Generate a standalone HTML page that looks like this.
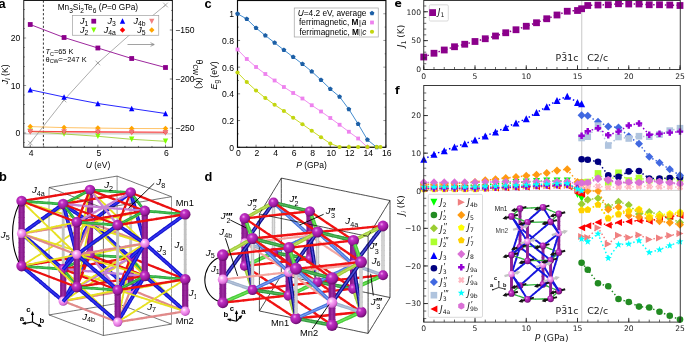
<!DOCTYPE html>
<html lang="en"><head><meta charset="utf-8"><title>Figure</title>
<style>
html,body{margin:0;padding:0;background:#fff;}
body{width:685px;height:344px;overflow:hidden;}
svg{display:block;}
text{white-space:pre;}
.ls{font-family:"Liberation Sans","DejaVu Sans",sans-serif;}
.dv{font-family:"DejaVu Sans","Liberation Sans",sans-serif;}
</style></head><body>
<svg width="685" height="344" viewBox="0 0 685 344">
<rect x="0" y="0" width="685" height="344" fill="#fff"/>
<g id="pa">
<line x1="23.75" y1="133.9" x2="172.4" y2="133.9" stroke="#b0b0b0" stroke-width="0.8"/>
<polyline points="30.25,143 64.06,100 97.88,63 131.69,33 165.5,5" fill="none" stroke="#8a8a8a" stroke-width="0.7"/>
<line x1="27.95" y1="140.7" x2="32.55" y2="145.3" stroke="#8a8a8a" stroke-width="0.7"/>
<line x1="27.95" y1="145.3" x2="32.55" y2="140.7" stroke="#8a8a8a" stroke-width="0.7"/>
<line x1="61.76" y1="97.7" x2="66.36" y2="102.3" stroke="#8a8a8a" stroke-width="0.7"/>
<line x1="61.76" y1="102.3" x2="66.36" y2="97.7" stroke="#8a8a8a" stroke-width="0.7"/>
<line x1="95.58" y1="60.7" x2="100.17" y2="65.3" stroke="#8a8a8a" stroke-width="0.7"/>
<line x1="95.58" y1="65.3" x2="100.17" y2="60.7" stroke="#8a8a8a" stroke-width="0.7"/>
<line x1="129.39" y1="30.7" x2="133.99" y2="35.3" stroke="#8a8a8a" stroke-width="0.7"/>
<line x1="129.39" y1="35.3" x2="133.99" y2="30.7" stroke="#8a8a8a" stroke-width="0.7"/>
<line x1="163.2" y1="2.7" x2="167.8" y2="7.3" stroke="#8a8a8a" stroke-width="0.7"/>
<line x1="163.2" y1="7.3" x2="167.8" y2="2.7" stroke="#8a8a8a" stroke-width="0.7"/>
<line x1="43.4" y1="0.5" x2="43.4" y2="147.25" stroke="#000" stroke-width="0.8" stroke-dasharray="2.2 2"/>
<line x1="127.5" y1="44.5" x2="154" y2="44.5" stroke="#8a8a8a" stroke-width="0.8"/>
<polyline points="150.5,42.7 154.3,44.5 150.5,46.3" fill="none" stroke="#8a8a8a" stroke-width="0.8"/>
<polyline points="30.25,131.3 64.06,134 97.88,136.3 131.69,139.3 165.5,141.3" fill="none" stroke="#9acd32" stroke-width="0.85"/>
<polyline points="30.25,126.6 64.06,127.6 97.88,128.1 131.69,128.5 165.5,128.6" fill="none" stroke="#ffb84d" stroke-width="0.85"/>
<polyline points="30.25,131.3 64.06,131.6 97.88,131.8 131.69,132 165.5,132.2" fill="none" stroke="#ff0000" stroke-width="0.85"/>
<polyline points="30.25,131.8 64.06,132.1 97.88,132.4 131.69,132.6 165.5,132.8" fill="none" stroke="#f26a6a" stroke-width="0.85"/>
<polyline points="30.25,89.75 64.06,97 97.88,103.5 131.69,108.5 165.5,113.5" fill="none" stroke="#0000ff" stroke-width="0.85"/>
<polyline points="30.25,24.5 64.06,37.5 97.88,48 131.69,58.5 165.5,67.5" fill="none" stroke="#8b008b" stroke-width="0.85"/>
<polygon points="30.25,134 32.95,128.6 27.55,128.6" fill="#7fff00"/>
<polygon points="64.06,136.7 66.76,131.3 61.36,131.3" fill="#7fff00"/>
<polygon points="97.88,139 100.58,133.6 95.17,133.6" fill="#7fff00"/>
<polygon points="131.69,142 134.39,136.6 128.99,136.6" fill="#7fff00"/>
<polygon points="165.5,144 168.2,138.6 162.8,138.6" fill="#7fff00"/>
<polygon points="30.25,123.87 32.98,126.6 30.25,129.33 27.52,126.6" fill="#ffa500"/>
<polygon points="64.06,124.87 66.79,127.6 64.06,130.33 61.33,127.6" fill="#ffa500"/>
<polygon points="97.88,125.37 100.61,128.1 97.88,130.83 95.14,128.1" fill="#ffa500"/>
<polygon points="131.69,125.77 134.42,128.5 131.69,131.23 128.96,128.5" fill="#ffa500"/>
<polygon points="165.5,125.87 168.23,128.6 165.5,131.33 162.77,128.6" fill="#ffa500"/>
<polygon points="30.25,128.96 32.59,131.3 30.25,133.64 27.91,131.3" fill="#ff0000"/>
<polygon points="64.06,129.26 66.4,131.6 64.06,133.94 61.72,131.6" fill="#ff0000"/>
<polygon points="97.88,129.46 100.22,131.8 97.88,134.14 95.53,131.8" fill="#ff0000"/>
<polygon points="131.69,129.66 134.03,132 131.69,134.34 129.35,132" fill="#ff0000"/>
<polygon points="165.5,129.86 167.84,132.2 165.5,134.54 163.16,132.2" fill="#ff0000"/>
<polygon points="30.25,134.7 33.15,128.9 27.35,128.9" fill="#f07878"/>
<polygon points="64.06,135 66.96,129.2 61.16,129.2" fill="#f07878"/>
<polygon points="97.88,135.3 100.78,129.5 94.97,129.5" fill="#f07878"/>
<polygon points="131.69,135.5 134.59,129.7 128.79,129.7" fill="#f07878"/>
<polygon points="165.5,135.7 168.4,129.9 162.6,129.9" fill="#f07878"/>
<polygon points="30.25,87.05 32.95,92.45 27.55,92.45" fill="#0000ff"/>
<polygon points="64.06,94.3 66.76,99.7 61.36,99.7" fill="#0000ff"/>
<polygon points="97.88,100.8 100.58,106.2 95.17,106.2" fill="#0000ff"/>
<polygon points="131.69,105.8 134.39,111.2 128.99,111.2" fill="#0000ff"/>
<polygon points="165.5,110.8 168.2,116.2 162.8,116.2" fill="#0000ff"/>
<rect x="27.85" y="22.1" width="4.8" height="4.8" fill="#8b008b"/>
<rect x="61.66" y="35.1" width="4.8" height="4.8" fill="#8b008b"/>
<rect x="95.47" y="45.6" width="4.8" height="4.8" fill="#8b008b"/>
<rect x="129.29" y="56.1" width="4.8" height="4.8" fill="#8b008b"/>
<rect x="163.1" y="65.1" width="4.8" height="4.8" fill="#8b008b"/>
<rect x="23.75" y="0.5" width="148.65" height="146.75" fill="none" stroke="#1c1c1c" stroke-width="1"/>
<line x1="23.75" y1="142.5" x2="24.95" y2="142.5" stroke="#000" stroke-width="0.4"/>
<line x1="23.75" y1="133" x2="26.15" y2="133" stroke="#000" stroke-width="0.4"/>
<line x1="23.75" y1="123.5" x2="24.95" y2="123.5" stroke="#000" stroke-width="0.4"/>
<line x1="23.75" y1="114" x2="24.95" y2="114" stroke="#000" stroke-width="0.4"/>
<line x1="23.75" y1="104.5" x2="24.95" y2="104.5" stroke="#000" stroke-width="0.4"/>
<line x1="23.75" y1="95" x2="24.95" y2="95" stroke="#000" stroke-width="0.4"/>
<line x1="23.75" y1="85.5" x2="26.15" y2="85.5" stroke="#000" stroke-width="0.4"/>
<line x1="23.75" y1="76" x2="24.95" y2="76" stroke="#000" stroke-width="0.4"/>
<line x1="23.75" y1="66.5" x2="24.95" y2="66.5" stroke="#000" stroke-width="0.4"/>
<line x1="23.75" y1="57" x2="24.95" y2="57" stroke="#000" stroke-width="0.4"/>
<line x1="23.75" y1="47.5" x2="24.95" y2="47.5" stroke="#000" stroke-width="0.4"/>
<line x1="23.75" y1="38" x2="26.15" y2="38" stroke="#000" stroke-width="0.4"/>
<line x1="23.75" y1="28.5" x2="24.95" y2="28.5" stroke="#000" stroke-width="0.4"/>
<line x1="23.75" y1="19" x2="24.95" y2="19" stroke="#000" stroke-width="0.4"/>
<line x1="23.75" y1="9.5" x2="24.95" y2="9.5" stroke="#000" stroke-width="0.4"/>
<line x1="30.25" y1="147.25" x2="30.25" y2="144.65" stroke="#000" stroke-width="0.5"/>
<line x1="43.78" y1="147.25" x2="43.78" y2="145.95" stroke="#000" stroke-width="0.5"/>
<line x1="57.3" y1="147.25" x2="57.3" y2="145.95" stroke="#000" stroke-width="0.5"/>
<line x1="70.82" y1="147.25" x2="70.82" y2="145.95" stroke="#000" stroke-width="0.5"/>
<line x1="84.35" y1="147.25" x2="84.35" y2="145.95" stroke="#000" stroke-width="0.5"/>
<line x1="97.88" y1="147.25" x2="97.88" y2="144.65" stroke="#000" stroke-width="0.5"/>
<line x1="111.4" y1="147.25" x2="111.4" y2="145.95" stroke="#000" stroke-width="0.5"/>
<line x1="124.93" y1="147.25" x2="124.93" y2="145.95" stroke="#000" stroke-width="0.5"/>
<line x1="138.45" y1="147.25" x2="138.45" y2="145.95" stroke="#000" stroke-width="0.5"/>
<line x1="151.97" y1="147.25" x2="151.97" y2="145.95" stroke="#000" stroke-width="0.5"/>
<line x1="165.5" y1="147.25" x2="165.5" y2="144.65" stroke="#000" stroke-width="0.5"/>
<line x1="172.4" y1="137.8" x2="171.1" y2="137.8" stroke="#000" stroke-width="0.5"/>
<line x1="172.4" y1="128" x2="169.8" y2="128" stroke="#000" stroke-width="0.5"/>
<line x1="172.4" y1="118.2" x2="171.1" y2="118.2" stroke="#000" stroke-width="0.5"/>
<line x1="172.4" y1="108.4" x2="171.1" y2="108.4" stroke="#000" stroke-width="0.5"/>
<line x1="172.4" y1="98.6" x2="171.1" y2="98.6" stroke="#000" stroke-width="0.5"/>
<line x1="172.4" y1="88.8" x2="171.1" y2="88.8" stroke="#000" stroke-width="0.5"/>
<line x1="172.4" y1="79" x2="169.8" y2="79" stroke="#000" stroke-width="0.5"/>
<line x1="172.4" y1="69.2" x2="171.1" y2="69.2" stroke="#000" stroke-width="0.5"/>
<line x1="172.4" y1="59.4" x2="171.1" y2="59.4" stroke="#000" stroke-width="0.5"/>
<line x1="172.4" y1="49.6" x2="171.1" y2="49.6" stroke="#000" stroke-width="0.5"/>
<line x1="172.4" y1="39.8" x2="171.1" y2="39.8" stroke="#000" stroke-width="0.5"/>
<line x1="172.4" y1="30" x2="169.8" y2="30" stroke="#000" stroke-width="0.5"/>
<line x1="172.4" y1="20.2" x2="171.1" y2="20.2" stroke="#000" stroke-width="0.5"/>
<line x1="172.4" y1="10.4" x2="171.1" y2="10.4" stroke="#000" stroke-width="0.5"/>
<line x1="172.4" y1="0.6" x2="171.1" y2="0.6" stroke="#000" stroke-width="0.5"/>
<text x="20.3" y="136.4" font-size="8.6" text-anchor="end" class="ls">0</text>
<text x="20.3" y="88.9" font-size="8.6" text-anchor="end" class="ls">10</text>
<text x="20.3" y="41.4" font-size="8.6" text-anchor="end" class="ls">20</text>
<text x="31.15" y="156.4" font-size="8.6" text-anchor="middle" class="ls">4</text>
<text x="98.78" y="156.4" font-size="8.6" text-anchor="middle" class="ls">5</text>
<text x="166.4" y="156.4" font-size="8.6" text-anchor="middle" class="ls">6</text>
<text x="175.2" y="33.4" font-size="8.6" class="ls">−150</text>
<text x="175.2" y="82.4" font-size="8.6" class="ls">−200</text>
<text x="175.2" y="131.4" font-size="8.6" class="ls">−250</text>
<text x="98" y="167.8" font-size="8.5" text-anchor="middle" class="ls"><tspan font-style="italic">U</tspan> (eV)</text>
<text x="8.3" y="74.3" font-size="8.7" text-anchor="middle" class="ls" transform="rotate(-90 8.3 74.3)"><tspan font-style="italic">J</tspan><tspan dy="1.8" font-size="6.3" font-style="italic">i</tspan><tspan dy="-1.8"> (K)</tspan></text>
<text x="195.6" y="74.3" font-size="8.7" text-anchor="middle" class="ls" transform="rotate(90 195.6 74.3)">θ<tspan dy="2.2" font-size="6.3">CW</tspan><tspan dy="-2.2"> (K)</tspan></text>
<text x="97.9" y="10.3" font-size="8.3" text-anchor="middle" class="ls">Mn<tspan dy="2.5" font-size="6.6">3</tspan><tspan dy="-2.5">Si</tspan><tspan dy="2.5" font-size="6.6">2</tspan><tspan dy="-2.5">Te</tspan><tspan dy="2.5" font-size="6.6">6</tspan><tspan dy="-2.5"> (</tspan><tspan font-style="italic">P</tspan>=0 GPa)</text>
<rect x="72.5" y="15.5" width="86.25" height="19.75" fill="#fff" stroke="#a0a0a0" stroke-width="0.7"/>
<text x="88.3" y="23.8" font-size="9" text-anchor="end" class="ls"><tspan font-style="italic">J</tspan><tspan dy="2.4" font-size="6.8">1</tspan></text>
<rect x="91.35" y="18.8" width="4.8" height="4.8" fill="#8b008b"/>
<text x="88.3" y="32.6" font-size="9" text-anchor="end" class="ls"><tspan font-style="italic">J</tspan><tspan dy="2.4" font-size="6.8">2</tspan></text>
<polygon points="93.75,32.8 96.35,27.6 91.15,27.6" fill="#7fff00"/>
<text x="115.8" y="23.8" font-size="9" text-anchor="end" class="ls"><tspan font-style="italic">J</tspan><tspan dy="2.4" font-size="6.8">3</tspan></text>
<polygon points="122.5,18.3 125.2,23.7 119.8,23.7" fill="#0000ff"/>
<text x="115.8" y="32.6" font-size="9" text-anchor="end" class="ls"><tspan font-style="italic">J</tspan><tspan dy="2.4" font-size="6.8">4a</tspan></text>
<polygon points="122.5,27.27 125.23,30 122.5,32.73 119.77,30" fill="#ff0000"/>
<text x="145.6" y="23.8" font-size="9" text-anchor="end" class="ls"><tspan font-style="italic">J</tspan><tspan dy="2.4" font-size="6.8">4b</tspan></text>
<polygon points="151.75,24 154.35,18.8 149.15,18.8" fill="#f08080"/>
<text x="145.6" y="32.6" font-size="9" text-anchor="end" class="ls"><tspan font-style="italic">J</tspan><tspan dy="2.4" font-size="6.8">5</tspan></text>
<polygon points="151.75,27.27 154.48,30 151.75,32.73 149.02,30" fill="#ffa500"/>
<text x="45.5" y="54.3" font-size="7.4" class="ls"><tspan font-style="italic">T</tspan><tspan dy="1.8" font-size="5.4">C</tspan><tspan dy="-1.8">=65 K</tspan></text>
<text x="45.5" y="61.5" font-size="7.4" class="ls">θ<tspan dy="1.8" font-size="5.4">CW</tspan><tspan dy="-1.8">=−247 K</tspan></text>
<text x="-1.5" y="7.7" font-size="12.8" class="ls" font-weight="bold">a</text>
</g>
<g id="pc">
<polyline points="237.5,13.75 246.78,19 256.06,28 265.34,35.5 274.62,42.75 283.9,50 293.18,57 302.46,64 311.74,71.5 321.02,80 330.3,89 339.58,96.75 348.86,109.25 358.14,124 367.42,139.75 376.7,147.25" fill="none" stroke="#2f7fc8" stroke-width="0.9"/>
<polyline points="237.5,49.5 246.78,59 256.06,67 265.34,74 274.62,80.5 283.9,87 293.18,93 302.46,98.5 311.74,105.25 321.02,111.5 330.3,118 339.58,124.75 348.86,131.75 358.14,138.5 367.42,147.25" fill="none" stroke="#ee82ee" stroke-width="0.9"/>
<polyline points="237.5,72.5 246.78,82 256.06,90.5 265.34,98 274.62,104.75 283.9,111 293.18,117.75 302.46,124.25 311.74,130.75 321.02,137.25 330.3,143.5 339.58,147 348.86,147 358.14,147 367.42,147 376.7,147 380.41,147" fill="none" stroke="#c3d60f" stroke-width="0.9"/>
<rect x="237.5" y="0.5" width="148.4" height="146.8" fill="none" stroke="#0a0a0a" stroke-width="1.15"/>
<line x1="237.5" y1="147.25" x2="240.1" y2="147.25" stroke="#000" stroke-width="0.5"/>
<line x1="237.5" y1="133.9" x2="238.8" y2="133.9" stroke="#000" stroke-width="0.5"/>
<line x1="237.5" y1="120.55" x2="240.1" y2="120.55" stroke="#000" stroke-width="0.5"/>
<line x1="237.5" y1="107.2" x2="238.8" y2="107.2" stroke="#000" stroke-width="0.5"/>
<line x1="237.5" y1="93.85" x2="240.1" y2="93.85" stroke="#000" stroke-width="0.5"/>
<line x1="237.5" y1="80.5" x2="238.8" y2="80.5" stroke="#000" stroke-width="0.5"/>
<line x1="237.5" y1="67.15" x2="240.1" y2="67.15" stroke="#000" stroke-width="0.5"/>
<line x1="237.5" y1="53.8" x2="238.8" y2="53.8" stroke="#000" stroke-width="0.5"/>
<line x1="237.5" y1="40.45" x2="240.1" y2="40.45" stroke="#000" stroke-width="0.5"/>
<line x1="237.5" y1="27.1" x2="238.8" y2="27.1" stroke="#000" stroke-width="0.5"/>
<line x1="237.5" y1="13.75" x2="240.1" y2="13.75" stroke="#000" stroke-width="0.5"/>
<line x1="237.5" y1="147.3" x2="237.5" y2="144.7" stroke="#000" stroke-width="0.5"/>
<line x1="246.78" y1="147.3" x2="246.78" y2="146" stroke="#000" stroke-width="0.5"/>
<line x1="256.06" y1="147.3" x2="256.06" y2="144.7" stroke="#000" stroke-width="0.5"/>
<line x1="265.34" y1="147.3" x2="265.34" y2="146" stroke="#000" stroke-width="0.5"/>
<line x1="274.62" y1="147.3" x2="274.62" y2="144.7" stroke="#000" stroke-width="0.5"/>
<line x1="283.9" y1="147.3" x2="283.9" y2="146" stroke="#000" stroke-width="0.5"/>
<line x1="293.18" y1="147.3" x2="293.18" y2="144.7" stroke="#000" stroke-width="0.5"/>
<line x1="302.46" y1="147.3" x2="302.46" y2="146" stroke="#000" stroke-width="0.5"/>
<line x1="311.74" y1="147.3" x2="311.74" y2="144.7" stroke="#000" stroke-width="0.5"/>
<line x1="321.02" y1="147.3" x2="321.02" y2="146" stroke="#000" stroke-width="0.5"/>
<line x1="330.3" y1="147.3" x2="330.3" y2="144.7" stroke="#000" stroke-width="0.5"/>
<line x1="339.58" y1="147.3" x2="339.58" y2="146" stroke="#000" stroke-width="0.5"/>
<line x1="348.86" y1="147.3" x2="348.86" y2="144.7" stroke="#000" stroke-width="0.5"/>
<line x1="358.14" y1="147.3" x2="358.14" y2="146" stroke="#000" stroke-width="0.5"/>
<line x1="367.42" y1="147.3" x2="367.42" y2="144.7" stroke="#000" stroke-width="0.5"/>
<line x1="376.7" y1="147.3" x2="376.7" y2="146" stroke="#000" stroke-width="0.5"/>
<line x1="385.98" y1="147.3" x2="385.98" y2="144.7" stroke="#000" stroke-width="0.5"/>
<line x1="385.9" y1="147.25" x2="383.3" y2="147.25" stroke="#000" stroke-width="0.4"/>
<line x1="385.9" y1="133.9" x2="384.6" y2="133.9" stroke="#000" stroke-width="0.4"/>
<line x1="385.9" y1="120.55" x2="383.3" y2="120.55" stroke="#000" stroke-width="0.4"/>
<line x1="385.9" y1="107.2" x2="384.6" y2="107.2" stroke="#000" stroke-width="0.4"/>
<line x1="385.9" y1="93.85" x2="383.3" y2="93.85" stroke="#000" stroke-width="0.4"/>
<line x1="385.9" y1="80.5" x2="384.6" y2="80.5" stroke="#000" stroke-width="0.4"/>
<line x1="385.9" y1="67.15" x2="383.3" y2="67.15" stroke="#000" stroke-width="0.4"/>
<line x1="385.9" y1="53.8" x2="384.6" y2="53.8" stroke="#000" stroke-width="0.4"/>
<line x1="385.9" y1="40.45" x2="383.3" y2="40.45" stroke="#000" stroke-width="0.4"/>
<line x1="385.9" y1="27.1" x2="384.6" y2="27.1" stroke="#000" stroke-width="0.4"/>
<line x1="385.9" y1="13.75" x2="383.3" y2="13.75" stroke="#000" stroke-width="0.4"/>
<polygon points="237.5,11.23 239.9,12.97 238.98,15.79 236.02,15.79 235.1,12.97" fill="#1c5fa6"/>
<polygon points="246.78,16.48 249.18,18.22 248.26,21.04 245.3,21.04 244.38,18.22" fill="#1c5fa6"/>
<polygon points="256.06,25.48 258.46,27.22 257.54,30.04 254.58,30.04 253.66,27.22" fill="#1c5fa6"/>
<polygon points="265.34,32.98 267.74,34.72 266.82,37.54 263.86,37.54 262.94,34.72" fill="#1c5fa6"/>
<polygon points="274.62,40.23 277.02,41.97 276.1,44.79 273.14,44.79 272.22,41.97" fill="#1c5fa6"/>
<polygon points="283.9,47.48 286.3,49.22 285.38,52.04 282.42,52.04 281.5,49.22" fill="#1c5fa6"/>
<polygon points="293.18,54.48 295.58,56.22 294.66,59.04 291.7,59.04 290.78,56.22" fill="#1c5fa6"/>
<polygon points="302.46,61.48 304.86,63.22 303.94,66.04 300.98,66.04 300.06,63.22" fill="#1c5fa6"/>
<polygon points="311.74,68.98 314.14,70.72 313.22,73.54 310.26,73.54 309.34,70.72" fill="#1c5fa6"/>
<polygon points="321.02,77.48 323.42,79.22 322.5,82.04 319.54,82.04 318.62,79.22" fill="#1c5fa6"/>
<polygon points="330.3,86.48 332.7,88.22 331.78,91.04 328.82,91.04 327.9,88.22" fill="#1c5fa6"/>
<polygon points="339.58,94.23 341.98,95.97 341.06,98.79 338.1,98.79 337.18,95.97" fill="#1c5fa6"/>
<polygon points="348.86,106.73 351.26,108.47 350.34,111.29 347.38,111.29 346.46,108.47" fill="#1c5fa6"/>
<polygon points="358.14,121.48 360.54,123.22 359.62,126.04 356.66,126.04 355.74,123.22" fill="#1c5fa6"/>
<polygon points="367.42,137.23 369.82,138.97 368.9,141.79 365.94,141.79 365.02,138.97" fill="#1c5fa6"/>
<polygon points="376.7,144.73 379.1,146.47 378.18,149.29 375.22,149.29 374.3,146.47" fill="#1c5fa6"/>
<rect x="235.6" y="47.6" width="3.8" height="3.8" fill="#ee82ee"/>
<rect x="244.88" y="57.1" width="3.8" height="3.8" fill="#ee82ee"/>
<rect x="254.16" y="65.1" width="3.8" height="3.8" fill="#ee82ee"/>
<rect x="263.44" y="72.1" width="3.8" height="3.8" fill="#ee82ee"/>
<rect x="272.72" y="78.6" width="3.8" height="3.8" fill="#ee82ee"/>
<rect x="282" y="85.1" width="3.8" height="3.8" fill="#ee82ee"/>
<rect x="291.28" y="91.1" width="3.8" height="3.8" fill="#ee82ee"/>
<rect x="300.56" y="96.6" width="3.8" height="3.8" fill="#ee82ee"/>
<rect x="309.84" y="103.35" width="3.8" height="3.8" fill="#ee82ee"/>
<rect x="319.12" y="109.6" width="3.8" height="3.8" fill="#ee82ee"/>
<rect x="328.4" y="116.1" width="3.8" height="3.8" fill="#ee82ee"/>
<rect x="337.68" y="122.85" width="3.8" height="3.8" fill="#ee82ee"/>
<rect x="346.96" y="129.85" width="3.8" height="3.8" fill="#ee82ee"/>
<rect x="356.24" y="136.6" width="3.8" height="3.8" fill="#ee82ee"/>
<rect x="365.52" y="145.35" width="3.8" height="3.8" fill="#ee82ee"/>
<circle cx="237.5" cy="72.5" r="2.1" fill="#c3d60f"/>
<circle cx="246.78" cy="82" r="2.1" fill="#c3d60f"/>
<circle cx="256.06" cy="90.5" r="2.1" fill="#c3d60f"/>
<circle cx="265.34" cy="98" r="2.1" fill="#c3d60f"/>
<circle cx="274.62" cy="104.75" r="2.1" fill="#c3d60f"/>
<circle cx="283.9" cy="111" r="2.1" fill="#c3d60f"/>
<circle cx="293.18" cy="117.75" r="2.1" fill="#c3d60f"/>
<circle cx="302.46" cy="124.25" r="2.1" fill="#c3d60f"/>
<circle cx="311.74" cy="130.75" r="2.1" fill="#c3d60f"/>
<circle cx="321.02" cy="137.25" r="2.1" fill="#c3d60f"/>
<circle cx="330.3" cy="143.5" r="2.1" fill="#c3d60f"/>
<circle cx="339.58" cy="147" r="2.1" fill="#c3d60f"/>
<circle cx="348.86" cy="147" r="2.1" fill="#c3d60f"/>
<circle cx="358.14" cy="147" r="2.1" fill="#c3d60f"/>
<circle cx="367.42" cy="147" r="2.1" fill="#c3d60f"/>
<circle cx="376.7" cy="147" r="2.1" fill="#c3d60f"/>
<circle cx="380.41" cy="147" r="2.1" fill="#c3d60f"/>
<text x="234" y="17.25" font-size="8.6" text-anchor="end" class="ls">1</text>
<text x="234" y="43.95" font-size="8.6" text-anchor="end" class="ls">0.8</text>
<text x="234" y="70.65" font-size="8.6" text-anchor="end" class="ls">0.6</text>
<text x="234" y="97.35" font-size="8.6" text-anchor="end" class="ls">0.4</text>
<text x="234" y="124.05" font-size="8.6" text-anchor="end" class="ls">0.2</text>
<text x="234" y="150.75" font-size="8.6" text-anchor="end" class="ls">0</text>
<text x="238.4" y="156.4" font-size="8.6" text-anchor="middle" class="ls">0</text>
<text x="256.96" y="156.4" font-size="8.6" text-anchor="middle" class="ls">2</text>
<text x="275.52" y="156.4" font-size="8.6" text-anchor="middle" class="ls">4</text>
<text x="294.08" y="156.4" font-size="8.6" text-anchor="middle" class="ls">6</text>
<text x="312.64" y="156.4" font-size="8.6" text-anchor="middle" class="ls">8</text>
<text x="331.2" y="156.4" font-size="8.6" text-anchor="middle" class="ls">10</text>
<text x="349.76" y="156.4" font-size="8.6" text-anchor="middle" class="ls">12</text>
<text x="368.32" y="156.4" font-size="8.6" text-anchor="middle" class="ls">14</text>
<text x="386.88" y="156.4" font-size="8.6" text-anchor="middle" class="ls">16</text>
<text x="311.5" y="167.8" font-size="8.5" text-anchor="middle" class="ls"><tspan font-style="italic">P</tspan> (GPa)</text>
<text x="217.5" y="75.3" font-size="8.7" text-anchor="middle" class="ls" transform="rotate(-90 217.5 75.3)"><tspan font-style="italic">E</tspan><tspan dy="1.8" font-size="6.3">g</tspan><tspan dy="-1.8"> (eV)</tspan></text>
<rect x="294.25" y="8" width="84" height="29" fill="#fff" stroke="#a0a0a0" stroke-width="0.7"/>
<text x="366.4" y="16.1" font-size="8.3" text-anchor="end" class="ls"><tspan font-style="italic">U</tspan>=4.2 eV, average</text>
<text x="366.4" y="25.4" font-size="8.3" text-anchor="end" class="ls">ferrimagnetic, <tspan font-weight="bold">M</tspan><tspan font-size="6.3" dy="-0.5" fill="#555">||</tspan><tspan font-style="italic" dy="0.5">a</tspan></text>
<text x="366.4" y="34.6" font-size="8.3" text-anchor="end" class="ls">ferrimagnetic, <tspan font-weight="bold">M</tspan><tspan font-size="6.3" dy="-0.5" fill="#555">||</tspan><tspan font-style="italic" dy="0.5">c</tspan></text>
<polygon points="372,10.73 374.4,12.47 373.48,15.29 370.52,15.29 369.6,12.47" fill="#1c5fa6"/>
<rect x="370.1" y="20.6" width="3.8" height="3.8" fill="#ee82ee"/>
<circle cx="372" cy="31.75" r="2.1" fill="#c3d60f"/>
<text x="204.4" y="7.7" font-size="12.8" class="ls" font-weight="bold">c</text>
</g>
<g id="pb">
<defs>
<radialGradient id="gm1" cx="0.38" cy="0.34" r="0.7"><stop offset="0" stop-color="#f0a0ee"/><stop offset="0.25" stop-color="#c030c4"/><stop offset="0.7" stop-color="#9a1a9e"/><stop offset="1" stop-color="#5e0a62"/></radialGradient>
<radialGradient id="gm2" cx="0.38" cy="0.34" r="0.7"><stop offset="0" stop-color="#ffffff"/><stop offset="0.3" stop-color="#f9a8f5"/><stop offset="0.75" stop-color="#e070dc"/><stop offset="1" stop-color="#a040a0"/></radialGradient>
</defs>
<style>
.bx{stroke:#1a1a1a;stroke-width:0.6;fill:none}
.bxv{stroke:#777;stroke-width:0.75;fill:none}
.bxd{stroke:#111;stroke-width:0.75;fill:none}
.j1{stroke:#871a8b;stroke-width:6.2;fill:none}
.j1h{stroke:#9a2a9e;stroke-width:2.2;fill:none}
.j3h{stroke:#3535ee;stroke-width:1.5;fill:none}
.j2h{stroke:#4cc45a;stroke-width:1;fill:none}
.d3ah{stroke:#5252dc;stroke-width:1.3;fill:none}
.d3bh{stroke:#7fa2f2;stroke-width:1.1;fill:none}
.d3ch{stroke:#b6c4da;stroke-width:1.1;fill:none}
.d2ah{stroke:#55b85e;stroke-width:1.2;fill:none}
.d2bh{stroke:#bfe060;stroke-width:1.2;fill:none}
.d2ch{stroke:#72e060;stroke-width:1.3;fill:none}
.d6h{stroke:#dedede;stroke-width:1.1;fill:none}
.j3{stroke:#1212d0;stroke-width:3.7;fill:none}
.j2{stroke:#27a83a;stroke-width:2.7;fill:none}
.j4a{stroke:#ea1010;stroke-width:2.3;fill:none}
.j4b{stroke:#e08a8a;stroke-width:2.2;fill:none}
.j6{stroke:#c2c2c2;stroke-width:2.8;fill:none}
.j7{stroke:#e6e022;stroke-width:1.8;fill:none}
.j8{stroke:#c583d6;stroke-width:2.3;fill:none}
.d1{stroke:#8a1a8e;stroke-width:6.8;fill:none}
.d6{stroke:#c4c4c4;stroke-width:3.4;fill:none}
.d2a{stroke:#2f9a3a;stroke-width:3.5;fill:none}
.d2b{stroke:#a0cc3a;stroke-width:3.5;fill:none}
.d2c{stroke:#45cc35;stroke-width:3.7;fill:none}
.d3a{stroke:#12128c;stroke-width:3.7;fill:none}
.d3b{stroke:#4573dc;stroke-width:3.4;fill:none}
.d3c{stroke:#a0b2cc;stroke-width:3.4;fill:none}
.d4a{stroke:#f01212;stroke-width:2.3;fill:none}
.d4b{stroke:#f2a6a0;stroke-width:2.1;fill:none}
.i1{stroke:#8f1f93;stroke-width:2.9;fill:none}
.i3{stroke:#1515dd;stroke-width:1.9;fill:none}
.i2{stroke:#2fb23a;stroke-width:1.3;fill:none}
.ar{stroke:#151515;stroke-width:2;fill:none}
.ag{stroke:#c4c4c4;stroke-width:2.3;fill:none}
</style>
<clipPath id="cpb"><rect x="0" y="172" width="195.9" height="172"/></clipPath><g clip-path="url(#cpb)">
<path class="bx" d="M112.3 304.3L117.1 303.5"/>
<path class="bxv" d="M117.1 298.4L117.1 303.5"/>
<path class="bx" d="M117.1 303.5L121.7 305.2"/>
<path class="bx" d="M102.6 305.9L112.3 304.3"/>
<path class="bxv" d="M117.1 293.3L117.1 298.4"/>
<path class="bx" d="M121.7 305.2L126.2 306.9"/>
<path class="bx" d="M97.7 306.8L102.6 305.9"/>
<path class="bxv" d="M117.1 288.2L117.1 293.3"/>
<path class="bx" d="M88 308.4L97.7 306.8"/>
<path class="bx" d="M126.2 306.9L130.8 308.6"/>
<path class="bxv" d="M117.1 283.1L117.1 288.2"/>
<path class="bx" d="M78.2 310L88 308.4"/>
<path class="bxv" d="M117.1 278L117.1 283.1"/>
<path class="bx" d="M130.8 308.6L135.3 310.4"/>
<path class="bx" d="M73.4 310.8L78.2 310"/>
<path class="bxv" d="M117.1 272.9L117.1 278"/>
<path class="bx" d="M68.5 311.6L73.4 310.8"/>
<path class="bx" d="M135.3 310.4L139.8 312.1"/>
<path class="bx" d="M63.6 312.5L68.5 311.6"/>
<path class="bxv" d="M117.1 267.8L117.1 272.9"/>
<path class="bx" d="M53.9 314.1L63.6 312.5"/>
<path class="bxv" d="M117.1 262.7L117.1 267.8"/>
<path class="bx" d="M139.8 312.1L144.3 313.8"/>
<path class="bx" d="M49 314.9L53.9 314.1"/>
<path class="bxv" d="M117.1 257.6L117.1 262.7"/>
<path class="bxv" d="M49 309.8L49 314.9"/>
<path class="bx" d="M144.3 313.8L148.9 315.5"/>
<path class="bx" d="M49 314.9L53.6 316.6"/>
<path class="bxv" d="M117.1 252.5L117.1 257.6"/>
<path class="bxv" d="M49 304.7L49 309.8"/>
<path class="bx" d="M148.9 315.5L153.4 317.2"/>
<path class="bx" d="M53.6 316.6L58.1 318.3"/>
<path class="bxv" d="M117.1 247.4L117.1 252.5"/>
<path class="bxv" d="M49 299.6L49 304.7"/>
<path class="bxv" d="M117.1 242.3L117.1 247.4"/>
<path class="bx" d="M153.4 317.2L157.9 319"/>
<path class="bx" d="M58.1 318.3L62.6 320"/>
<path class="bxv" d="M49 294.5L49 299.6"/>
<path class="bxv" d="M117.1 237.3L117.1 242.3"/>
<path class="bxv" d="M49 289.4L49 294.5"/>
<path class="bx" d="M157.9 319L162.5 320.7"/>
<path class="bx" d="M62.6 320L67.2 321.8"/>
<path class="bxv" d="M117.1 232.2L117.1 237.3"/>
<path class="bxv" d="M49 284.3L49 289.4"/>
<path class="bx" d="M162.5 320.7L167 322.4"/>
<path class="bxv" d="M117.1 227.1L117.1 232.2"/>
<path class="bx" d="M67.2 321.8L71.7 323.5"/>
<path class="bxv" d="M49 279.2L49 284.3"/>
<path class="bxv" d="M117.1 222L117.1 227.1"/>
<path class="bx" d="M167 322.4L171.5 324.1"/>
<path class="bxv" d="M49 274.1L49 279.2"/>
<path class="bx" d="M71.7 323.5L76.2 325.2"/>
<path class="bxv" d="M117.1 216.9L117.1 222"/>
<path class="bx" d="M166.7 324.9L171.5 324.1"/>
<path class="bxv" d="M49 269L49 274.1"/>
<path class="bxv" d="M171.5 319L171.5 324.1"/>
<path class="bx" d="M76.2 325.2L80.8 326.9"/>
<path class="bx" d="M161.8 325.7L166.7 324.9"/>
<path class="bxv" d="M117.1 211.8L117.1 216.9"/>
<path class="bxv" d="M49 263.9L49 269"/>
<path class="bx" d="M157 326.5L161.8 325.7"/>
<path class="bxv" d="M171.5 313.9L171.5 319"/>
<path class="bxv" d="M117.1 206.7L117.1 211.8"/>
<path class="bx" d="M152.1 327.4L157 326.5"/>
<path class="bx" d="M80.8 326.9L85.3 328.6"/>
<path class="bxv" d="M49 258.8L49 263.9"/>
<path class="bxv" d="M171.5 308.8L171.5 313.9"/>
<path class="bx" d="M147.2 328.2L152.1 327.4"/>
<path class="bxv" d="M117.1 201.6L117.1 206.7"/>
<path class="bx" d="M142.4 329L147.2 328.2"/>
<path class="bxv" d="M49 253.7L49 258.8"/>
<path class="j3" d="M131 289.8L126.7 286.2"/>
<path class="j3h" d="M131 289.8L126.7 286.2"/>
<path class="bxv" d="M171.5 303.7L171.5 308.8"/>
<path class="bx" d="M85.3 328.6L89.8 330.4"/>
<path class="j4b" d="M125.5 290.5L131 289.5"/>
<path class="j3" d="M127.3 286.7L123 283.1"/>
<path class="j3h" d="M127.3 286.7L123 283.1"/>
<path class="j7" d="M131 289.7L125.5 288"/>
<path class="j1" d="M130.7 283.9L130.7 290"/>
<path class="j1h" d="M130.7 283.9L130.7 290"/>
<path class="bx" d="M137.5 329.8L142.4 329"/>
<path class="j4b" d="M130.4 289.5L135.6 291.5"/>
<path class="bxv" d="M117.1 196.5L117.1 201.6"/>
<path class="j3" d="M123.6 283.5L119.3 279.9"/>
<path class="j3h" d="M123.6 283.5L119.3 279.9"/>
<path class="j4b" d="M120.7 291.3L126.2 290.4"/>
<path class="j7" d="M130.4 289.7L136 288.6"/>
<path class="bxv" d="M49 248.7L49 253.7"/>
<path class="j3" d="M119.9 280.4L115.6 276.8"/>
<path class="j3h" d="M119.9 280.4L115.6 276.8"/>
<path class="bx" d="M132.6 330.6L137.5 329.8"/>
<path class="bxv" d="M171.5 298.6L171.5 303.7"/>
<path class="j3" d="M116.2 277.2L111.9 273.6"/>
<path class="j3h" d="M116.2 277.2L111.9 273.6"/>
<path class="j4b" d="M115.9 292.1L121.4 291.2"/>
<path class="j7" d="M126.2 288.2L120.7 286.6"/>
<path class="j1" d="M130.7 278.6L130.7 284.6"/>
<path class="j1h" d="M130.7 278.6L130.7 284.6"/>
<path class="bx" d="M89.8 330.4L94.4 332.1"/>
<path class="j4b" d="M130.8 289.3L128.7 294.6"/>
<path class="j3" d="M112.5 274.1L108.2 270.5"/>
<path class="j3h" d="M112.5 274.1L108.2 270.5"/>
<path class="bxv" d="M117.1 191.4L117.1 196.5"/>
<path class="bx" d="M127.8 331.4L132.6 330.6"/>
<circle cx="130.7" cy="289.6" r="4.7" fill="url(#gm2)"/>
<path class="j4b" d="M134.9 291.3L140.1 293.3"/>
<path class="j4b" d="M111.1 292.9L116.6 292"/>
<path class="j3" d="M108.8 271L104.5 267.4"/>
<path class="j3h" d="M108.8 271L104.5 267.4"/>
<path class="bxv" d="M49 243.6L49 248.7"/>
<path class="bxv" d="M171.5 293.5L171.5 298.6"/>
<path class="bx" d="M122.9 332.2L127.8 331.4"/>
<path class="j3" d="M105.1 267.8L100.8 264.2"/>
<path class="j3h" d="M105.1 267.8L100.8 264.2"/>
<path class="j3" d="M130.4 289.8L134.5 285.9"/>
<path class="j3h" d="M130.4 289.8L134.5 285.9"/>
<path class="j7" d="M121.4 286.8L115.9 285.1"/>
<path class="j1" d="M130.7 273.2L130.7 279.3"/>
<path class="j1h" d="M130.7 273.2L130.7 279.3"/>
<path class="j4b" d="M106.2 293.8L111.8 292.8"/>
<path class="j3" d="M101.4 264.7L97.1 261.1"/>
<path class="j3h" d="M101.4 264.7L97.1 261.1"/>
<path class="bxv" d="M117.1 186.3L117.1 191.4"/>
<path class="bx" d="M118 333.1L122.9 332.2"/>
<path class="bx" d="M94.4 332.1L98.9 333.8"/>
<path class="j3" d="M97.7 261.5L93.4 257.9"/>
<path class="j3h" d="M97.7 261.5L93.4 257.9"/>
<path class="j7" d="M135.3 288.7L141 287.7"/>
<path class="bxv" d="M49 238.5L49 243.6"/>
<path class="bxv" d="M171.5 288.4L171.5 293.5"/>
<path class="j4b" d="M101.4 294.6L106.9 293.6"/>
<path class="j3" d="M94 258.4L89.7 254.8"/>
<path class="j3h" d="M94 258.4L89.7 254.8"/>
<path class="j4b" d="M139.5 293.1L144.7 295.2"/>
<path class="bx" d="M113.2 333.9L118 333.1"/>
<path class="j7" d="M116.6 285.3L111.1 283.6"/>
<path class="j1" d="M130.7 267.9L130.7 274"/>
<path class="j1h" d="M130.7 267.9L130.7 274"/>
<path class="j2" d="M89.7 255L95.4 255.3"/>
<path class="j2h" d="M89.7 255L95.4 255.3"/>
<path class="j3" d="M87.4 259.5L90.2 254.7"/>
<path class="j3h" d="M87.4 259.5L90.2 254.7"/>
<path class="bxv" d="M117.1 181.2L117.1 186.3"/>
<path class="j4a" d="M84.8 255.8L90.3 254.9"/>
<path class="j4b" d="M96.6 295.4L102.1 294.5"/>
<path class="j2" d="M94.7 255.3L100.5 255.7"/>
<path class="j2h" d="M94.7 255.3L100.5 255.7"/>
<path class="j7" d="M84.8 253.4L90.3 255.1"/>
<path class="j1" d="M90 249.2L90 255.3"/>
<path class="j1h" d="M90 249.2L90 255.3"/>
<path class="bxv" d="M49 233.4L49 238.5"/>
<path class="bx" d="M108.3 334.7L113.2 333.9"/>
<path class="j3" d="M85 263.7L87.7 258.9"/>
<path class="j3h" d="M85 263.7L87.7 258.9"/>
<path class="j4a" d="M89.7 254.9L94.9 256.9"/>
<path class="bxv" d="M171.5 283.3L171.5 288.4"/>
<path class="bx" d="M98.9 333.8L103.4 335.5"/>
<path class="j2" d="M99.8 255.6L105.6 256"/>
<path class="j2h" d="M99.8 255.6L105.6 256"/>
<path class="j4a" d="M79.9 256.6L85.5 255.7"/>
<path class="j4b" d="M91.8 296.2L97.3 295.3"/>
<path class="j2" d="M90.3 254.8L85.2 257.5"/>
<path class="j2h" d="M90.3 254.8L85.2 257.5"/>
<path class="j7" d="M95.3 253.9L89.7 255.1"/>
<path class="j3" d="M82.5 267.9L85.3 263.1"/>
<path class="j3h" d="M82.5 267.9L85.3 263.1"/>
<path class="j7" d="M111.7 283.8L106.3 282.2"/>
<path class="j1" d="M130.7 262.6L130.7 268.6"/>
<path class="j1h" d="M130.7 262.6L130.7 268.6"/>
<path class="j2" d="M104.9 256L110.7 256.3"/>
<path class="j2h" d="M104.9 256L110.7 256.3"/>
<path class="bx" d="M103.4 335.5L108.3 334.7"/>
<path class="bxv" d="M117.1 176.1L117.1 181.2"/>
<path class="j4b" d="M144 294.9L149.2 297"/>
<path class="j4a" d="M75 257.4L80.6 256.5"/>
<path class="j4b" d="M87 297.1L92.5 296.1"/>
<path class="j3" d="M80.1 272.1L82.9 267.3"/>
<path class="j3h" d="M80.1 272.1L82.9 267.3"/>
<path class="j2" d="M110 256.3L115.8 256.6"/>
<path class="j2h" d="M110 256.3L115.8 256.6"/>
<path class="j8" d="M89.8 254.7L93.3 259.2"/>
<path class="bxv" d="M49 228.3L49 233.4"/>
<path class="j7" d="M79.9 251.8L85.4 253.6"/>
<path class="j1" d="M90 243.8L90 249.9"/>
<path class="j1h" d="M90 243.8L90 249.9"/>
<path class="j7" d="M140.3 287.8L145.9 286.7"/>
<path class="j7" d="M131 289.6L126 289.8"/>
<path class="bxv" d="M171.5 278.2L171.5 283.3"/>
<path class="j4b" d="M129 293.9L126.9 299.2"/>
<path class="j4a" d="M90.1 254.7L88 259.9"/>
<path class="j2" d="M115.1 256.6L120.9 257"/>
<path class="j2h" d="M115.1 256.6L120.9 257"/>
<circle cx="90" cy="255" r="5.3" fill="url(#gm1)"/>
<path class="j3" d="M77.6 276.3L80.4 271.5"/>
<path class="j3h" d="M77.6 276.3L80.4 271.5"/>
<path class="bx" d="M103.4 330.4L103.4 335.5"/>
<path class="bx" d="M112.3 176.9L117.1 176.1"/>
<path class="j4a" d="M94.2 256.6L99.5 258.6"/>
<path class="j4a" d="M70.1 258.2L75.7 257.3"/>
<path class="j4b" d="M82.1 297.9L87.7 296.9"/>
<path class="j7" d="M106.9 282.4L101.4 280.7"/>
<path class="j1" d="M130.7 257.2L130.7 263.3"/>
<path class="j1h" d="M130.7 257.2L130.7 263.3"/>
<path class="j2" d="M120.2 256.9L126 257.3"/>
<path class="j2h" d="M120.2 256.9L126 257.3"/>
<path class="j3" d="M75.2 280.4L78 275.7"/>
<path class="j3h" d="M75.2 280.4L78 275.7"/>
<path class="bx" d="M117.1 176.1L121.7 177.8"/>
<path class="j2" d="M125.3 257.3L131 257.6"/>
<path class="j2h" d="M125.3 257.3L131 257.6"/>
<path class="bxv" d="M49 223.2L49 228.3"/>
<path class="j4b" d="M148.5 296.7L153.7 298.8"/>
<path class="bx" d="M107.4 177.7L112.3 176.9"/>
<path class="j7" d="M75 250.3L80.6 252"/>
<path class="j1" d="M90 238.4L90 244.5"/>
<path class="j1h" d="M90 238.4L90 244.5"/>
<path class="j4a" d="M65.2 259L70.8 258.1"/>
<path class="j4b" d="M77.3 298.7L82.8 297.8"/>
<path class="bxv" d="M171.5 273.1L171.5 278.2"/>
<path class="j2" d="M85.8 257.2L80.8 259.9"/>
<path class="j2h" d="M85.8 257.2L80.8 259.9"/>
<path class="j7" d="M126.2 260.5L131 257.4"/>
<path class="j3" d="M72.8 284.6L75.6 279.8"/>
<path class="j3h" d="M72.8 284.6L75.6 279.8"/>
<path class="j3" d="M126.7 254.2L131 257.8"/>
<path class="j3h" d="M126.7 254.2L131 257.8"/>
<path class="j7" d="M122 263.2L126.8 260.1"/>
<path class="j4a" d="M125.5 258.5L131 257.5"/>
<path class="bx" d="M103.4 325.3L103.4 330.4"/>
<path class="j7" d="M117.7 265.9L122.6 262.8"/>
<path class="j7" d="M134.6 261.4L130.5 257.4"/>
<path class="j7" d="M100.3 252.8L94.6 254"/>
<path class="j7" d="M113.5 268.7L118.3 265.6"/>
<path class="j6" d="M130.7 252.3L130.7 258"/>
<path class="j3" d="M123 251L127.3 254.6"/>
<path class="j3h" d="M123 251L127.3 254.6"/>
<path class="j7" d="M102.1 280.9L96.6 279.2"/>
<path class="bx" d="M102.6 178.5L107.4 177.7"/>
<path class="j3" d="M70.3 288.8L73.1 284"/>
<path class="j3h" d="M70.3 288.8L73.1 284"/>
<path class="j4a" d="M60.3 259.8L65.9 258.9"/>
<path class="j4b" d="M72.5 299.5L78 298.6"/>
<path class="j7" d="M109.3 271.4L114.1 268.3"/>
<path class="j4a" d="M130.4 257.5L135.6 259.5"/>
<path class="j7" d="M105.1 274.1L109.9 271"/>
<path class="j7" d="M129.6 262.9L130.8 257.3"/>
<path class="j4a" d="M98.8 258.4L104 260.3"/>
<path class="j3" d="M119.3 247.8L123.6 251.4"/>
<path class="j3h" d="M119.3 247.8L123.6 251.4"/>
<path class="j7" d="M100.9 276.8L105.7 273.7"/>
<path class="bxv" d="M49 218.1L49 223.2"/>
<path class="j4a" d="M120.7 259.3L126.2 258.4"/>
<path class="j8" d="M125.9 260.2L131 257.4"/>
<path class="j7" d="M145.2 286.9L150.9 285.8"/>
<path class="j7" d="M96.7 279.5L101.5 276.4"/>
<path class="j7" d="M70.1 248.8L75.7 250.5"/>
<path class="j3" d="M67.9 293L70.7 288.2"/>
<path class="j3h" d="M67.9 293L70.7 288.2"/>
<path class="bxv" d="M171.5 268L171.5 273.1"/>
<path class="j1" d="M90 233L90 239.1"/>
<path class="j1h" d="M90 233L90 239.1"/>
<path class="j7" d="M138.2 265L134.1 260.9"/>
<path class="bx" d="M121.7 177.8L126.2 179.5"/>
<path class="j7" d="M92.4 282.3L97.2 279.2"/>
<path class="bx" d="M97.7 179.4L102.6 178.5"/>
<path class="j4a" d="M55.5 260.6L61 259.7"/>
<path class="j4b" d="M67.7 300.3L73.2 299.4"/>
<path class="j3" d="M115.6 244.6L119.9 248.3"/>
<path class="j3h" d="M115.6 244.6L119.9 248.3"/>
<path class="j7" d="M88.2 285L93 281.9"/>
<path class="j3" d="M134 286.4L138 282.5"/>
<path class="j3h" d="M134 286.4L138 282.5"/>
<path class="j4b" d="M153.1 298.5L158.3 300.6"/>
<path class="bx" d="M103.4 320.2L103.4 325.3"/>
<path class="j7" d="M84 287.7L88.8 284.6"/>
<path class="j2" d="M133.7 261.5L130.5 257.3"/>
<path class="j2h" d="M133.7 261.5L130.5 257.3"/>
<path class="j3" d="M65.5 297.2L68.2 292.4"/>
<path class="j3h" d="M65.5 297.2L68.2 292.4"/>
<path class="j6" d="M130.7 247.3L130.7 253"/>
<path class="j7" d="M79.8 290.4L84.6 287.3"/>
<path class="j4a" d="M115.9 260.1L121.4 259.2"/>
<path class="j3" d="M111.9 241.4L116.2 245.1"/>
<path class="j3h" d="M111.9 241.4L116.2 245.1"/>
<path class="j7" d="M97.3 279.5L91.8 277.8"/>
<path class="j7" d="M75.6 293.1L80.4 290"/>
<path class="j7" d="M141.8 268.6L137.7 264.5"/>
<path class="bx" d="M92.8 180.2L97.7 179.4"/>
<path class="j7" d="M71.3 295.9L76.2 292.8"/>
<path class="j4a" d="M50.6 261.4L56.1 260.5"/>
<path class="j4b" d="M62.9 301.2L68.4 300.2"/>
<path class="j4a" d="M130.8 257.3L128.7 262.6"/>
<path class="j3" d="M108.2 238.2L112.5 241.9"/>
<path class="j3h" d="M108.2 238.2L112.5 241.9"/>
<path class="j3" d="M63 301.4L65.8 296.6"/>
<path class="j3h" d="M63 301.4L65.8 296.6"/>
<path class="bxv" d="M49 213L49 218.1"/>
<path class="j7" d="M67.1 298.6L71.9 295.5"/>
<path class="j8" d="M92.9 258.6L96.4 263.1"/>
<path class="j2" d="M81.4 259.5L76.3 262.2"/>
<path class="j2h" d="M81.4 259.5L76.3 262.2"/>
<circle cx="130.7" cy="257.6" r="5.3" fill="url(#gm1)"/>
<path class="bxv" d="M171.5 262.9L171.5 268"/>
<path class="j7" d="M62.9 301.3L67.7 298.2"/>
<path class="j7" d="M65.2 247.3L70.8 249"/>
<path class="j4a" d="M134.9 259.3L140.1 261.3"/>
<path class="j1" d="M90 227.6L90 233.7"/>
<path class="j1h" d="M90 227.6L90 233.7"/>
<path class="j4a" d="M111.1 260.9L116.6 260"/>
<path class="j4a" d="M103.4 260.1L108.6 262.1"/>
<path class="j7" d="M128.6 267.9L129.8 262.2"/>
<path class="j3" d="M104.5 235L108.8 238.7"/>
<path class="j3h" d="M104.5 235L108.8 238.7"/>
<path class="j3" d="M63.5 301.3L59.2 297.7"/>
<path class="j3h" d="M63.5 301.3L59.2 297.7"/>
<path class="bx" d="M88 181L92.8 180.2"/>
<path class="bx" d="M103.4 315.1L103.4 320.2"/>
<path class="j4a" d="M45.7 262.2L51.3 261.3"/>
<path class="j7" d="M145.5 272.2L141.4 268.1"/>
<path class="bx" d="M126.2 179.5L130.8 181.2"/>
<path class="j6" d="M130.7 242.3L130.7 248"/>
<path class="j7" d="M105.3 251.8L99.6 253"/>
<path class="j7" d="M85.3 254.9L90.3 255"/>
<path class="j3" d="M100.8 231.8L105.1 235.5"/>
<path class="j3h" d="M100.8 231.8L105.1 235.5"/>
<path class="j3" d="M134.5 253.8L130.5 257.8"/>
<path class="j3h" d="M134.5 253.8L130.5 257.8"/>
<path class="j3" d="M59.7 298.1L55.4 294.5"/>
<path class="j3h" d="M59.7 298.1L55.4 294.5"/>
<path class="j1" d="M63.2 295.4L63.2 301.5"/>
<path class="j1h" d="M63.2 295.4L63.2 301.5"/>
<path class="j4b" d="M127.1 298.6L125 303.9"/>
<path class="j7" d="M92.5 278L87 276.3"/>
<path class="j4a" d="M88.2 259.3L86.1 264.5"/>
<path class="j4b" d="M157.6 300.3L162.8 302.4"/>
<path class="j4a" d="M106.2 261.8L111.8 260.8"/>
<path class="j4b" d="M62.9 301L68.1 303"/>
<path class="j8" d="M121.4 262.7L126.5 259.9"/>
<path class="j3" d="M97.1 228.7L101.4 232.3"/>
<path class="j3h" d="M97.1 228.7L101.4 232.3"/>
<path class="bxv" d="M49 207.9L49 213"/>
<path class="j3" d="M55.9 295L51.6 291.3"/>
<path class="j3h" d="M55.9 295L51.6 291.3"/>
<path class="bx" d="M83.1 181.8L88 181"/>
<path class="j4a" d="M40.8 263L46.4 262.1"/>
<path class="bxv" d="M171.5 257.9L171.5 262.9"/>
<path class="j7" d="M150.2 285.9L155.8 284.9"/>
<path class="j7" d="M149.1 275.7L145 271.7"/>
<path class="j7" d="M60.4 245.7L65.9 247.5"/>
<path class="j7" d="M62.9 301.2L68.5 300"/>
<path class="j1" d="M90 222.2L90 228.3"/>
<path class="j1h" d="M90 222.2L90 228.3"/>
<path class="j3" d="M93.4 225.5L97.7 229.1"/>
<path class="j3h" d="M93.4 225.5L97.7 229.1"/>
<path class="j3" d="M52.1 291.8L47.8 288.1"/>
<path class="j3h" d="M52.1 291.8L47.8 288.1"/>
<path class="j4a" d="M101.4 262.6L106.9 261.6"/>
<path class="bx" d="M103.4 310L103.4 315.1"/>
<path class="j4a" d="M139.5 261.1L144.7 263.2"/>
<path class="j6" d="M130.7 237.3L130.7 243"/>
<path class="j4a" d="M107.9 261.8L113.2 263.8"/>
<path class="bx" d="M78.2 182.6L83.1 181.8"/>
<path class="j3" d="M89.7 222.3L94 225.9"/>
<path class="j3h" d="M89.7 222.3L94 225.9"/>
<path class="j3" d="M48.3 288.6L44 285"/>
<path class="j3h" d="M48.3 288.6L44 285"/>
<path class="j4a" d="M35.9 263.8L41.5 262.9"/>
<path class="j7" d="M127.6 272.8L128.8 267.2"/>
<path class="j1" d="M63.2 290.1L63.2 296.1"/>
<path class="j1h" d="M63.2 290.1L63.2 296.1"/>
<path class="j7" d="M87.6 276.5L82.2 274.9"/>
<path class="j2" d="M76.9 261.9L71.8 264.6"/>
<path class="j2h" d="M76.9 261.9L71.8 264.6"/>
<path class="j7" d="M152.7 279.3L148.6 275.3"/>
<path class="j7" d="M90.3 222.3L85.4 225.4"/>
<path class="bx" d="M130.8 181.2L135.3 183"/>
<path class="j3" d="M44.6 285.4L40.2 281.8"/>
<path class="j3h" d="M44.6 285.4L40.2 281.8"/>
<path class="bxv" d="M49 202.8L49 207.9"/>
<path class="j7" d="M86 225L81.2 228.1"/>
<path class="j4a" d="M96.6 263.4L102.1 262.5"/>
<path class="j3" d="M90.2 222.2L87.4 227"/>
<path class="j3h" d="M90.2 222.2L87.4 227"/>
<path class="j4b" d="M84.8 223.3L90.3 222.4"/>
<path class="j7" d="M81.7 227.8L76.9 230.9"/>
<path class="bxv" d="M171.5 252.8L171.5 257.9"/>
<circle cx="63.2" cy="301.1" r="4.7" fill="url(#gm2)"/>
<path class="j7" d="M89.7 222.3L93.9 226.3"/>
<path class="j4b" d="M162.2 302.1L167.4 304.2"/>
<path class="bx" d="M73.4 183.4L78.2 182.6"/>
<path class="j7" d="M77.5 230.5L72.6 233.6"/>
<path class="j4b" d="M67.4 302.7L72.6 304.7"/>
<path class="j7" d="M55.5 244.2L61 245.9"/>
<path class="j2" d="M136.6 265.2L133.3 261"/>
<path class="j2h" d="M136.6 265.2L133.3 261"/>
<path class="j3" d="M89.7 222.7L94.4 219.3"/>
<path class="j3h" d="M89.7 222.7L94.4 219.3"/>
<path class="j4a" d="M31 264.6L36.6 263.7"/>
<path class="j3" d="M40.8 282.2L36.5 278.6"/>
<path class="j3h" d="M40.8 282.2L36.5 278.6"/>
<path class="j7" d="M90.3 222.6L84.8 220.9"/>
<path class="j1" d="M90 216.7L90 222.8"/>
<path class="j1h" d="M90 216.7L90 222.8"/>
<path class="j7" d="M73.2 233.2L68.3 236.3"/>
<path class="j3" d="M87.7 226.4L85 231.3"/>
<path class="j3h" d="M87.7 226.4L85 231.3"/>
<path class="bx" d="M103.4 304.9L103.4 310"/>
<path class="j7" d="M68.9 235.9L64.1 239"/>
<path class="j4b" d="M89.7 222.4L94.9 224.4"/>
<path class="j7" d="M90.1 222.2L88.9 227.8"/>
<path class="j7" d="M156.4 282.9L152.3 278.8"/>
<path class="j6" d="M130.7 232.3L130.7 238"/>
<path class="j4a" d="M91.8 264.2L97.3 263.3"/>
<path class="j7" d="M64.6 238.7L59.8 241.8"/>
<path class="j3" d="M37 279.1L32.7 275.4"/>
<path class="j3h" d="M37 279.1L32.7 275.4"/>
<path class="j7" d="M110.3 250.7L104.6 251.9"/>
<path class="j3" d="M63 301.4L66.8 297.3"/>
<path class="j3h" d="M63 301.4L66.8 297.3"/>
<path class="j4b" d="M79.9 224.1L85.5 223.2"/>
<path class="j7" d="M60.4 241.4L55.5 244.5"/>
<path class="j8" d="M116.9 265.1L122 262.3"/>
<path class="j1" d="M63.2 284.8L63.2 290.8"/>
<path class="j1h" d="M63.2 284.8L63.2 290.8"/>
<path class="bx" d="M68.5 184.2L73.4 183.4"/>
<path class="j7" d="M82.8 275.1L77.3 273.4"/>
<path class="j7" d="M93.4 225.8L97.6 229.9"/>
<path class="j7" d="M56.1 244.1L51.2 247.2"/>
<path class="j7" d="M89.7 222.6L95.3 221.4"/>
<path class="j4a" d="M26.1 265.4L31.7 264.5"/>
<path class="j3" d="M85.3 230.7L82.5 235.5"/>
<path class="j3h" d="M85.3 230.7L82.5 235.5"/>
<path class="j4a" d="M144 262.9L149.2 265"/>
<path class="j3" d="M33.2 275.9L28.9 272.2"/>
<path class="j3h" d="M33.2 275.9L28.9 272.2"/>
<path class="j7" d="M51.8 246.8L47 249.9"/>
<path class="j4a" d="M112.5 263.6L117.7 265.6"/>
<path class="bxv" d="M49 197.7L49 202.8"/>
<path class="j3" d="M90.3 222.7L85.9 219.7"/>
<path class="j3h" d="M90.3 222.7L85.9 219.7"/>
<path class="j8" d="M95.9 262.5L99.5 267"/>
<path class="j7" d="M47.5 249.6L42.7 252.7"/>
<path class="bxv" d="M171.5 247.7L171.5 252.8"/>
<path class="j7" d="M126.6 277.8L127.8 272.1"/>
<path class="j3" d="M93.8 219.7L98.4 216.3"/>
<path class="j3h" d="M93.8 219.7L98.4 216.3"/>
<path class="j4a" d="M87 265.1L92.5 264.1"/>
<path class="j7" d="M43.3 252.3L38.4 255.4"/>
<path class="j7" d="M155.1 285L160.8 283.9"/>
<path class="j7" d="M160 286.5L155.9 282.4"/>
<path class="j3" d="M29.4 272.7L25.1 269.1"/>
<path class="j3h" d="M29.4 272.7L25.1 269.1"/>
<path class="j3" d="M82.9 234.9L80.1 239.7"/>
<path class="j3h" d="M82.9 234.9L80.1 239.7"/>
<path class="j7" d="M67.8 300.2L73.5 299"/>
<path class="j4b" d="M75 224.9L80.6 224"/>
<path class="j7" d="M50.6 242.7L56.1 244.4"/>
<path class="bx" d="M135.3 183L139.8 184.7"/>
<path class="j7" d="M39 255L34.1 258.1"/>
<path class="j7" d="M85.4 221.1L79.9 219.3"/>
<path class="bx" d="M63.6 185.1L68.5 184.2"/>
<path class="j1" d="M90 211.3L90 217.4"/>
<path class="j1h" d="M90 211.3L90 217.4"/>
<path class="j4a" d="M129 261.9L126.9 267.2"/>
<path class="bx" d="M103.4 299.8L103.4 304.9"/>
<path class="j7" d="M34.7 257.7L29.9 260.8"/>
<path class="j4a" d="M21.3 266.2L26.8 265.3"/>
<path class="j7" d="M97.1 229.4L101.2 233.4"/>
<path class="j4b" d="M166.7 303.9L171.9 306"/>
<path class="j6" d="M130.7 227.3L130.7 233"/>
<path class="j7" d="M30.4 260.5L25.6 263.6"/>
<path class="j4b" d="M90.1 222.2L88 227.4"/>
<path class="j3" d="M25.6 269.5L21.3 265.9"/>
<path class="j3h" d="M25.6 269.5L21.3 265.9"/>
<path class="j4b" d="M72 304.5L77.2 306.5"/>
<path class="j7" d="M26.2 263.2L21.3 266.3"/>
<path class="j2" d="M72.4 264.2L67.4 266.9"/>
<path class="j2h" d="M72.4 264.2L67.4 266.9"/>
<path class="j3" d="M80.4 239.1L77.6 244"/>
<path class="j3h" d="M80.4 239.1L77.6 244"/>
<circle cx="90" cy="222.5" r="4.7" fill="url(#gm2)"/>
<path class="j4a" d="M82.1 265.9L87.7 264.9"/>
<path class="j1" d="M63.2 279.4L63.2 285.5"/>
<path class="j1h" d="M63.2 279.4L63.2 285.5"/>
<path class="j7" d="M78 273.6L72.5 271.9"/>
<path class="j4b" d="M94.2 224.1L99.5 226.1"/>
<path class="j4b" d="M70.1 225.7L75.7 224.8"/>
<path class="j7" d="M163.6 290.1L159.5 286"/>
<path class="j2" d="M21.3 266.1L27.1 266.5"/>
<path class="j2h" d="M21.3 266.1L27.1 266.5"/>
<path class="j7" d="M89.1 227.1L87.9 232.8"/>
<path class="bxv" d="M49 192.6L49 197.7"/>
<path class="bx" d="M58.8 185.9L63.6 185.1"/>
<path class="j3" d="M97.9 216.7L102.5 213.3"/>
<path class="j3h" d="M97.9 216.7L102.5 213.3"/>
<path class="bxv" d="M171.5 242.6L171.5 247.7"/>
<path class="j3" d="M78 243.4L75.2 248.2"/>
<path class="j3h" d="M78 243.4L75.2 248.2"/>
<path class="j7" d="M100.7 232.9L104.9 237"/>
<path class="j1" d="M21.6 261.1L21.6 266.5"/>
<path class="j1h" d="M21.6 261.1L21.6 266.5"/>
<path class="j4b" d="M125.3 303.2L123.1 308.5"/>
<path class="j2" d="M26.5 266.4L32.3 266.9"/>
<path class="j2h" d="M26.5 266.4L32.3 266.9"/>
<path class="j4a" d="M86.4 263.8L84.2 269.1"/>
<path class="j4a" d="M148.5 264.7L153.7 266.8"/>
<path class="j4a" d="M117.1 265.3L122.3 267.3"/>
<path class="j7" d="M45.7 241.1L51.2 242.9"/>
<path class="j3" d="M137.5 283L141.5 279.1"/>
<path class="j3h" d="M137.5 283L141.5 279.1"/>
<path class="j4a" d="M77.3 266.7L82.8 265.8"/>
<path class="j7" d="M80.6 219.5L75 217.8"/>
<path class="j4a" d="M21.3 266L26.5 268"/>
<path class="bx" d="M103.4 294.7L103.4 299.8"/>
<path class="j1" d="M90 205.9L90 212"/>
<path class="j1h" d="M90 205.9L90 212"/>
<path class="j4b" d="M65.2 226.5L70.8 225.6"/>
<path class="j6" d="M130.7 222.3L130.7 228"/>
<path class="j7" d="M125.6 282.8L126.8 277.1"/>
<path class="j3" d="M75.6 247.6L72.8 252.5"/>
<path class="j3h" d="M75.6 247.6L72.8 252.5"/>
<path class="j8" d="M112.4 267.6L117.5 264.8"/>
<path class="j7" d="M167.3 293.6L163.2 289.6"/>
<path class="bx" d="M53.9 186.7L58.8 185.9"/>
<path class="j2" d="M31.7 266.8L37.5 267.3"/>
<path class="j2h" d="M31.7 266.8L37.5 267.3"/>
<path class="bx" d="M139.8 184.7L144.3 186.4"/>
<path class="j7" d="M115.3 249.7L109.6 250.9"/>
<path class="j7" d="M27 265L21.3 266.2"/>
<path class="j7" d="M104.4 236.5L108.5 240.5"/>
<path class="j4b" d="M171.2 305.7L176.4 307.8"/>
<path class="j1" d="M63.2 274.1L63.2 280.1"/>
<path class="j1h" d="M63.2 274.1L63.2 280.1"/>
<path class="j7" d="M73.2 272.1L67.7 270.5"/>
<path class="j7" d="M94.6 221.5L100.3 220.3"/>
<path class="j2" d="M36.9 267.2L42.7 267.6"/>
<path class="j2h" d="M36.9 267.2L42.7 267.6"/>
<path class="j4a" d="M72.5 267.5L78 266.6"/>
<path class="j3" d="M73.1 251.9L70.3 256.7"/>
<path class="j3h" d="M73.1 251.9L70.3 256.7"/>
<path class="bxv" d="M49 187.5L49 192.6"/>
<path class="j3" d="M101.9 213.7L106.6 210.3"/>
<path class="j3h" d="M101.9 213.7L106.6 210.3"/>
<path class="j4b" d="M76.5 306.2L81.7 308.2"/>
<path class="j2" d="M139.4 268.9L136.1 264.6"/>
<path class="j2h" d="M139.4 268.9L136.1 264.6"/>
<path class="j4b" d="M60.3 227.3L65.9 226.4"/>
<path class="bxv" d="M171.5 237.5L171.5 242.6"/>
<path class="j1" d="M21.6 256.5L21.6 261.8"/>
<path class="j1h" d="M21.6 256.5L21.6 261.8"/>
<path class="bx" d="M49 187.5L53.9 186.7"/>
<path class="j4b" d="M98.8 225.9L104 227.8"/>
<path class="j7" d="M170.9 297.2L166.8 293.2"/>
<path class="j2" d="M42.1 267.6L47.9 268"/>
<path class="j2h" d="M42.1 267.6L47.9 268"/>
<path class="j7" d="M160.1 284L165.7 283"/>
<path class="j7" d="M88 232.1L86.9 237.8"/>
<path class="j7" d="M72.8 299.2L78.4 298"/>
<path class="j3" d="M70.7 256.1L67.9 260.9"/>
<path class="j3h" d="M70.7 256.1L67.9 260.9"/>
<path class="j7" d="M40.8 239.6L46.4 241.3"/>
<path class="bx" d="M103.4 289.6L103.4 294.7"/>
<path class="j7" d="M75.7 218L70.1 216.3"/>
<path class="j6" d="M130.7 217.2L130.7 223"/>
<path class="j7" d="M108 240.1L112.2 244.1"/>
<path class="j1" d="M90 200.5L90 206.6"/>
<path class="j1h" d="M90 200.5L90 206.6"/>
<path class="j3" d="M86.5 220.1L82.1 217"/>
<path class="j3h" d="M86.5 220.1L82.1 217"/>
<path class="j2" d="M68 266.6L62.9 269.3"/>
<path class="j2h" d="M68 266.6L62.9 269.3"/>
<path class="j4a" d="M67.7 268.3L73.2 267.4"/>
<path class="j2" d="M47.3 267.9L53.1 268.4"/>
<path class="j2h" d="M47.3 267.9L53.1 268.4"/>
<path class="j4a" d="M153.1 266.5L158.3 268.6"/>
<path class="j4b" d="M55.5 228.1L61 227.2"/>
<path class="j3" d="M138 250.3L134 254.3"/>
<path class="j3h" d="M138 250.3L134 254.3"/>
<circle cx="21.6" cy="266.1" r="5.3" fill="url(#gm1)"/>
<path class="j4a" d="M121.6 267.1L126.9 269.1"/>
<path class="j4a" d="M25.9 267.7L31.1 269.7"/>
<path class="j3" d="M68.2 260.3L65.5 265.2"/>
<path class="j3h" d="M68.2 260.3L65.5 265.2"/>
<path class="j3" d="M106 210.7L110.6 207.3"/>
<path class="j3h" d="M106 210.7L110.6 207.3"/>
<path class="j1" d="M63.2 268.8L63.2 274.8"/>
<path class="j1h" d="M63.2 268.8L63.2 274.8"/>
<path class="j7" d="M68.4 270.7L62.9 269"/>
<path class="j7" d="M174.5 300.8L170.4 296.7"/>
<path class="j2" d="M52.5 268.3L58.3 268.8"/>
<path class="j2h" d="M52.5 268.3L58.3 268.8"/>
<path class="j7" d="M124.6 287.7L125.8 282.1"/>
<path class="j1" d="M21.6 251.8L21.6 257.2"/>
<path class="j1h" d="M21.6 251.8L21.6 257.2"/>
<path class="bx" d="M144.3 186.4L148.9 188.1"/>
<path class="bxv" d="M171.5 232.4L171.5 237.5"/>
<path class="j8" d="M99 266.4L102.5 270.9"/>
<path class="j4a" d="M62.9 269.2L68.4 268.2"/>
<path class="bx" d="M49 187.5L53.6 189.2"/>
<path class="j7" d="M111.7 243.6L115.8 247.7"/>
<path class="j3" d="M65.8 264.6L63 269.4"/>
<path class="j3h" d="M65.8 264.6L63 269.4"/>
<path class="j4b" d="M175.8 307.6L181 309.6"/>
<path class="j4b" d="M50.6 228.9L56.1 228"/>
<path class="j2" d="M57.7 268.7L63.5 269.1"/>
<path class="j2h" d="M57.7 268.7L63.5 269.1"/>
<path class="j4b" d="M81 308L86.2 310"/>
<path class="j8" d="M107.9 270.1L113 267.3"/>
<path class="bx" d="M103.4 284.5L103.4 289.6"/>
<path class="j7" d="M35.9 238.1L41.5 239.8"/>
<path class="j6" d="M130.7 212.2L130.7 217.9"/>
<path class="j7" d="M70.8 216.5L65.2 214.8"/>
<path class="j1" d="M90 195.1L90 201.2"/>
<path class="j1h" d="M90 195.1L90 201.2"/>
<path class="j4b" d="M103.4 227.6L108.6 229.6"/>
<path class="j7" d="M178.2 304.4L174.1 300.3"/>
<path class="j3" d="M59.2 265.6L63.5 269.3"/>
<path class="j3h" d="M59.2 265.6L63.5 269.3"/>
<path class="j8" d="M68.6 269.6L62.9 269.1"/>
<path class="j7" d="M87 237.1L85.9 242.7"/>
<path class="j7" d="M67.1 272.9L62.9 268.9"/>
<path class="j3" d="M110.1 207.8L114.7 204.4"/>
<path class="j3h" d="M110.1 207.8L114.7 204.4"/>
<path class="j7" d="M120.2 248.6L114.6 249.8"/>
<path class="j7" d="M115.3 247.2L119.5 251.2"/>
<path class="j4b" d="M45.7 229.7L51.3 228.8"/>
<path class="j7" d="M32 263.9L26.3 265.1"/>
<path class="j1" d="M21.6 247.2L21.6 252.5"/>
<path class="j1h" d="M21.6 247.2L21.6 252.5"/>
<path class="j6" d="M63.2 263.8L63.2 269.5"/>
<path class="j3" d="M55.4 262.4L59.7 266.1"/>
<path class="j3h" d="M55.4 262.4L59.7 266.1"/>
<path class="j8" d="M73.7 270L68 269.5"/>
<path class="j4a" d="M127.1 266.6L125 271.9"/>
<path class="j7" d="M99.6 220.5L105.3 219.3"/>
<path class="j7" d="M90.3 222.5L85.3 222.4"/>
<path class="j4a" d="M157.6 268.3L162.8 270.4"/>
<path class="j4a" d="M126.2 268.8L131.4 270.8"/>
<path class="bxv" d="M171.5 227.3L171.5 232.4"/>
<path class="j4b" d="M88.2 226.8L86.1 232"/>
<path class="j4a" d="M62.9 269L68.1 271"/>
<path class="j4a" d="M30.5 269.5L35.7 271.5"/>
<path class="j3" d="M51.6 259.2L55.9 262.9"/>
<path class="j3h" d="M51.6 259.2L55.9 262.9"/>
<path class="j7" d="M181.8 308L177.7 303.9"/>
<path class="j8" d="M78.8 270.4L73.1 269.9"/>
<path class="j7" d="M165 283.1L170.7 282"/>
<path class="j7" d="M123.6 292.7L124.8 287"/>
<path class="j7" d="M126.7 289.8L121.7 289.9"/>
<path class="j7" d="M77.7 298.2L83.4 297"/>
<path class="bx" d="M148.9 188.1L153.4 189.8"/>
<path class="bx" d="M103.4 279.4L103.4 284.5"/>
<path class="j4b" d="M40.8 230.5L46.4 229.6"/>
<path class="j6" d="M130.7 207.2L130.7 212.9"/>
<path class="j7" d="M70.7 276.4L66.6 272.4"/>
<path class="j7" d="M31 236.6L36.6 238.3"/>
<path class="j7" d="M119 250.7L123.1 254.8"/>
<path class="bx" d="M53.6 189.2L58.1 190.9"/>
<path class="j7" d="M65.9 215L60.4 213.2"/>
<path class="j3" d="M47.8 256L52.1 259.6"/>
<path class="j3h" d="M47.8 256L52.1 259.6"/>
<path class="j4b" d="M180.3 309.4L185.5 311.4"/>
<path class="j8" d="M83.9 270.8L78.2 270.3"/>
<path class="j1" d="M90 189.7L90 195.8"/>
<path class="j1h" d="M90 189.7L90 195.8"/>
<path class="j3" d="M66.4 297.9L70.2 293.8"/>
<path class="j3h" d="M66.4 297.9L70.2 293.8"/>
<path class="j3" d="M114.1 204.8L118.8 201.4"/>
<path class="j3h" d="M114.1 204.8L118.8 201.4"/>
<path class="j4b" d="M85.6 309.7L90.8 311.7"/>
<path class="j2" d="M142.2 272.5L138.9 268.3"/>
<path class="j2h" d="M142.2 272.5L138.9 268.3"/>
<path class="j4b" d="M123.4 307.8L121.3 313.1"/>
<path class="j4a" d="M84.5 268.4L82.3 273.7"/>
<path class="j2" d="M66.1 273L63 268.8"/>
<path class="j2h" d="M66.1 273L63 268.8"/>
<path class="j1" d="M21.6 242.5L21.6 247.9"/>
<path class="j1h" d="M21.6 242.5L21.6 247.9"/>
<path class="j6" d="M63.2 258.8L63.2 264.5"/>
<path class="j3" d="M44 252.7L48.3 256.4"/>
<path class="j3h" d="M44 252.7L48.3 256.4"/>
<path class="j4b" d="M107.9 229.3L113.2 231.3"/>
<path class="j7" d="M185.4 311.5L181.3 307.5"/>
<path class="j8" d="M89 271.3L83.3 270.8"/>
<path class="j3" d="M82.6 217.4L78.2 214.4"/>
<path class="j3h" d="M82.6 217.4L78.2 214.4"/>
<path class="j4b" d="M35.9 231.3L41.5 230.4"/>
<path class="bxv" d="M171.5 222.2L171.5 227.3"/>
<path class="j7" d="M74.4 279.9L70.2 275.9"/>
<path class="j7" d="M86 242L84.9 247.7"/>
<path class="j7" d="M122.6 254.3L126.8 258.3"/>
<path class="j8" d="M103.4 272.5L108.5 269.7"/>
<path class="j7" d="M85.4 192.9L90.3 189.8"/>
<path class="j3" d="M40.2 249.5L44.6 253.2"/>
<path class="j3h" d="M40.2 249.5L44.6 253.2"/>
<path class="j8" d="M94.1 271.7L88.4 271.2"/>
<path class="j2" d="M89.7 190L95.4 190.3"/>
<path class="j2h" d="M89.7 190L95.4 190.3"/>
<path class="j7" d="M81.2 195.6L86 192.5"/>
<circle cx="63.2" cy="269.1" r="5.3" fill="url(#gm1)"/>
<path class="j4a" d="M162.2 270.1L167.4 272.2"/>
<path class="j6" d="M130.7 202.2L130.7 207.9"/>
<path class="bx" d="M103.4 274.3L103.4 279.4"/>
<path class="j4a" d="M130.8 270.6L136 272.5"/>
<path class="j3" d="M185.5 311.5L181.3 307.9"/>
<path class="j3h" d="M185.5 311.5L181.3 307.9"/>
<path class="j4a" d="M84.8 190.8L90.3 189.9"/>
<path class="j7" d="M76.9 198.4L81.7 195.3"/>
<path class="j4a" d="M67.4 270.7L72.6 272.7"/>
<path class="j7" d="M93.9 193.8L89.7 189.8"/>
<path class="j4a" d="M35.1 271.2L40.3 273.2"/>
<path class="j7" d="M26.2 235L31.7 236.8"/>
<path class="j7" d="M72.6 201.1L77.5 198"/>
<path class="j4b" d="M180 312.1L185.5 311.2"/>
<path class="j3" d="M118.2 201.8L122.8 198.4"/>
<path class="j3h" d="M118.2 201.8L122.8 198.4"/>
<path class="j3" d="M36.5 246.3L40.8 250"/>
<path class="j3h" d="M36.5 246.3L40.8 250"/>
<path class="j7" d="M61 213.4L55.5 211.7"/>
<path class="j4b" d="M31 232.1L36.6 231.2"/>
<path class="j8" d="M99.2 272.1L93.5 271.6"/>
<path class="j2" d="M94.7 190.3L100.5 190.7"/>
<path class="j2h" d="M94.7 190.3L100.5 190.7"/>
<path class="j7" d="M68.3 203.8L73.2 200.7"/>
<path class="j1" d="M21.6 237.9L21.6 243.2"/>
<path class="j1h" d="M21.6 237.9L21.6 243.2"/>
<path class="j3" d="M181.8 308.3L177.6 304.6"/>
<path class="j3h" d="M181.8 308.3L177.6 304.6"/>
<path class="bx" d="M153.4 189.8L157.9 191.5"/>
<path class="j7" d="M122.6 297.6L123.8 292"/>
<path class="j7" d="M78 283.5L73.8 279.5"/>
<path class="j7" d="M185.5 311.4L180 309.7"/>
<path class="j1" d="M185.2 305.6L185.2 311.7"/>
<path class="j1h" d="M185.2 305.6L185.2 311.7"/>
<path class="j7" d="M126.3 257.9L130.4 261.9"/>
<path class="j7" d="M64.1 206.5L68.9 203.4"/>
<path class="j4a" d="M89.7 189.9L94.9 191.9"/>
<path class="j7" d="M88.9 195.3L90.1 189.7"/>
<path class="bx" d="M58.1 190.9L62.6 192.7"/>
<path class="j6" d="M63.2 253.8L63.2 259.5"/>
<path class="j7" d="M125.2 247.5L119.5 248.7"/>
<path class="j7" d="M37 262.9L31.3 264.1"/>
<path class="j3" d="M32.7 243.1L37 246.7"/>
<path class="j3h" d="M32.7 243.1L37 246.7"/>
<path class="j3" d="M66.8 265.2L63 269.4"/>
<path class="j3h" d="M66.8 265.2L63 269.4"/>
<path class="j7" d="M59.8 209.3L64.6 206.2"/>
<path class="j8" d="M104.3 272.5L98.6 272"/>
<path class="j2" d="M99.8 190.6L105.6 191"/>
<path class="j2h" d="M99.8 190.6L105.6 191"/>
<path class="j7" d="M104.6 219.4L110.3 218.2"/>
<path class="j4a" d="M79.9 191.6L85.5 190.7"/>
<path class="j7" d="M55.5 212L60.4 208.9"/>
<path class="j4b" d="M90.1 311.5L95.3 313.5"/>
<path class="j2" d="M90.3 189.8L85.2 192.5"/>
<path class="j2h" d="M90.3 189.8L85.2 192.5"/>
<path class="bxv" d="M171.5 217.1L171.5 222.2"/>
<path class="j3" d="M178.1 305.1L173.9 301.4"/>
<path class="j3h" d="M178.1 305.1L173.9 301.4"/>
<path class="j8" d="M102.1 270.3L105.6 274.8"/>
<path class="j7" d="M97.6 197.4L93.4 193.3"/>
<path class="j4b" d="M175.2 312.9L180.7 312"/>
<path class="j7" d="M51.2 214.7L56.1 211.6"/>
<path class="j4b" d="M26.1 232.9L31.7 232"/>
<path class="j3" d="M28.9 239.8L33.2 243.5"/>
<path class="j3h" d="M28.9 239.8L33.2 243.5"/>
<path class="j8" d="M109.4 273L103.7 272.5"/>
<path class="j7" d="M47 217.4L51.8 214.3"/>
<path class="j4b" d="M112.5 231.1L117.7 233.1"/>
<path class="j2" d="M104.9 191L110.7 191.3"/>
<path class="j2h" d="M104.9 191L110.7 191.3"/>
<path class="j3" d="M141 279.6L145.1 275.7"/>
<path class="j3h" d="M141 279.6L145.1 275.7"/>
<path class="j7" d="M170 282.2L175.6 281.1"/>
<path class="j6" d="M130.7 197.2L130.7 202.9"/>
<path class="bx" d="M103.4 269.3L103.4 274.3"/>
<path class="j3" d="M174.4 301.9L170.2 298.2"/>
<path class="j3h" d="M174.4 301.9L170.2 298.2"/>
<path class="j7" d="M42.7 220.2L47.5 217.1"/>
<path class="j7" d="M82.7 297.2L88.3 296"/>
<path class="j7" d="M81.6 287L77.5 283"/>
<path class="j7" d="M129.9 261.4L134.1 265.5"/>
<path class="j3" d="M122.3 198.8L126.9 195.4"/>
<path class="j3h" d="M122.3 198.8L126.9 195.4"/>
<path class="j7" d="M38.4 222.9L43.3 219.8"/>
<path class="j7" d="M85 247L83.8 252.7"/>
<path class="j7" d="M21.3 233.5L26.8 235.2"/>
<path class="j3" d="M25.1 236.6L29.4 240.3"/>
<path class="j3h" d="M25.1 236.6L29.4 240.3"/>
<path class="j8" d="M114.5 273.4L108.8 272.9"/>
<path class="j4a" d="M75 192.4L80.6 191.5"/>
<path class="j1" d="M21.6 233.2L21.6 238.6"/>
<path class="j1h" d="M21.6 233.2L21.6 238.6"/>
<path class="j7" d="M56.1 211.9L50.6 210.2"/>
<path class="j7" d="M34.1 225.6L39 222.5"/>
<path class="j2" d="M110 191.3L115.8 191.6"/>
<path class="j2h" d="M110 191.3L115.8 191.6"/>
<path class="j8" d="M89.8 189.7L93.3 194.2"/>
<path class="j3" d="M170.8 298.7L166.6 295"/>
<path class="j3h" d="M170.8 298.7L166.6 295"/>
<path class="j4a" d="M166.7 271.9L171.9 274"/>
<path class="j4b" d="M170.4 313.7L175.9 312.8"/>
<path class="j4a" d="M135.3 272.3L140.6 274.3"/>
<path class="j7" d="M29.9 228.3L34.7 225.2"/>
<path class="j4b" d="M21.3 233.7L26.8 232.8"/>
<path class="j7" d="M101.2 200.9L97.1 196.9"/>
<path class="j7" d="M180.7 309.9L175.2 308.2"/>
<path class="j1" d="M185.2 300.3L185.2 306.3"/>
<path class="j1h" d="M185.2 300.3L185.2 306.3"/>
<path class="j4a" d="M72 272.5L77.2 274.5"/>
<path class="j6" d="M63.2 248.8L63.2 254.5"/>
<path class="j4a" d="M39.7 273L44.9 275"/>
<path class="j7" d="M25.6 231.1L30.4 228"/>
<path class="j4a" d="M90.1 189.7L88 194.9"/>
<path class="j3" d="M21.3 233.4L25.6 237.1"/>
<path class="j3h" d="M21.3 233.4L25.6 237.1"/>
<path class="j8" d="M119.6 273.8L113.9 273.3"/>
<path class="j2" d="M115.1 191.6L120.9 192"/>
<path class="j2h" d="M115.1 191.6L120.9 192"/>
<path class="j7" d="M21.3 233.8L26.2 230.7"/>
<path class="j8" d="M99 275L104.1 272.2"/>
<path class="j3" d="M167.1 295.4L162.9 291.8"/>
<path class="j3h" d="M167.1 295.4L162.9 291.8"/>
<path class="bxv" d="M171.5 212L171.5 217.1"/>
<circle cx="90" cy="190" r="5.3" fill="url(#gm1)"/>
<path class="bx" d="M157.9 191.5L162.5 193.3"/>
<path class="j7" d="M85.3 290.5L81.1 286.5"/>
<path class="j7" d="M133.6 265L137.7 269"/>
<path class="j7" d="M121.6 302.6L122.8 296.9"/>
<path class="j4a" d="M94.2 191.6L99.5 193.6"/>
<circle cx="185.2" cy="311.3" r="4.7" fill="url(#gm2)"/>
<path class="j4a" d="M70.1 193.2L75.7 192.3"/>
<path class="bx" d="M62.6 192.7L67.2 194.4"/>
<path class="j7" d="M87.9 200.3L89.1 194.6"/>
<path class="j8" d="M124.7 274.2L119 273.7"/>
<path class="j2" d="M120.2 191.9L126 192.3"/>
<path class="j2h" d="M120.2 191.9L126 192.3"/>
<path class="j4b" d="M165.6 314.4L171.1 313.6"/>
<path class="j6" d="M130.7 192.2L130.7 197.9"/>
<path class="j3" d="M163.4 292.2L159.2 288.5"/>
<path class="j3h" d="M163.4 292.2L159.2 288.5"/>
<path class="bx" d="M103.4 264.2L103.4 269.3"/>
<path class="j3" d="M126.3 195.8L131 192.4"/>
<path class="j3h" d="M126.3 195.8L131 192.4"/>
<path class="j7" d="M21.3 233.4L25.5 237.4"/>
<path class="j4b" d="M94.7 313.2L99.9 315.2"/>
<path class="j2" d="M145 276.2L141.8 272"/>
<path class="j2h" d="M145 276.2L141.8 272"/>
<path class="j3" d="M78.8 214.8L74.4 211.8"/>
<path class="j3h" d="M78.8 214.8L74.4 211.8"/>
<path class="j4a" d="M125.3 271.2L123.1 276.5"/>
<path class="j7" d="M104.9 204.5L100.7 200.4"/>
<path class="j2" d="M68.9 276.6L65.7 272.4"/>
<path class="j2h" d="M68.9 276.6L65.7 272.4"/>
<path class="j3" d="M21.3 233.8L26 230.4"/>
<path class="j3h" d="M21.3 233.8L26 230.4"/>
<path class="j4b" d="M86.4 231.3L84.2 236.6"/>
<path class="j1" d="M21.6 227.8L21.6 233.9"/>
<path class="j1h" d="M21.6 227.8L21.6 233.9"/>
<path class="j8" d="M129.8 274.7L124.1 274.2"/>
<path class="j3" d="M141.5 246.7L137.5 250.7"/>
<path class="j3h" d="M141.5 246.7L137.5 250.7"/>
<path class="j4b" d="M117.1 232.8L122.3 234.8"/>
<path class="j2" d="M125.3 192.3L131 192.6"/>
<path class="j2h" d="M125.3 192.3L131 192.6"/>
<path class="j7" d="M51.2 210.4L45.7 208.6"/>
<path class="j3" d="M159.8 289L155.6 285.3"/>
<path class="j3h" d="M159.8 289L155.6 285.3"/>
<path class="j4b" d="M21.3 233.5L26.5 235.5"/>
<path class="j4a" d="M65.2 194L70.8 193.1"/>
<path class="j7" d="M137.2 268.5L141.4 272.6"/>
<path class="j7" d="M88.9 294.1L84.7 290.1"/>
<path class="j6" d="M63.2 243.8L63.2 249.5"/>
<path class="j7" d="M175.9 308.4L170.4 306.7"/>
<path class="j1" d="M185.2 294.9L185.2 301"/>
<path class="j1h" d="M185.2 294.9L185.2 301"/>
<path class="j2" d="M85.8 192.2L80.8 194.9"/>
<path class="j2h" d="M85.8 192.2L80.8 194.9"/>
<path class="j7" d="M130.2 246.5L124.5 247.7"/>
<path class="j4b" d="M160.7 315.2L166.3 314.3"/>
<path class="j7" d="M80.9 254.7L85.9 254.9"/>
<path class="j7" d="M84 252L82.8 257.6"/>
<path class="j7" d="M42 261.8L36.3 263"/>
<path class="j8" d="M134.9 275.1L129.2 274.6"/>
<path class="j3" d="M156.1 285.8L151.9 282.1"/>
<path class="j3h" d="M156.1 285.8L151.9 282.1"/>
<path class="bxv" d="M171.5 206.9L171.5 212"/>
<path class="j7" d="M25 236.9L29.2 241"/>
<path class="j7" d="M109.6 218.4L115.3 217.2"/>
<path class="j4a" d="M171.2 273.7L176.4 275.8"/>
<path class="j7" d="M21.3 233.7L27 232.5"/>
<path class="j4a" d="M139.9 274L145.1 276"/>
<path class="j4a" d="M125.5 193.5L131 192.5"/>
<path class="j7" d="M108.5 208L104.4 204"/>
<path class="j3" d="M132.1 197.6L130.6 192.3"/>
<path class="j3h" d="M132.1 197.6L130.6 192.3"/>
<path class="j4a" d="M76.5 274.2L81.7 276.2"/>
<path class="j4a" d="M44.3 274.7L49.5 276.7"/>
<path class="j4b" d="M121.5 312.5L119.4 317.8"/>
<path class="j4a" d="M82.6 273L80.4 278.3"/>
<path class="j8" d="M140 275.5L134.3 275"/>
<path class="j3" d="M152.4 282.6L148.2 278.9"/>
<path class="j3h" d="M152.4 282.6L148.2 278.9"/>
<path class="bx" d="M103.4 259.1L103.4 264.2"/>
<path class="j4a" d="M60.3 194.8L65.9 193.9"/>
<path class="j7" d="M174.9 281.2L180.6 280.2"/>
<path class="j3" d="M25.5 230.9L30.2 227.5"/>
<path class="j3h" d="M25.5 230.9L30.2 227.5"/>
<path class="j7" d="M140.9 272.1L145.1 276.1"/>
<path class="bx" d="M162.5 193.3L167 195"/>
<path class="j7" d="M92.5 297.6L88.4 293.6"/>
<path class="j7" d="M87.6 296.2L93.3 295"/>
<path class="j4a" d="M130.4 192.5L135.6 194.5"/>
<path class="j4b" d="M155.9 316L161.4 315.1"/>
<path class="j4a" d="M98.8 193.4L104 195.3"/>
<path class="bx" d="M67.2 194.4L71.7 196.1"/>
<path class="j7" d="M120.6 307.6L121.8 301.9"/>
<path class="j8" d="M145.1 275.9L139.4 275.4"/>
<path class="j3" d="M148.7 279.3L144.5 275.7"/>
<path class="j3h" d="M148.7 279.3L144.5 275.7"/>
<path class="j7" d="M86.9 205.3L88 199.6"/>
<path class="j1" d="M21.6 222.4L21.6 228.5"/>
<path class="j1h" d="M21.6 222.4L21.6 228.5"/>
<path class="j7" d="M46.4 208.8L40.8 207.1"/>
<path class="j4a" d="M120.7 194.3L126.2 193.4"/>
<path class="j7" d="M28.7 240.5L32.9 244.5"/>
<path class="j8" d="M125.9 195.2L131 192.4"/>
<path class="j4b" d="M99.2 315L104.4 317"/>
<path class="j6" d="M63.2 238.8L63.2 244.5"/>
<path class="j7" d="M112.2 211.6L108 207.6"/>
<path class="j3" d="M133.4 202.2L131.9 196.9"/>
<path class="j3h" d="M133.4 202.2L131.9 196.9"/>
<path class="j8" d="M94.5 277.4L99.6 274.6"/>
<path class="j7" d="M171.1 306.9L165.6 305.1"/>
<path class="j1" d="M185.2 289.6L185.2 295.7"/>
<path class="j1h" d="M185.2 289.6L185.2 295.7"/>
<path class="j2" d="M144.5 275.9L150.2 276.4"/>
<path class="j2h" d="M144.5 275.9L150.2 276.4"/>
<path class="j4a" d="M55.5 195.6L61 194.7"/>
<circle cx="21.6" cy="233.6" r="4.7" fill="url(#gm2)"/>
<path class="j4b" d="M121.6 234.6L126.9 236.6"/>
<path class="j3" d="M142.2 280.4L145 275.6"/>
<path class="j3h" d="M142.2 280.4L145 275.6"/>
<path class="bxv" d="M171.5 201.8L171.5 206.9"/>
<path class="j4a" d="M139.6 276.8L145.1 275.8"/>
<path class="j4b" d="M151.1 316.8L156.6 315.9"/>
<path class="j4b" d="M25.9 235.2L31.1 237.2"/>
<path class="j8" d="M105.2 274.2L108.7 278.7"/>
<path class="j7" d="M96.2 301.1L92 297.1"/>
<path class="j2" d="M133.7 196.5L130.5 192.3"/>
<path class="j2h" d="M133.7 196.5L130.5 192.3"/>
<path class="j1" d="M144.8 270.9L144.8 276.3"/>
<path class="j1h" d="M144.8 270.9L144.8 276.3"/>
<path class="j4a" d="M115.9 195.1L121.4 194.2"/>
<path class="j2" d="M149.5 276.3L155.2 276.8"/>
<path class="j2h" d="M149.5 276.3L155.2 276.8"/>
<path class="j7" d="M139.6 274.3L145.1 276"/>
<path class="j3" d="M29.6 227.9L34.4 224.5"/>
<path class="j3h" d="M29.6 227.9L34.4 224.5"/>
<path class="j7" d="M83 256.9L81.8 262.6"/>
<path class="bx" d="M103.4 254L103.4 259.1"/>
<path class="j7" d="M32.4 244.1L36.6 248.1"/>
<path class="j3" d="M139.7 284.6L142.5 279.8"/>
<path class="j3h" d="M139.7 284.6L142.5 279.8"/>
<path class="j4a" d="M175.8 275.6L181 277.6"/>
<path class="j7" d="M115.8 215.2L111.7 211.1"/>
<path class="j3" d="M134.6 206.8L133.2 201.5"/>
<path class="j3h" d="M134.6 206.8L133.2 201.5"/>
<path class="j4a" d="M81 276L86.2 278"/>
<path class="j4a" d="M50.6 196.4L56.1 195.5"/>
<path class="j4a" d="M48.9 276.5L54.1 278.5"/>
<path class="j4a" d="M130.8 192.3L128.7 197.6"/>
<path class="j3" d="M69.8 294.4L73.6 290.3"/>
<path class="j3h" d="M69.8 294.4L73.6 290.3"/>
<path class="j2" d="M154.6 276.7L160.3 277.2"/>
<path class="j2h" d="M154.6 276.7L160.3 277.2"/>
<path class="j4a" d="M134.7 277.6L140.3 276.6"/>
<path class="j8" d="M92.9 193.6L96.4 198.1"/>
<path class="j4b" d="M146.3 317.5L151.8 316.6"/>
<path class="j2" d="M81.4 194.5L76.3 197.2"/>
<path class="j2h" d="M81.4 194.5L76.3 197.2"/>
<path class="j1" d="M21.6 217L21.6 223.1"/>
<path class="j1h" d="M21.6 217L21.6 223.1"/>
<path class="j2" d="M145.1 275.7L140 278.4"/>
<path class="j2h" d="M145.1 275.7L140 278.4"/>
<path class="j7" d="M41.5 207.3L35.9 205.6"/>
<path class="j6" d="M63.2 233.8L63.2 239.5"/>
<circle cx="130.7" cy="192.6" r="5.3" fill="url(#gm1)"/>
<path class="j7" d="M99.8 304.7L95.6 300.7"/>
<path class="bx" d="M167 195L171.5 196.7"/>
<path class="j4a" d="M134.9 194.3L140.1 196.3"/>
<path class="j3" d="M137.2 288.8L140 284"/>
<path class="j3h" d="M137.2 288.8L140 284"/>
<path class="j4a" d="M111.1 195.9L116.6 195"/>
<path class="j4a" d="M103.4 195.1L108.6 197.1"/>
<path class="j3" d="M75 212.2L70.6 209.2"/>
<path class="j3h" d="M75 212.2L70.6 209.2"/>
<path class="j7" d="M166.2 305.3L160.8 303.6"/>
<path class="j1" d="M185.2 284.3L185.2 290.3"/>
<path class="j1h" d="M185.2 284.3L185.2 290.3"/>
<path class="bx" d="M71.7 196.1L76.2 197.8"/>
<path class="j2" d="M159.6 277.1L165.3 277.6"/>
<path class="j2h" d="M159.6 277.1L165.3 277.6"/>
<path class="j7" d="M135.2 245.4L129.5 246.6"/>
<path class="j7" d="M119.6 312.5L120.8 306.9"/>
<path class="j7" d="M47 260.8L41.3 262"/>
<path class="bxv" d="M171.5 196.7L171.5 201.8"/>
<path class="j7" d="M85.9 210.2L87 204.6"/>
<path class="j7" d="M36.1 247.6L40.3 251.7"/>
<path class="j4b" d="M103.7 316.7L108.9 318.7"/>
<path class="j7" d="M119.5 218.7L115.3 214.7"/>
<path class="j7" d="M114.6 217.3L120.2 216.1"/>
<path class="j3" d="M135.9 211.4L134.5 206.1"/>
<path class="j3h" d="M135.9 211.4L134.5 206.1"/>
<path class="j1" d="M144.8 266.3L144.8 271.6"/>
<path class="j1h" d="M144.8 266.3L144.8 271.6"/>
<path class="j4a" d="M45.7 197.2L51.3 196.3"/>
<path class="j7" d="M26.3 232.6L32 231.4"/>
<path class="j3" d="M33.8 225L38.5 221.6"/>
<path class="j3h" d="M33.8 225L38.5 221.6"/>
<path class="j2" d="M71.6 280.2L68.4 276"/>
<path class="j2h" d="M71.6 280.2L68.4 276"/>
<path class="j4a" d="M129.9 278.4L135.4 277.4"/>
<path class="j4b" d="M141.5 318.3L147 317.4"/>
<path class="j3" d="M134.8 293L137.6 288.2"/>
<path class="j3h" d="M134.8 293L137.6 288.2"/>
<path class="j2" d="M164.7 277.6L170.4 278.1"/>
<path class="j2h" d="M164.7 277.6L170.4 278.1"/>
<path class="bx" d="M103.4 248.9L103.4 254"/>
<path class="j7" d="M134.8 272.8L140.3 274.5"/>
<path class="j4b" d="M126.2 236.3L131.4 238.3"/>
<path class="j4a" d="M88.2 194.3L86.1 199.5"/>
<path class="j7" d="M179.9 280.3L185.5 279.2"/>
<path class="j4b" d="M30.5 237L35.7 239"/>
<path class="j4a" d="M106.2 196.8L111.8 195.8"/>
<path class="j7" d="M103.4 308.2L99.3 304.2"/>
<path class="j7" d="M92.6 295.2L98.2 294"/>
<path class="j8" d="M121.4 197.7L126.5 194.9"/>
<path class="j2" d="M169.7 278L175.4 278.5"/>
<path class="j2h" d="M169.7 278L175.4 278.5"/>
<path class="j8" d="M90 279.9L95.1 277.1"/>
<circle cx="144.8" cy="275.9" r="5.3" fill="url(#gm1)"/>
<path class="j6" d="M63.2 228.8L63.2 234.5"/>
<path class="j7" d="M39.7 251.2L43.9 255.2"/>
<path class="j3" d="M132.3 297.2L135.1 292.4"/>
<path class="j3h" d="M132.3 297.2L135.1 292.4"/>
<path class="j7" d="M81.9 261.9L80.8 267.6"/>
<path class="j4a" d="M40.8 198L46.4 197.1"/>
<path class="j1" d="M21.6 211.6L21.6 217.7"/>
<path class="j1h" d="M21.6 211.6L21.6 217.7"/>
<path class="j7" d="M36.6 205.8L31 204.1"/>
<path class="j7" d="M123.1 222.3L119 218.2"/>
<path class="j4a" d="M180.3 277.4L185.5 279.4"/>
<path class="bx" d="M166.7 197.5L171.5 196.7"/>
<path class="j3" d="M137.2 216L135.7 210.7"/>
<path class="j3h" d="M137.2 216L135.7 210.7"/>
<path class="j4a" d="M125 279.2L130.6 278.2"/>
<path class="j4b" d="M136.6 319.1L142.2 318.2"/>
<path class="j4a" d="M85.6 277.7L90.8 279.7"/>
<path class="j3" d="M70.2 261.6L66.4 265.7"/>
<path class="j3h" d="M70.2 261.6L66.4 265.7"/>
<path class="j4a" d="M53.5 278.2L58.7 280.2"/>
<path class="j7" d="M161.4 303.8L155.9 302.1"/>
<path class="j4a" d="M123.4 275.8L121.3 281.1"/>
<path class="j1" d="M185.2 278.9L185.2 285"/>
<path class="j1h" d="M185.2 278.9L185.2 285"/>
<path class="j2" d="M174.8 278.4L180.5 278.9"/>
<path class="j2h" d="M174.8 278.4L180.5 278.9"/>
<path class="j1" d="M144.8 261.6L144.8 267"/>
<path class="j1h" d="M144.8 261.6L144.8 267"/>
<path class="j4a" d="M101.4 197.6L106.9 196.6"/>
<path class="j4b" d="M84.5 235.9L82.3 241.2"/>
<path class="j3" d="M38 222L42.7 218.6"/>
<path class="j3h" d="M38 222L42.7 218.6"/>
<path class="j3" d="M129.8 301.4L132.7 296.6"/>
<path class="j3h" d="M129.8 301.4L132.7 296.6"/>
<path class="j7" d="M107.1 311.7L102.9 307.7"/>
<path class="j4a" d="M139.5 196.1L144.7 198.2"/>
<path class="j4a" d="M107.9 196.8L113.2 198.8"/>
<path class="bx" d="M76.2 197.8L80.8 199.5"/>
<path class="j2" d="M179.8 278.8L185.5 279.3"/>
<path class="j2h" d="M179.8 278.8L185.5 279.3"/>
<path class="j4a" d="M35.9 198.8L41.5 197.9"/>
<path class="bx" d="M103.4 243.8L103.4 248.9"/>
<path class="j7" d="M43.4 254.8L47.6 258.8"/>
<path class="bx" d="M161.8 198.3L166.7 197.5"/>
<path class="j7" d="M129.9 271.2L135.4 273"/>
<path class="j7" d="M118.6 317.5L119.8 311.8"/>
<path class="j4a" d="M120.2 280L125.7 279"/>
<path class="j7" d="M84.9 215.2L86 209.5"/>
<path class="j4b" d="M131.8 319.8L137.3 319"/>
<path class="j7" d="M126.8 225.8L122.6 221.8"/>
<path class="j3" d="M138.5 220.6L137 215.4"/>
<path class="j3h" d="M138.5 220.6L137 215.4"/>
<path class="j4b" d="M108.3 318.5L113.5 320.5"/>
<path class="j2" d="M76.9 196.9L71.8 199.6"/>
<path class="j2h" d="M76.9 196.9L71.8 199.6"/>
<path class="j2" d="M140.6 278.1L135.5 280.8"/>
<path class="j2h" d="M140.6 278.1L135.5 280.8"/>
<path class="j7" d="M180.7 282.2L185.5 279.1"/>
<path class="j3" d="M127.4 305.6L130.2 300.8"/>
<path class="j3h" d="M127.4 305.6L130.2 300.8"/>
<path class="j3" d="M181.3 275.8L185.5 279.5"/>
<path class="j3h" d="M181.3 275.8L185.5 279.5"/>
<path class="j4a" d="M96.6 198.4L102.1 197.5"/>
<path class="j7" d="M176.5 284.8L181.3 281.8"/>
<path class="j6" d="M63.2 223.8L63.2 229.4"/>
<path class="j4b" d="M130.8 238.1L136 240"/>
<path class="j4b" d="M119.7 317.1L117.6 322.4"/>
<path class="j4a" d="M180 280.1L185.5 279.2"/>
<path class="j4a" d="M80.7 277.6L78.6 282.8"/>
<path class="j7" d="M172.2 287.5L177.1 284.5"/>
<path class="j1" d="M21.6 206.2L21.6 212.3"/>
<path class="j1h" d="M21.6 206.2L21.6 212.3"/>
<path class="j4b" d="M35.1 238.7L40.3 240.7"/>
<path class="j7" d="M31.7 204.3L26.2 202.5"/>
<path class="j7" d="M110.7 315.3L106.5 311.3"/>
<path class="j2" d="M136.6 200.2L133.3 196"/>
<path class="j2h" d="M136.6 200.2L133.3 196"/>
<path class="j4a" d="M31 199.6L36.6 198.7"/>
<path class="j7" d="M168 290.2L172.8 287.1"/>
<path class="j1" d="M144.8 257L144.8 262.3"/>
<path class="j1h" d="M144.8 257L144.8 262.3"/>
<path class="j6" d="M185.2 273.9L185.2 279.7"/>
<path class="j3" d="M177.6 272.5L181.8 276.3"/>
<path class="j3h" d="M177.6 272.5L181.8 276.3"/>
<path class="j7" d="M156.6 302.3L151.1 300.6"/>
<path class="bx" d="M157 199.1L161.8 198.3"/>
<path class="j3" d="M124.9 309.8L127.7 305"/>
<path class="j3h" d="M124.9 309.8L127.7 305"/>
<path class="j3" d="M42.1 219.1L46.8 215.7"/>
<path class="j3h" d="M42.1 219.1L46.8 215.7"/>
<path class="j7" d="M140.2 244.4L134.5 245.6"/>
<path class="j4a" d="M115.3 280.8L120.9 279.8"/>
<path class="j4b" d="M127 320.6L132.5 319.7"/>
<path class="j7" d="M163.8 292.9L168.6 289.8"/>
<path class="j7" d="M47.1 258.3L51.3 262.4"/>
<path class="j7" d="M52.1 259.8L46.3 260.9"/>
<path class="j7" d="M130.4 229.4L126.3 225.4"/>
<path class="j3" d="M139.8 225.3L138.3 220"/>
<path class="j3h" d="M139.8 225.3L138.3 220"/>
<path class="j7" d="M80.9 266.9L79.8 272.5"/>
<path class="j8" d="M108.2 278.1L111.8 282.6"/>
<path class="j7" d="M159.6 295.5L164.4 292.5"/>
<path class="j7" d="M119.5 216.2L125.2 215"/>
<path class="j7" d="M31.3 231.6L37 230.4"/>
<path class="j4a" d="M91.8 199.2L97.3 198.3"/>
<path class="j4a" d="M90.1 279.5L95.3 281.5"/>
<path class="j4a" d="M58.1 280L63.3 282"/>
<path class="j3" d="M173.9 269.3L178.1 273"/>
<path class="j3h" d="M173.9 269.3L178.1 273"/>
<path class="j7" d="M155.4 298.2L160.2 295.2"/>
<path class="bx" d="M103.4 238.7L103.4 243.8"/>
<path class="j4a" d="M175.2 280.9L180.7 280"/>
<path class="j3" d="M71.1 209.6L66.7 206.5"/>
<path class="j3h" d="M71.1 209.6L66.7 206.5"/>
<path class="j8" d="M116.9 200.1L122 197.3"/>
<path class="j7" d="M151.2 300.9L156 297.8"/>
<path class="j7" d="M125 269.7L130.6 271.4"/>
<path class="j3" d="M122.5 314L125.3 309.2"/>
<path class="j3h" d="M122.5 314L125.3 309.2"/>
<path class="j8" d="M85.5 282.4L90.6 279.6"/>
<path class="j4a" d="M26.1 200.4L31.7 199.5"/>
<path class="j7" d="M114.3 318.8L110.2 314.8"/>
<path class="j7" d="M146.9 303.6L151.7 300.5"/>
<path class="j7" d="M97.5 294.2L103.2 293"/>
<path class="bx" d="M152.1 200L157 199.1"/>
<path class="j4a" d="M144 197.9L149.2 200"/>
<path class="j4a" d="M112.5 198.6L117.7 200.6"/>
<path class="j4a" d="M110.5 281.6L116 280.6"/>
<path class="j3" d="M145 243.2L141 247.2"/>
<path class="j3h" d="M145 243.2L141 247.2"/>
<path class="j4b" d="M122.2 321.4L127.7 320.5"/>
<path class="j3" d="M170.2 266L174.4 269.7"/>
<path class="j3h" d="M170.2 266L174.4 269.7"/>
<path class="bx" d="M80.8 199.5L85.3 201.2"/>
<path class="j6" d="M63.2 218.8L63.2 224.4"/>
<path class="j7" d="M142.7 306.2L147.5 303.2"/>
<path class="j8" d="M95.9 197.5L99.5 202"/>
<path class="j7" d="M50.8 261.9L55 265.9"/>
<path class="j7" d="M134.1 233L129.9 228.9"/>
<path class="j3" d="M141 229.9L139.6 224.6"/>
<path class="j3h" d="M141 229.9L139.6 224.6"/>
<path class="j7" d="M117.6 322.4L118.8 316.8"/>
<path class="j7" d="M138.5 308.9L143.3 305.9"/>
<path class="j4a" d="M87 200.1L92.5 199.1"/>
<path class="j4b" d="M112.8 320.2L118 322.2"/>
<path class="j7" d="M83.8 220.2L85 214.5"/>
<path class="j1" d="M144.8 252.3L144.8 257.7"/>
<path class="j1h" d="M144.8 252.3L144.8 257.7"/>
<path class="j1" d="M21.6 200.8L21.6 206.9"/>
<path class="j1h" d="M21.6 200.8L21.6 206.9"/>
<path class="j7" d="M26.8 202.7L21.3 201"/>
<path class="j3" d="M120 318.2L122.8 313.4"/>
<path class="j3h" d="M120 318.2L122.8 313.4"/>
<path class="j3" d="M46.3 216.1L51 212.7"/>
<path class="j3h" d="M46.3 216.1L51 212.7"/>
<path class="j6" d="M185.2 268.9L185.2 274.7"/>
<path class="j7" d="M134.3 311.6L139.1 308.5"/>
<path class="j4a" d="M170.4 281.7L175.9 280.8"/>
<path class="j2" d="M74.3 283.8L71.1 279.6"/>
<path class="j2h" d="M74.3 283.8L71.1 279.6"/>
<path class="j3" d="M166.6 262.7L170.8 266.5"/>
<path class="j3h" d="M166.6 262.7L170.8 266.5"/>
<path class="j7" d="M151.8 300.8L146.3 299.1"/>
<path class="j7" d="M130.1 314.3L134.9 311.2"/>
<path class="j4b" d="M135.3 239.8L140.6 241.8"/>
<path class="j4a" d="M129 196.9L126.9 202.2"/>
<path class="j4a" d="M21.3 201.2L26.8 200.3"/>
<path class="bx" d="M147.2 200.8L152.1 200"/>
<path class="j4b" d="M39.7 240.5L44.9 242.5"/>
<path class="j7" d="M118 322.3L113.8 318.3"/>
<path class="j7" d="M125.8 316.9L130.7 313.9"/>
<path class="j4a" d="M105.6 282.4L111.1 281.4"/>
<path class="j4b" d="M117.4 322.2L122.9 321.3"/>
<path class="j3" d="M162.9 259.5L167.1 263.2"/>
<path class="j3h" d="M162.9 259.5L167.1 263.2"/>
<path class="j3" d="M117.5 322.4L120.3 317.6"/>
<path class="j3h" d="M117.5 322.4L120.3 317.6"/>
<path class="bx" d="M103.4 233.6L103.4 238.7"/>
<path class="j7" d="M121.6 319.6L126.4 316.6"/>
<path class="j2" d="M72.4 199.2L67.4 201.9"/>
<path class="j2h" d="M72.4 199.2L67.4 201.9"/>
<path class="j2" d="M136.1 280.5L130.9 283.2"/>
<path class="j2h" d="M136.1 280.5L130.9 283.2"/>
<path class="j7" d="M54.5 265.5L58.7 269.5"/>
<circle cx="185.2" cy="279.3" r="5.3" fill="url(#gm1)"/>
<path class="j4a" d="M82.1 200.9L87.7 199.9"/>
<path class="j7" d="M117.4 322.3L122.2 319.2"/>
<path class="j7" d="M137.7 236.5L133.6 232.5"/>
<path class="j3" d="M142.3 234.5L140.9 229.2"/>
<path class="j3h" d="M142.3 234.5L140.9 229.2"/>
<path class="j7" d="M120.2 268.2L125.7 269.9"/>
<path class="j4a" d="M165.6 282.4L171.1 281.6"/>
<path class="j7" d="M79.9 271.8L78.8 277.5"/>
<path class="j2" d="M21.3 201.1L27.1 201.5"/>
<path class="j2h" d="M21.3 201.1L27.1 201.5"/>
<path class="j4a" d="M94.7 281.2L99.9 283.2"/>
<path class="j3" d="M159.2 256.2L163.4 260"/>
<path class="j3h" d="M159.2 256.2L163.4 260"/>
<path class="j6" d="M63.2 213.8L63.2 219.4"/>
<path class="j4a" d="M62.7 281.7L67.9 283.7"/>
<path class="j3" d="M118 322.3L113.7 318.7"/>
<path class="j3h" d="M118 322.3L113.7 318.7"/>
<path class="j7" d="M25.5 204.9L21.3 200.9"/>
<path class="bx" d="M142.4 201.6L147.2 200.8"/>
<path class="j1" d="M144.8 247.7L144.8 253"/>
<path class="j1h" d="M144.8 247.7L144.8 253"/>
<path class="j4a" d="M100.7 283.2L106.3 282.2"/>
<path class="j3" d="M50.4 213.2L55.2 209.8"/>
<path class="j3h" d="M50.4 213.2L55.2 209.8"/>
<path class="j2" d="M26.5 201.4L32.3 201.9"/>
<path class="j2h" d="M26.5 201.4L32.3 201.9"/>
<path class="j6" d="M185.2 263.9L185.2 269.7"/>
<path class="j4a" d="M86.4 198.8L84.2 204.1"/>
<path class="j4a" d="M148.5 199.7L153.7 201.8"/>
<path class="j3" d="M155.6 253L159.8 256.7"/>
<path class="j3h" d="M155.6 253L159.8 256.7"/>
<path class="j4a" d="M117.1 200.3L122.3 202.3"/>
<path class="j3" d="M114.2 319.1L110 315.5"/>
<path class="j3h" d="M114.2 319.1L110 315.5"/>
<path class="bx" d="M85.3 201.2L89.8 202.9"/>
<path class="j4a" d="M77.3 201.7L82.8 200.8"/>
<path class="j1" d="M117.7 316.4L117.7 322.5"/>
<path class="j1h" d="M117.7 316.4L117.7 322.5"/>
<path class="j7" d="M147 299.3L141.5 297.6"/>
<path class="j7" d="M58.1 269L62.3 273.1"/>
<path class="j4a" d="M21.3 201L26.5 203"/>
<path class="j7" d="M145.1 243.3L139.5 244.5"/>
<path class="j7" d="M57.1 258.7L51.4 259.9"/>
<path class="j7" d="M141.4 240.1L137.2 236"/>
<path class="j3" d="M143.6 239.1L142.1 233.8"/>
<path class="j3h" d="M143.6 239.1L142.1 233.8"/>
<path class="j4a" d="M160.7 283.2L166.3 282.3"/>
<path class="j8" d="M112.4 202.6L117.5 199.8"/>
<path class="j2" d="M31.7 201.8L37.5 202.3"/>
<path class="j2h" d="M31.7 201.8L37.5 202.3"/>
<path class="j7" d="M124.5 215.2L130.2 214"/>
<path class="j7" d="M85.9 222.4L80.9 222.2"/>
<path class="j7" d="M82.8 225.1L84 219.5"/>
<path class="j7" d="M36.3 230.5L42 229.3"/>
<path class="j3" d="M151.9 249.7L156.1 253.4"/>
<path class="j3h" d="M151.9 249.7L156.1 253.4"/>
<path class="bx" d="M103.4 228.5L103.4 233.6"/>
<path class="j8" d="M81 284.8L86.1 282"/>
<path class="j3" d="M110.5 316L106.3 312.3"/>
<path class="j3h" d="M110.5 316L106.3 312.3"/>
<path class="bx" d="M137.5 202.4L142.4 201.6"/>
<path class="j7" d="M29.2 208.5L25 204.4"/>
<path class="j4a" d="M95.9 284L101.4 283"/>
<path class="j4b" d="M139.9 241.5L145.1 243.5"/>
<path class="j4a" d="M121.5 280.5L119.4 285.8"/>
<path class="j7" d="M115.3 266.7L120.8 268.4"/>
<path class="j4b" d="M44.3 242.2L49.5 244.2"/>
<path class="j2" d="M36.9 202.2L42.7 202.6"/>
<path class="j2h" d="M36.9 202.2L42.7 202.6"/>
<path class="j3" d="M73.2 290.9L77 286.8"/>
<path class="j3h" d="M73.2 290.9L77 286.8"/>
<path class="j4b" d="M82.6 240.5L80.4 245.8"/>
<path class="j4a" d="M72.5 202.5L78 201.6"/>
<path class="j7" d="M122.4 289.9L117.4 290.1"/>
<path class="j7" d="M102.5 293.2L108.1 292"/>
<path class="j6" d="M63.2 208.8L63.2 214.4"/>
<path class="j3" d="M148.2 246.4L152.4 250.2"/>
<path class="j3h" d="M148.2 246.4L152.4 250.2"/>
<path class="j2" d="M139.4 203.9L136.1 199.6"/>
<path class="j2h" d="M139.4 203.9L136.1 199.6"/>
<path class="j3" d="M106.8 312.8L102.6 309.1"/>
<path class="j3h" d="M106.8 312.8L102.6 309.1"/>
<path class="j1" d="M144.8 243.1L144.8 248.4"/>
<path class="j1h" d="M144.8 243.1L144.8 248.4"/>
<path class="j7" d="M61.8 272.6L66 276.6"/>
<path class="j4a" d="M155.9 284L161.4 283.1"/>
<path class="j3" d="M54.6 210.2L59.3 206.8"/>
<path class="j3h" d="M54.6 210.2L59.3 206.8"/>
<path class="j7" d="M145.1 243.6L140.9 239.6"/>
<path class="j3" d="M144.9 243.7L143.4 238.4"/>
<path class="j3h" d="M144.9 243.7L143.4 238.4"/>
<path class="j3" d="M67.3 206.9L62.9 203.9"/>
<path class="j3h" d="M67.3 206.9L62.9 203.9"/>
<path class="j6" d="M185.2 258.9L185.2 264.7"/>
<path class="j2" d="M42.1 202.6L47.9 203"/>
<path class="j2h" d="M42.1 202.6L47.9 203"/>
<path class="bx" d="M132.6 203.2L137.5 202.4"/>
<path class="j7" d="M78.9 276.8L77.7 282.5"/>
<path class="j3" d="M144.5 243.2L148.7 246.9"/>
<path class="j3h" d="M144.5 243.2L148.7 246.9"/>
<path class="j3" d="M103.1 309.6L98.8 306"/>
<path class="j3h" d="M103.1 309.6L98.8 306"/>
<path class="j4a" d="M99.2 283L104.4 285"/>
<path class="j4a" d="M91 284.8L96.6 283.8"/>
<path class="j4a" d="M67.3 283.5L72.5 285.5"/>
<path class="j7" d="M32.9 212L28.7 208"/>
<path class="j1" d="M117.7 311.1L117.7 317.1"/>
<path class="j1h" d="M117.7 311.1L117.7 317.1"/>
<path class="j7" d="M142.1 297.8L136.7 296.1"/>
<path class="j2" d="M68 201.6L62.9 204.3"/>
<path class="j2h" d="M68 201.6L62.9 204.3"/>
<path class="j2" d="M131.6 282.8L126.4 285.5"/>
<path class="j2h" d="M131.6 282.8L126.4 285.5"/>
<path class="j7" d="M145.1 243.2L140.3 246.3"/>
<path class="j8" d="M111.3 282L114.8 286.5"/>
<path class="j4a" d="M67.7 203.3L73.2 202.4"/>
<path class="j2" d="M47.3 202.9L53.1 203.4"/>
<path class="j2h" d="M47.3 202.9L53.1 203.4"/>
<path class="j3" d="M99.4 306.4L95.1 302.8"/>
<path class="j3h" d="M99.4 306.4L95.1 302.8"/>
<path class="j4a" d="M78.8 282.2L76.7 287.4"/>
<path class="bx" d="M103.4 223.4L103.4 228.5"/>
<path class="j4a" d="M153.1 201.5L158.3 203.6"/>
<path class="j7" d="M140.8 245.9L136 249.1"/>
<path class="j4a" d="M151.1 284.8L156.6 283.9"/>
<circle cx="21.6" cy="201.1" r="5.3" fill="url(#gm1)"/>
<path class="j3" d="M145 243.1L142.2 247.9"/>
<path class="j3h" d="M145 243.1L142.2 247.9"/>
<path class="j4a" d="M121.6 202.1L126.9 204.1"/>
<path class="bx" d="M89.8 202.9L94.4 204.7"/>
<path class="j7" d="M65.5 276.2L69.7 280.2"/>
<path class="j4b" d="M139.6 244.3L145.1 243.3"/>
<path class="j7" d="M136.6 248.7L131.8 251.8"/>
<path class="j4a" d="M25.9 202.7L31.1 204.7"/>
<circle cx="117.7" cy="322.1" r="4.7" fill="url(#gm2)"/>
<path class="bx" d="M127.8 204L132.6 203.2"/>
<path class="j7" d="M132.3 251.4L127.5 254.5"/>
<path class="j7" d="M110.5 265.1L116 266.9"/>
<path class="j3" d="M144.5 243.6L149.1 240.3"/>
<path class="j3h" d="M144.5 243.6L149.1 240.3"/>
<path class="j2" d="M52.5 203.3L58.3 203.8"/>
<path class="j2h" d="M52.5 203.3L58.3 203.8"/>
<path class="j4a" d="M86.2 285.6L91.7 284.6"/>
<path class="j6" d="M63.2 203.8L63.2 209.4"/>
<path class="j3" d="M95.7 303.2L91.4 299.6"/>
<path class="j3h" d="M95.7 303.2L91.4 299.6"/>
<path class="j3" d="M58.8 207.3L63.5 203.9"/>
<path class="j3h" d="M58.8 207.3L63.5 203.9"/>
<path class="j7" d="M145.1 243.5L139.6 241.8"/>
<path class="j1" d="M144.8 237.6L144.8 243.8"/>
<path class="j1h" d="M144.8 237.6L144.8 243.8"/>
<path class="j7" d="M81.8 230.1L83 224.4"/>
<path class="j7" d="M128.1 254.1L123.3 257.2"/>
<path class="j2" d="M77 287.4L73.9 283.2"/>
<path class="j2h" d="M77 287.4L73.9 283.2"/>
<path class="j7" d="M36.6 215.6L32.4 211.6"/>
<path class="j8" d="M99 201.4L102.5 205.9"/>
<path class="j3" d="M142.5 247.3L139.7 252.2"/>
<path class="j3h" d="M142.5 247.3L139.7 252.2"/>
<path class="j4a" d="M62.9 204.2L68.4 203.2"/>
<path class="j7" d="M123.8 256.9L119 260"/>
<path class="j6" d="M185.2 254L185.2 259.7"/>
<path class="j3" d="M73.6 258L69.8 262.1"/>
<path class="j3h" d="M73.6 258L69.8 262.1"/>
<path class="j4a" d="M146.3 285.5L151.8 284.6"/>
<path class="j4b" d="M48.9 244L54.1 246"/>
<path class="j7" d="M119.6 259.6L114.8 262.7"/>
<path class="j2" d="M57.7 203.7L63.5 204.1"/>
<path class="j2h" d="M57.7 203.7L63.5 204.1"/>
<path class="j3" d="M91.9 300.1L87.7 296.4"/>
<path class="j3h" d="M91.9 300.1L87.7 296.4"/>
<path class="j4b" d="M134.7 245.1L140.3 244.1"/>
<path class="j7" d="M115.3 262.3L110.5 265.4"/>
<path class="j8" d="M107.9 205.1L113 202.3"/>
<path class="j7" d="M69.2 279.7L73.4 283.8"/>
<path class="j1" d="M117.7 305.8L117.7 311.8"/>
<path class="j1h" d="M117.7 305.8L117.7 311.8"/>
<path class="bx" d="M122.9 204.8L127.8 204"/>
<path class="j7" d="M137.3 296.3L131.8 294.5"/>
<path class="j8" d="M76.5 287.3L81.6 284.5"/>
<path class="j7" d="M111.1 265.1L106.3 268.2"/>
<path class="j4a" d="M81.3 286.4L86.9 285.4"/>
<path class="j3" d="M140 251.6L137.2 256.4"/>
<path class="j3h" d="M140 251.6L137.2 256.4"/>
<path class="j7" d="M62.1 257.7L56.4 258.9"/>
<path class="j8" d="M68.6 204.6L62.9 204.1"/>
<path class="j3" d="M88.2 296.9L84 293.2"/>
<path class="j3h" d="M88.2 296.9L84 293.2"/>
<path class="j7" d="M106.8 267.8L102 270.9"/>
<path class="bx" d="M103.4 218.3L103.4 223.4"/>
<path class="j7" d="M129.5 214.1L135.2 212.9"/>
<path class="j7" d="M41.3 229.5L47 228.3"/>
<path class="j4a" d="M103.7 284.7L108.9 286.7"/>
<path class="j7" d="M77.9 281.8L76.7 287.4"/>
<path class="j3" d="M145.1 243.6L140.6 240.6"/>
<path class="j3h" d="M145.1 243.6L140.6 240.6"/>
<path class="j4a" d="M71.9 285.2L77.1 287.2"/>
<path class="j7" d="M102.6 270.5L97.8 273.6"/>
<path class="j7" d="M40.3 219.2L36.1 215.1"/>
<path class="j3" d="M64.7 209.5L63.1 203.8"/>
<path class="j3h" d="M64.7 209.5L63.1 203.8"/>
<path class="j3" d="M148.6 240.7L153.2 237.4"/>
<path class="j3h" d="M148.6 240.7L153.2 237.4"/>
<path class="j4a" d="M141.5 286.3L147 285.4"/>
<path class="j7" d="M98.3 273.3L93.5 276.4"/>
<path class="j3" d="M84.5 293.7L80.3 290.1"/>
<path class="j3h" d="M84.5 293.7L80.3 290.1"/>
<path class="j8" d="M73.7 205L68 204.5"/>
<path class="j3" d="M137.6 255.8L134.8 260.7"/>
<path class="j3h" d="M137.6 255.8L134.8 260.7"/>
<path class="j4b" d="M129.9 245.9L135.4 244.9"/>
<path class="j4a" d="M127.1 201.6L125 206.9"/>
<path class="j7" d="M105.6 263.6L111.1 265.4"/>
<path class="j7" d="M94.1 276L89.3 279.1"/>
<path class="j4a" d="M157.6 203.3L162.8 205.4"/>
<path class="j7" d="M107.4 292.2L113.1 291"/>
<path class="j7" d="M140.3 242L134.8 240.3"/>
<path class="j4a" d="M126.2 203.8L131.4 205.8"/>
<path class="bx" d="M118 205.7L122.9 204.8"/>
<path class="j1" d="M144.8 232.2L144.8 238.3"/>
<path class="j1h" d="M144.8 232.2L144.8 238.3"/>
<path class="j7" d="M72.9 283.3L77.1 287.3"/>
<path class="bx" d="M94.4 204.7L98.9 206.4"/>
<path class="j7" d="M89.8 278.7L85 281.8"/>
<path class="j4a" d="M76.5 287.2L82 286.2"/>
<path class="j4a" d="M62.9 204L68.1 206"/>
<path class="j4a" d="M30.5 204.5L35.7 206.5"/>
<path class="j6" d="M185.2 249L185.2 254.7"/>
<path class="j7" d="M85.6 281.4L80.8 284.6"/>
<path class="j3" d="M80.8 290.5L76.5 286.9"/>
<path class="j3h" d="M80.8 290.5L76.5 286.9"/>
<path class="j8" d="M78.8 205.4L73.1 204.9"/>
<path class="j7" d="M81.3 284.2L76.5 287.3"/>
<path class="j2" d="M127 285.2L121.9 287.9"/>
<path class="j2h" d="M127 285.2L121.9 287.9"/>
<path class="j3" d="M135.1 260.1L132.3 264.9"/>
<path class="j3h" d="M135.1 260.1L132.3 264.9"/>
<circle cx="144.8" cy="243.4" r="4.7" fill="url(#gm2)"/>
<path class="j7" d="M43.9 222.7L39.7 218.7"/>
<path class="j7" d="M80.8 235.1L81.9 229.4"/>
<path class="j4a" d="M136.6 287.1L142.2 286.2"/>
<path class="j1" d="M117.7 300.4L117.7 306.5"/>
<path class="j1h" d="M117.7 300.4L117.7 306.5"/>
<path class="j7" d="M132.5 294.7L127 293"/>
<path class="j3" d="M66 214.5L64.5 208.8"/>
<path class="j3h" d="M66 214.5L64.5 208.8"/>
<path class="j4b" d="M125 246.7L130.6 245.7"/>
<path class="j2" d="M76.5 287.1L82.3 287.5"/>
<path class="j2h" d="M76.5 287.1L82.3 287.5"/>
<path class="j8" d="M83.9 205.8L78.2 205.3"/>
<path class="j4b" d="M53.5 245.7L58.7 247.7"/>
<path class="bx" d="M103.4 213.2L103.4 218.3"/>
<path class="bx" d="M113.2 206.5L118 205.7"/>
<path class="j2" d="M142.2 207.5L138.9 203.3"/>
<path class="j2h" d="M142.2 207.5L138.9 203.3"/>
<path class="j3" d="M152.6 237.8L157.2 234.5"/>
<path class="j3h" d="M152.6 237.8L157.2 234.5"/>
<path class="j4a" d="M84.5 203.4L82.3 208.7"/>
<path class="j3" d="M132.7 264.3L129.8 269.2"/>
<path class="j3h" d="M132.7 264.3L129.8 269.2"/>
<path class="j2" d="M66.1 208L63 203.8"/>
<path class="j2h" d="M66.1 208L63 203.8"/>
<path class="j1" d="M76.8 282.1L76.8 287.5"/>
<path class="j1h" d="M76.8 282.1L76.8 287.5"/>
<path class="j2" d="M81.6 287.4L87.4 287.9"/>
<path class="j2h" d="M81.6 287.4L87.4 287.9"/>
<path class="j8" d="M89 206.3L83.3 205.8"/>
<path class="j7" d="M100.8 262.1L106.3 263.8"/>
<path class="j4a" d="M131.8 287.8L137.3 287"/>
<path class="j4a" d="M108.3 286.5L113.5 288.5"/>
<path class="j7" d="M47.6 226.3L43.4 222.3"/>
<path class="j7" d="M135.4 240.5L129.9 238.7"/>
<path class="j1" d="M144.8 226.8L144.8 232.9"/>
<path class="j1h" d="M144.8 226.8L144.8 232.9"/>
<path class="j4b" d="M120.2 247.5L125.7 246.5"/>
<path class="j6" d="M185.2 244L185.2 249.7"/>
<path class="j3" d="M130.2 268.6L127.4 273.4"/>
<path class="j3h" d="M130.2 268.6L127.4 273.4"/>
<path class="j8" d="M103.4 207.5L108.5 204.7"/>
<path class="bx" d="M108.3 207.3L113.2 206.5"/>
<path class="j2" d="M86.7 287.8L92.5 288.3"/>
<path class="j2h" d="M86.7 287.8L92.5 288.3"/>
<path class="j3" d="M67.4 219.6L65.8 213.9"/>
<path class="j3h" d="M67.4 219.6L65.8 213.9"/>
<path class="j8" d="M94.1 206.7L88.4 206.2"/>
<path class="j4a" d="M119.7 285.1L117.6 290.4"/>
<circle cx="63.2" cy="204.1" r="5.3" fill="url(#gm1)"/>
<path class="j4a" d="M162.2 205.1L167.4 207.2"/>
<path class="j4a" d="M130.8 205.6L136 207.5"/>
<path class="bx" d="M98.9 206.4L103.4 208.1"/>
<path class="j4b" d="M80.7 245.1L78.6 250.3"/>
<path class="j4a" d="M67.4 205.7L72.6 207.7"/>
<path class="j4a" d="M35.1 206.2L40.3 208.2"/>
<path class="j1" d="M117.7 295.1L117.7 301.1"/>
<path class="j1h" d="M117.7 295.1L117.7 301.1"/>
<path class="j7" d="M127.7 293.2L122.2 291.5"/>
<path class="j8" d="M114.4 285.9L117.9 290.4"/>
<path class="j2" d="M91.8 288.2L97.6 288.6"/>
<path class="j2h" d="M91.8 288.2L97.6 288.6"/>
<path class="j7" d="M76.5 254.6L81.5 254.7"/>
<path class="j7" d="M67.1 256.6L61.4 257.8"/>
<path class="j4a" d="M127 288.6L132.5 287.7"/>
<path class="j8" d="M99.2 207.1L93.5 206.6"/>
<path class="j3" d="M127.7 272.8L124.9 277.7"/>
<path class="j3h" d="M127.7 272.8L124.9 277.7"/>
<path class="bx" d="M103.4 208.1L103.4 213.2"/>
<path class="j3" d="M156.6 234.9L161.2 231.6"/>
<path class="j3h" d="M156.6 234.9L161.2 231.6"/>
<path class="j7" d="M134.5 213.1L140.2 211.9"/>
<path class="j4b" d="M115.3 248.3L120.9 247.3"/>
<path class="j7" d="M46.3 228.4L52.1 227.3"/>
<path class="j7" d="M51.3 229.9L47.1 225.8"/>
<path class="j1" d="M76.8 277.5L76.8 282.8"/>
<path class="j1h" d="M76.8 277.5L76.8 282.8"/>
<path class="j7" d="M79.8 240L80.9 234.4"/>
<path class="bx" d="M103.4 208.1L108.3 207.3"/>
<path class="j2" d="M96.9 288.6L102.7 289"/>
<path class="j2h" d="M96.9 288.6L102.7 289"/>
<path class="j8" d="M104.3 207.5L98.6 207"/>
<path class="j4b" d="M58.1 247.5L63.3 249.5"/>
<path class="j3" d="M68.7 224.6L67.2 218.9"/>
<path class="j3h" d="M68.7 224.6L67.2 218.9"/>
<path class="j3" d="M125.3 277.1L122.5 281.9"/>
<path class="j3h" d="M125.3 277.1L122.5 281.9"/>
<path class="j7" d="M95.9 260.6L101.4 262.3"/>
<path class="j7" d="M112.4 291.2L118 290"/>
<path class="j8" d="M102.1 205.3L105.6 209.8"/>
<path class="j7" d="M130.6 238.9L125 237.2"/>
<path class="j6" d="M185.2 238.9L185.2 244.7"/>
<path class="j1" d="M144.8 221.4L144.8 227.5"/>
<path class="j1h" d="M144.8 221.4L144.8 227.5"/>
<path class="j3" d="M141.2 241L136.8 238"/>
<path class="j3h" d="M141.2 241L136.8 238"/>
<path class="j2" d="M122.5 287.6L117.4 290.3"/>
<path class="j2h" d="M122.5 287.6L117.4 290.3"/>
<path class="j4a" d="M122.2 289.4L127.7 288.5"/>
<path class="j2" d="M102 288.9L107.8 289.4"/>
<path class="j2h" d="M102 288.9L107.8 289.4"/>
<path class="j8" d="M109.4 208L103.7 207.5"/>
<path class="j4b" d="M110.5 249.1L116 248.1"/>
<circle cx="76.8" cy="287.1" r="5.3" fill="url(#gm1)"/>
<path class="j7" d="M55 233.4L50.8 229.4"/>
<path class="j4a" d="M112.8 288.2L118 290.2"/>
<path class="j3" d="M122.8 281.3L120 286.2"/>
<path class="j3h" d="M122.8 281.3L120 286.2"/>
<path class="j3" d="M160.7 232L165.3 228.6"/>
<path class="j3h" d="M160.7 232L165.3 228.6"/>
<path class="j1" d="M117.7 289.8L117.7 295.8"/>
<path class="j1h" d="M117.7 289.8L117.7 295.8"/>
<path class="j7" d="M122.9 291.7L117.4 290"/>
<path class="j2" d="M107.1 289.3L112.9 289.8"/>
<path class="j2h" d="M107.1 289.3L112.9 289.8"/>
<path class="j8" d="M114.5 208.4L108.8 207.9"/>
<path class="j1" d="M76.8 272.8L76.8 278.2"/>
<path class="j1h" d="M76.8 272.8L76.8 278.2"/>
<path class="j3" d="M70.1 229.7L68.5 224"/>
<path class="j3h" d="M70.1 229.7L68.5 224"/>
<path class="j4a" d="M166.7 206.9L171.9 209"/>
<path class="j4a" d="M135.3 207.3L140.6 209.3"/>
<path class="j4a" d="M117.4 290.2L122.9 289.3"/>
<path class="j4a" d="M72 207.5L77.2 209.5"/>
<path class="j4a" d="M39.7 208L44.9 210"/>
<path class="j3" d="M120.3 285.6L117.5 290.4"/>
<path class="j3h" d="M120.3 285.6L117.5 290.4"/>
<path class="j4b" d="M105.6 249.9L111.1 248.9"/>
<path class="j2" d="M112.2 289.7L118 290.1"/>
<path class="j2h" d="M112.2 289.7L118 290.1"/>
<path class="j8" d="M119.6 208.8L113.9 208.3"/>
<path class="j8" d="M99 210L104.1 207.2"/>
<path class="j7" d="M58.7 237L54.5 233"/>
<path class="j7" d="M91 259.1L96.6 260.8"/>
<path class="j6" d="M185.2 233.9L185.2 239.6"/>
<path class="j7" d="M125.7 237.4L120.2 235.7"/>
<path class="j1" d="M144.8 216L144.8 222.1"/>
<path class="j1h" d="M144.8 216L144.8 222.1"/>
<path class="j7" d="M78.8 245L79.9 239.3"/>
<path class="j3" d="M113.7 286.6L118 290.3"/>
<path class="j3h" d="M113.7 286.6L118 290.3"/>
<path class="j8" d="M124.7 209.2L119 208.7"/>
<path class="j4b" d="M62.7 249.2L67.9 251.2"/>
<path class="j3" d="M164.7 229.1L169.3 225.7"/>
<path class="j3h" d="M164.7 229.1L169.3 225.7"/>
<path class="j2" d="M145 211.2L141.8 207"/>
<path class="j2h" d="M145 211.2L141.8 207"/>
<path class="j3" d="M71.5 234.7L69.9 229"/>
<path class="j3h" d="M71.5 234.7L69.9 229"/>
<path class="j4a" d="M125.3 206.2L123.1 211.5"/>
<path class="j4b" d="M100.7 250.7L106.3 249.7"/>
<path class="j2" d="M68.9 211.6L65.7 207.4"/>
<path class="j2h" d="M68.9 211.6L65.7 207.4"/>
<path class="j1" d="M76.8 268.2L76.8 273.5"/>
<path class="j1h" d="M76.8 268.2L76.8 273.5"/>
<path class="j6" d="M117.7 284.8L117.7 290.5"/>
<path class="j3" d="M110 283.4L114.2 287.1"/>
<path class="j3h" d="M110 283.4L114.2 287.1"/>
<path class="j8" d="M129.8 209.7L124.1 209.2"/>
<path class="j7" d="M72.1 255.6L66.4 256.8"/>
<path class="j7" d="M62.3 240.6L58.1 236.5"/>
<path class="j7" d="M139.5 212L145.1 210.8"/>
<path class="j7" d="M51.4 227.4L57.1 226.2"/>
<path class="j3" d="M106.3 280.2L110.5 283.9"/>
<path class="j3h" d="M106.3 280.2L110.5 283.9"/>
<path class="j8" d="M134.9 210.1L129.2 209.6"/>
<path class="j4b" d="M95.9 251.5L101.4 250.5"/>
<path class="j6" d="M185.2 228.9L185.2 234.6"/>
<path class="j4a" d="M171.2 208.7L176.4 210.8"/>
<path class="j4a" d="M139.9 209L145.1 211"/>
<path class="j7" d="M86.2 257.5L91.7 259.3"/>
<path class="j3" d="M72.8 239.8L71.3 234.1"/>
<path class="j3h" d="M72.8 239.8L71.3 234.1"/>
<path class="j4a" d="M76.5 209.2L81.7 211.2"/>
<path class="j7" d="M120.8 235.9L115.3 234.2"/>
<path class="j4a" d="M44.3 209.7L49.5 211.7"/>
<path class="j3" d="M77 254.3L73.2 258.5"/>
<path class="j3h" d="M77 254.3L73.2 258.5"/>
<path class="j3" d="M102.6 277L106.8 280.6"/>
<path class="j3h" d="M102.6 277L106.8 280.6"/>
<path class="j1" d="M144.8 210.6L144.8 216.7"/>
<path class="j1h" d="M144.8 210.6L144.8 216.7"/>
<path class="j4a" d="M82.6 208L80.4 213.3"/>
<path class="j8" d="M140 210.5L134.3 210"/>
<path class="j3" d="M168.8 226.1L173.4 222.8"/>
<path class="j3h" d="M168.8 226.1L173.4 222.8"/>
<path class="j7" d="M66 244.1L61.8 240.1"/>
<path class="j1" d="M76.8 263.5L76.8 268.9"/>
<path class="j1h" d="M76.8 263.5L76.8 268.9"/>
<path class="j6" d="M117.7 279.8L117.7 285.5"/>
<path class="j3" d="M98.8 273.7L103.1 277.4"/>
<path class="j3h" d="M98.8 273.7L103.1 277.4"/>
<path class="j7" d="M77.7 250L78.9 244.3"/>
<path class="j8" d="M145.1 210.9L139.4 210.4"/>
<path class="j3" d="M137.3 238.4L132.9 235.4"/>
<path class="j3h" d="M137.3 238.4L132.9 235.4"/>
<path class="j4b" d="M91 252.3L96.6 251.3"/>
<path class="j4b" d="M67.3 251L72.5 253"/>
<path class="j8" d="M94.5 212.4L99.6 209.6"/>
<path class="j7" d="M140.3 213.8L145.1 210.7"/>
<path class="j3" d="M74.2 244.8L72.6 239.1"/>
<path class="j3h" d="M74.2 244.8L72.6 239.1"/>
<path class="j3" d="M95.1 270.5L99.4 274.2"/>
<path class="j3h" d="M95.1 270.5L99.4 274.2"/>
<path class="j2" d="M144.5 210.9L150.2 211.4"/>
<path class="j2h" d="M144.5 210.9L150.2 211.4"/>
<path class="j4b" d="M78.8 249.7L76.7 254.9"/>
<path class="j7" d="M136 216.6L140.8 213.4"/>
<circle cx="117.7" cy="290.1" r="5.3" fill="url(#gm1)"/>
<path class="j6" d="M185.2 223.9L185.2 229.6"/>
<path class="j7" d="M69.7 247.7L65.5 243.7"/>
<path class="j4a" d="M139.6 211.8L145.1 210.8"/>
<path class="j7" d="M131.8 219.3L136.6 216.2"/>
<path class="j8" d="M105.2 209.2L108.7 213.7"/>
<path class="j7" d="M81.3 256L86.8 257.7"/>
<path class="j7" d="M127.5 222L132.3 218.9"/>
<path class="j3" d="M172.8 223.2L177.4 219.9"/>
<path class="j3h" d="M172.8 223.2L177.4 219.9"/>
<path class="j3" d="M91.4 267.3L95.7 271"/>
<path class="j3h" d="M91.4 267.3L95.7 271"/>
<path class="j7" d="M116 234.4L110.5 232.6"/>
<path class="j4b" d="M86.2 253.1L91.7 252.1"/>
<path class="j2" d="M149.5 211.3L155.2 211.8"/>
<path class="j2h" d="M149.5 211.3L155.2 211.8"/>
<path class="j7" d="M123.3 224.7L128.1 221.6"/>
<path class="j1" d="M76.8 258.9L76.8 264.2"/>
<path class="j1h" d="M76.8 258.9L76.8 264.2"/>
<path class="j4a" d="M175.8 210.6L181 212.6"/>
<path class="j7" d="M119 227.5L123.8 224.4"/>
<path class="j6" d="M117.7 274.8L117.7 280.5"/>
<path class="j4a" d="M81 211L86.2 213"/>
<path class="j3" d="M87.7 264.1L91.9 267.7"/>
<path class="j3h" d="M87.7 264.1L91.9 267.7"/>
<path class="j4a" d="M48.9 211.5L54.1 213.5"/>
<path class="j7" d="M114.8 230.2L119.6 227.1"/>
<path class="j3" d="M75.5 249.9L74 244.2"/>
<path class="j3h" d="M75.5 249.9L74 244.2"/>
<path class="j2" d="M154.6 211.7L160.3 212.2"/>
<path class="j2h" d="M154.6 211.7L160.3 212.2"/>
<path class="j4a" d="M134.7 212.6L140.3 211.6"/>
<path class="j7" d="M77.1 254.5L71.4 255.7"/>
<path class="j7" d="M110.5 232.9L115.3 229.8"/>
<path class="j2" d="M145.1 210.7L140 213.4"/>
<path class="j2h" d="M145.1 210.7L140 213.4"/>
<path class="j7" d="M73.4 251.3L69.2 247.2"/>
<path class="j7" d="M106.3 235.7L111.1 232.6"/>
<path class="j4b" d="M81.3 253.9L86.9 252.9"/>
<path class="j7" d="M56.4 226.4L62.1 225.2"/>
<path class="j3" d="M84 260.8L88.2 264.5"/>
<path class="j3h" d="M84 260.8L88.2 264.5"/>
<path class="j7" d="M102 238.4L106.8 235.3"/>
<path class="j2" d="M159.6 212.1L165.3 212.6"/>
<path class="j2h" d="M159.6 212.1L165.3 212.6"/>
<path class="j6" d="M185.2 218.9L185.2 224.6"/>
<path class="j7" d="M76.7 254.9L77.9 249.3"/>
<path class="j4b" d="M71.9 252.7L77.1 254.7"/>
<path class="j7" d="M97.8 241.1L102.6 238"/>
<path class="j3" d="M176.8 220.3L181.4 217"/>
<path class="j3h" d="M176.8 220.3L181.4 217"/>
<path class="j7" d="M93.5 243.9L98.3 240.8"/>
<path class="j7" d="M76.5 254.5L82 256.2"/>
<path class="j3" d="M80.3 257.6L84.5 261.3"/>
<path class="j3h" d="M80.3 257.6L84.5 261.3"/>
<path class="j2" d="M71.6 215.2L68.4 211"/>
<path class="j2h" d="M71.6 215.2L68.4 211"/>
<path class="j4a" d="M129.9 213.4L135.4 212.4"/>
<path class="j1" d="M76.8 254.2L76.8 259.6"/>
<path class="j1h" d="M76.8 254.2L76.8 259.6"/>
<path class="j7" d="M111.1 232.9L105.6 231.1"/>
<path class="j7" d="M89.3 246.6L94.1 243.5"/>
<path class="j2" d="M164.7 212.6L170.4 213.1"/>
<path class="j2h" d="M164.7 212.6L170.4 213.1"/>
<path class="j3" d="M76.9 254.9L75.3 249.2"/>
<path class="j3h" d="M76.9 254.9L75.3 249.2"/>
<path class="j7" d="M77.1 254.8L72.9 250.8"/>
<path class="j7" d="M85 249.3L89.8 246.2"/>
<path class="j4b" d="M76.5 254.7L82 253.7"/>
<path class="j6" d="M117.7 269.8L117.7 275.5"/>
<path class="j7" d="M80.8 252.1L85.6 248.9"/>
<path class="j3" d="M76.5 254.4L80.8 258.1"/>
<path class="j3h" d="M76.5 254.4L80.8 258.1"/>
<path class="j2" d="M169.7 213L175.4 213.5"/>
<path class="j2h" d="M169.7 213L175.4 213.5"/>
<path class="j7" d="M76.5 254.8L81.3 251.7"/>
<path class="j8" d="M90 214.9L95.1 212.1"/>
<circle cx="144.8" cy="210.9" r="5.3" fill="url(#gm1)"/>
<path class="j4a" d="M180.3 212.4L185.5 214.4"/>
<path class="j4a" d="M125 214.2L130.6 213.2"/>
<path class="j4a" d="M85.6 212.7L90.8 214.7"/>
<path class="j4a" d="M53.5 213.2L58.7 215.2"/>
<path class="j4a" d="M123.4 210.8L121.3 216.1"/>
<path class="j2" d="M174.8 213.4L180.5 213.9"/>
<path class="j2h" d="M174.8 213.4L180.5 213.9"/>
<path class="j6" d="M185.2 213.9L185.2 219.6"/>
<path class="j3" d="M180.9 217.4L185.5 214.1"/>
<path class="j3h" d="M180.9 217.4L185.5 214.1"/>
<path class="j3" d="M133.5 235.8L129 232.7"/>
<path class="j3h" d="M133.5 235.8L129 232.7"/>
<path class="j3" d="M76.5 254.8L81.2 251.4"/>
<path class="j3h" d="M76.5 254.8L81.2 251.4"/>
<path class="j1" d="M76.8 248.8L76.8 254.9"/>
<path class="j1h" d="M76.8 248.8L76.8 254.9"/>
<path class="j2" d="M179.8 213.8L185.5 214.3"/>
<path class="j2h" d="M179.8 213.8L185.5 214.3"/>
<path class="j7" d="M106.3 231.3L100.8 229.6"/>
<path class="j4a" d="M120.2 215L125.7 214"/>
<path class="j6" d="M117.7 264.8L117.7 270.5"/>
<path class="j2" d="M140.6 213.1L135.5 215.8"/>
<path class="j2h" d="M140.6 213.1L135.5 215.8"/>
<path class="j4a" d="M180 215.1L185.5 214.2"/>
<path class="j4a" d="M80.7 212.6L78.6 217.8"/>
<path class="j7" d="M81.5 222.2L76.5 222.1"/>
<path class="j7" d="M61.4 225.3L67.1 224.1"/>
<path class="j4a" d="M115.3 215.8L120.9 214.8"/>
<path class="j3" d="M80.6 251.9L85.3 248.5"/>
<path class="j3h" d="M80.6 251.9L85.3 248.5"/>
<path class="j8" d="M108.2 213.1L111.8 217.6"/>
<path class="j4a" d="M90.1 214.5L95.3 216.5"/>
<path class="j4a" d="M58.1 215L63.3 217"/>
<path class="j1" d="M76.8 243.4L76.8 249.5"/>
<path class="j1h" d="M76.8 243.4L76.8 249.5"/>
<path class="j7" d="M101.4 229.8L95.9 228.1"/>
<path class="j4a" d="M175.2 215.9L180.7 215"/>
<path class="j6" d="M117.7 259.8L117.7 265.5"/>
<path class="j8" d="M85.5 217.4L90.6 214.6"/>
<path class="j4a" d="M110.5 216.6L116 215.6"/>
<circle cx="76.8" cy="254.6" r="4.7" fill="url(#gm2)"/>
<path class="j4a" d="M170.4 216.7L175.9 215.8"/>
<path class="j2" d="M74.3 218.8L71.1 214.6"/>
<path class="j2h" d="M74.3 218.8L71.1 214.6"/>
<path class="j3" d="M84.7 248.9L89.4 245.5"/>
<path class="j3h" d="M84.7 248.9L89.4 245.5"/>
<path class="j4a" d="M105.6 217.4L111.1 216.4"/>
<path class="j2" d="M136.1 215.5L130.9 218.2"/>
<path class="j2h" d="M136.1 215.5L130.9 218.2"/>
<path class="j1" d="M76.8 238L76.8 244.1"/>
<path class="j1h" d="M76.8 238L76.8 244.1"/>
<path class="j7" d="M96.6 228.3L91 226.6"/>
<path class="j6" d="M117.7 254.8L117.7 260.5"/>
<circle cx="185.2" cy="214.3" r="5.3" fill="url(#gm1)"/>
<path class="j4a" d="M165.6 217.4L171.1 216.6"/>
<path class="j3" d="M129.6 233.1L125.2 230.1"/>
<path class="j3h" d="M129.6 233.1L125.2 230.1"/>
<path class="j4a" d="M94.7 216.2L99.9 218.2"/>
<path class="j4a" d="M62.7 216.7L67.9 218.7"/>
<path class="j4a" d="M100.7 218.2L106.3 217.2"/>
<path class="j3" d="M88.8 246L93.4 242.6"/>
<path class="j3h" d="M88.8 246L93.4 242.6"/>
<path class="j7" d="M66.4 224.3L72.1 223.1"/>
<path class="j4a" d="M160.7 218.2L166.3 217.3"/>
<path class="j8" d="M81 219.8L86.1 217"/>
<path class="j6" d="M117.7 249.8L117.7 255.5"/>
<path class="j4a" d="M95.9 219L101.4 218"/>
<path class="j1" d="M76.8 232.6L76.8 238.7"/>
<path class="j1h" d="M76.8 232.6L76.8 238.7"/>
<path class="j7" d="M91.7 226.8L86.2 225"/>
<path class="j4a" d="M121.5 215.5L119.4 220.8"/>
<path class="j4a" d="M155.9 219L161.4 218.1"/>
<path class="j3" d="M92.9 243L97.5 239.6"/>
<path class="j3h" d="M92.9 243L97.5 239.6"/>
<path class="j4a" d="M99.2 218L104.4 220"/>
<path class="j4a" d="M91 219.8L96.6 218.8"/>
<path class="j4a" d="M67.3 218.5L72.5 220.5"/>
<path class="j2" d="M131.6 217.8L126.4 220.5"/>
<path class="j2h" d="M131.6 217.8L126.4 220.5"/>
<path class="j8" d="M111.3 217L114.8 221.5"/>
<path class="j4a" d="M78.8 217.2L76.7 222.4"/>
<path class="j4a" d="M151.1 219.8L156.6 218.9"/>
<path class="j6" d="M117.7 244.8L117.7 250.4"/>
<path class="j1" d="M76.8 227.2L76.8 233.3"/>
<path class="j1h" d="M76.8 227.2L76.8 233.3"/>
<path class="j7" d="M86.8 225.2L81.3 223.5"/>
<path class="j4a" d="M86.2 220.6L91.7 219.6"/>
<path class="j3" d="M97 240.1L101.6 236.7"/>
<path class="j3h" d="M97 240.1L101.6 236.7"/>
<path class="j2" d="M77 222.4L73.9 218.2"/>
<path class="j2h" d="M77 222.4L73.9 218.2"/>
<path class="j4a" d="M146.3 220.5L151.8 219.6"/>
<path class="j7" d="M71.4 223.2L77.1 222"/>
<path class="j3" d="M125.7 230.5L121.3 227.5"/>
<path class="j3h" d="M125.7 230.5L121.3 227.5"/>
<path class="j8" d="M76.5 222.3L81.6 219.5"/>
<path class="j4a" d="M81.3 221.4L86.9 220.4"/>
<path class="j6" d="M117.7 239.8L117.7 245.4"/>
<path class="j4a" d="M103.7 219.7L108.9 221.7"/>
<path class="j4a" d="M71.9 220.2L77.1 222.2"/>
<path class="j4a" d="M141.5 221.3L147 220.4"/>
<path class="j1" d="M76.8 221.8L76.8 227.9"/>
<path class="j1h" d="M76.8 221.8L76.8 227.9"/>
<path class="j7" d="M82 223.7L76.5 222"/>
<path class="j3" d="M101.1 237.1L105.7 233.7"/>
<path class="j3h" d="M101.1 237.1L105.7 233.7"/>
<path class="j4a" d="M76.5 222.2L82 221.2"/>
<path class="j2" d="M127 220.2L121.9 222.9"/>
<path class="j2h" d="M127 220.2L121.9 222.9"/>
<path class="j4a" d="M136.6 222.1L142.2 221.2"/>
<path class="j2" d="M76.5 222.1L82.3 222.5"/>
<path class="j2h" d="M76.5 222.1L82.3 222.5"/>
<path class="j6" d="M117.7 234.8L117.7 240.4"/>
<path class="j3" d="M105.1 234.2L109.8 230.8"/>
<path class="j3h" d="M105.1 234.2L109.8 230.8"/>
<path class="j2" d="M81.6 222.4L87.4 222.9"/>
<path class="j2h" d="M81.6 222.4L87.4 222.9"/>
<path class="j4a" d="M131.8 222.8L137.3 222"/>
<path class="j4a" d="M108.3 221.5L113.5 223.5"/>
<path class="j2" d="M86.7 222.8L92.5 223.3"/>
<path class="j2h" d="M86.7 222.8L92.5 223.3"/>
<path class="j4a" d="M119.7 220.1L117.6 225.4"/>
<path class="j8" d="M114.4 220.9L117.9 225.4"/>
<path class="j2" d="M91.8 223.2L97.6 223.6"/>
<path class="j2h" d="M91.8 223.2L97.6 223.6"/>
<path class="j4a" d="M127 223.6L132.5 222.7"/>
<path class="j6" d="M117.7 229.8L117.7 235.4"/>
<path class="j3" d="M109.2 231.2L113.9 227.8"/>
<path class="j3h" d="M109.2 231.2L113.9 227.8"/>
<path class="j3" d="M121.9 227.9L117.4 224.9"/>
<path class="j3h" d="M121.9 227.9L117.4 224.9"/>
<path class="j2" d="M96.9 223.6L102.7 224"/>
<path class="j2h" d="M96.9 223.6L102.7 224"/>
<path class="j2" d="M122.5 222.6L117.4 225.3"/>
<path class="j2h" d="M122.5 222.6L117.4 225.3"/>
<path class="j4a" d="M122.2 224.4L127.7 223.5"/>
<path class="j2" d="M102 223.9L107.8 224.4"/>
<path class="j2h" d="M102 223.9L107.8 224.4"/>
<circle cx="76.8" cy="222.1" r="5.3" fill="url(#gm1)"/>
<path class="j4a" d="M112.8 223.2L118 225.2"/>
<path class="j2" d="M107.1 224.3L112.9 224.8"/>
<path class="j2h" d="M107.1 224.3L112.9 224.8"/>
<path class="j6" d="M117.7 224.8L117.7 230.4"/>
<path class="j3" d="M113.3 228.3L118 224.9"/>
<path class="j3h" d="M113.3 228.3L118 224.9"/>
<path class="j4a" d="M117.4 225.2L122.9 224.3"/>
<path class="j2" d="M112.2 224.7L118 225.1"/>
<path class="j2h" d="M112.2 224.7L118 225.1"/>
<circle cx="117.7" cy="225.1" r="5.3" fill="url(#gm1)"/>
<path d="M18.7 205C10.5 222 10.5 245 18.7 262" fill="none" stroke="#000" stroke-width="1.1"/>
<line x1="154.2" y1="183.3" x2="128.5" y2="208.3" stroke="#000" stroke-width="0.9"/>
<text x="31.9" y="193.3" font-size="9.7" class="ls"><tspan font-style="italic">J</tspan><tspan dy="2.6" font-size="7.18">4a</tspan></text>
<text x="104.2" y="188.2" font-size="9.7" class="ls"><tspan font-style="italic">J</tspan><tspan dy="2.6" font-size="7.18">2</tspan></text>
<text x="156.3" y="185" font-size="9.7" class="ls"><tspan font-style="italic">J</tspan><tspan dy="2.6" font-size="7.18">8</tspan></text>
<text x="0.8" y="237.6" font-size="9.7" class="ls"><tspan font-style="italic">J</tspan><tspan dy="2.6" font-size="7.18">5</tspan></text>
<text x="157.3" y="252.3" font-size="9.7" class="ls"><tspan font-style="italic">J</tspan><tspan dy="2.6" font-size="7.18">3</tspan></text>
<text x="174.6" y="248.2" font-size="9.7" class="ls"><tspan font-style="italic">J</tspan><tspan dy="2.6" font-size="7.18">6</tspan></text>
<text x="188.8" y="296" font-size="9.7" class="ls"><tspan font-style="italic">J</tspan><tspan dy="2.6" font-size="7.18">1</tspan></text>
<text x="147.2" y="309.7" font-size="9.7" class="ls"><tspan font-style="italic">J</tspan><tspan dy="2.6" font-size="7.18">7</tspan></text>
<text x="82.2" y="319.8" font-size="9.7" class="ls"><tspan font-style="italic">J</tspan><tspan dy="2.6" font-size="7.18">4b</tspan></text>
<text x="175.8" y="205.7" font-size="9.3" class="ls">Mn1</text>
<text x="175.7" y="324" font-size="9.3" class="ls">Mn2</text>
</g>
<line x1="32.5" y1="322" x2="23.2" y2="323.6" stroke="#000" stroke-width="1.15"/>
<polygon points="21.82,323.84 25.53,321.56 26.08,324.75" fill="#000"/>
<line x1="32.5" y1="322" x2="40.8" y2="326.2" stroke="#000" stroke-width="1.15"/>
<polygon points="42.05,326.83 37.71,326.45 39.17,323.56" fill="#000"/>
<line x1="32.5" y1="322" x2="32.5" y2="312.4" stroke="#000" stroke-width="1.15"/>
<polygon points="32.5,311 34.12,315.04 30.88,315.04" fill="#000"/>
<text x="22" y="320.6" font-size="7.8" text-anchor="middle" class="ls" font-weight="bold">a</text>
<text x="42" y="323.2" font-size="7.8" text-anchor="middle" class="ls" font-weight="bold">b</text>
<text x="28.3" y="312.2" font-size="7.8" text-anchor="middle" class="ls" font-weight="bold">c</text>
<text x="-0.9" y="181.3" font-size="12.8" class="ls" font-weight="bold">b</text>
</g>
<g id="pd">
<clipPath id="cpd"><rect x="198" y="172" width="193.5" height="172"/></clipPath><g clip-path="url(#cpd)">
<path class="bxd" d="M281.3 275.1L286.2 276.1"/>
<path class="bxd" d="M281.3 270L281.3 275.1"/>
<path class="bxd" d="M286.2 276.1L291.2 277.1"/>
<path class="bxd" d="M281.3 275.1L278.6 279.6"/>
<path class="bxd" d="M291.2 277.1L301.1 279.2"/>
<path class="bxd" d="M281.3 264.9L281.3 270"/>
<path class="bxd" d="M301.1 279.2L310.9 281.2"/>
<path class="bxd" d="M281.3 259.8L281.3 264.9"/>
<path class="bxd" d="M310.9 281.2L315.9 282.2"/>
<path class="bxd" d="M278.6 279.6L275.8 284.1"/>
<path class="bxd" d="M315.9 282.2L325.8 284.3"/>
<path class="bxd" d="M281.3 254.7L281.3 259.8"/>
<path class="bxd" d="M325.8 284.3L335.6 286.3"/>
<path class="bxd" d="M281.3 249.6L281.3 254.7"/>
<path class="bxd" d="M335.6 286.3L340.6 287.3"/>
<path class="bxd" d="M275.8 284.1L273.1 288.6"/>
<path class="bxd" d="M340.6 287.3L350.5 289.4"/>
<path class="bxd" d="M281.3 244.5L281.3 249.6"/>
<path class="bxd" d="M350.5 289.4L360.4 291.4"/>
<path class="bxd" d="M281.3 239.4L281.3 244.5"/>
<path class="bxd" d="M360.4 291.4L365.3 292.4"/>
<path class="bxd" d="M273.1 288.6L270.4 293.1"/>
<path class="bxd" d="M365.3 292.4L375.2 294.4"/>
<path class="bxd" d="M281.3 234.3L281.3 239.4"/>
<path class="bxd" d="M375.2 294.4L385.1 296.5"/>
<path class="bxd" d="M281.3 229.2L281.3 234.3"/>
<path class="bxd" d="M270.4 293.1L267.6 297.5"/>
<path class="bxd" d="M385.1 296.5L390 297.5"/>
<path class="bxd" d="M390 292.4L390 297.5"/>
<path class="bxd" d="M281.3 224L281.3 229.2"/>
<path class="bxd" d="M390 297.5L387.3 302"/>
<path class="bxd" d="M390 287.3L390 292.4"/>
<path class="bxd" d="M267.6 297.5L264.9 302"/>
<path class="bxd" d="M281.3 218.9L281.3 224"/>
<path class="bxd" d="M390 282.2L390 287.3"/>
<path class="bxd" d="M281.3 213.8L281.3 218.9"/>
<path class="bxd" d="M387.3 302L384.5 306.5"/>
<path class="bxd" d="M390 277.1L390 282.2"/>
<path class="bxd" d="M264.9 302L262.1 306.5"/>
<path class="bxd" d="M281.3 208.7L281.3 213.8"/>
<path class="bxd" d="M390 272L390 277.1"/>
<path class="bxd" d="M384.5 306.5L381.8 311"/>
<path class="bxd" d="M281.3 203.6L281.3 208.7"/>
<path class="bxd" d="M262.1 306.5L259.4 311"/>
<path class="bxd" d="M390 266.9L390 272"/>
<path class="bxd" d="M281.3 198.5L281.3 203.6"/>
<path class="bxd" d="M390 261.8L390 266.9"/>
<path class="bxd" d="M259.4 311L264.3 312"/>
<path class="bxd" d="M381.8 311L379.1 315.4"/>
<path class="bxd" d="M281.3 193.4L281.3 198.5"/>
<path class="bxd" d="M259.4 305.9L259.4 311"/>
<path class="bxd" d="M264.3 312L274.2 314.1"/>
<path class="bxd" d="M390 256.7L390 261.8"/>
<path class="bxd" d="M281.3 188.3L281.3 193.4"/>
<path class="bxd" d="M274.2 314.1L279.2 315.1"/>
<path class="bxd" d="M259.4 300.8L259.4 305.9"/>
<path class="bxd" d="M279.2 315.1L284.1 316.1"/>
<path class="bxd" d="M390 251.6L390 256.7"/>
<path class="bxd" d="M379.1 315.4L376.3 319.9"/>
<path class="bxd" d="M284.1 316.1L289 317.1"/>
<path class="bxd" d="M281.3 183.2L281.3 188.3"/>
<path class="bxd" d="M259.4 295.7L259.4 300.8"/>
<path class="bxd" d="M289 317.1L298.9 319.1"/>
<path class="bxd" d="M390 246.4L390 251.6"/>
<path class="bxd" d="M281.3 178.1L281.3 183.2"/>
<path class="bxd" d="M298.9 319.1L303.9 320.2"/>
<path class="bxd" d="M259.4 290.6L259.4 295.7"/>
<path class="bxd" d="M303.9 320.2L308.8 321.2"/>
<path class="bxd" d="M376.3 319.9L373.6 324.4"/>
<path class="bxd" d="M281.3 178.1L286.2 179.1"/>
<path class="bxd" d="M390 241.3L390 246.4"/>
<path class="bxd" d="M308.8 321.2L313.8 322.2"/>
<path class="bxd" d="M286.2 179.1L291.2 180.1"/>
<path class="bxd" d="M259.4 285.5L259.4 290.6"/>
<path class="bxd" d="M313.8 322.2L318.7 323.2"/>
<path class="bxd" d="M281.3 178.1L278.6 182.6"/>
<path class="bxd" d="M291.2 180.1L296.1 181.2"/>
<path class="bxd" d="M318.7 323.2L323.6 324.2"/>
<path class="d2a" d="M279 253.6L273.2 252.6"/>
<path class="d2ah" d="M279 253.6L273.2 252.6"/>
<path class="bxd" d="M390 236.2L390 241.3"/>
<path class="bxd" d="M296.1 181.2L301.1 182.2"/>
<path class="d6" d="M273.5 247.3L273.5 253"/>
<path class="d6h" d="M273.5 247.3L273.5 253"/>
<path class="d3b" d="M278.4 250.4L273.2 252.8"/>
<path class="d3bh" d="M278.4 250.4L273.2 252.8"/>
<path class="d4a" d="M273.2 252.5L277.8 255.6"/>
<path class="d2c" d="M268.4 255.1L273.8 252.6"/>
<path class="d2ch" d="M268.4 255.1L273.8 252.6"/>
<path class="bxd" d="M323.6 324.2L328.6 325.3"/>
<path class="bxd" d="M259.4 280.4L259.4 285.5"/>
<path class="d2a" d="M284.2 254.5L278.3 253.5"/>
<path class="d2ah" d="M284.2 254.5L278.3 253.5"/>
<path class="bxd" d="M301.1 182.2L306 183.2"/>
<path class="d3c" d="M268.4 250.9L273.8 252.8"/>
<path class="d3ch" d="M268.4 250.9L273.8 252.8"/>
<path class="bxd" d="M328.6 325.3L333.5 326.3"/>
<path class="bxd" d="M373.6 324.4L370.8 328.9"/>
<path class="d2a" d="M289.4 255.4L283.5 254.4"/>
<path class="d2ah" d="M289.4 255.4L283.5 254.4"/>
<path class="bxd" d="M306 183.2L310.9 184.2"/>
<path class="bxd" d="M390 231.1L390 236.2"/>
<path class="bxd" d="M333.5 326.3L338.5 327.3"/>
<circle cx="273.5" cy="252.7" r="4.71" fill="url(#gm1)"/>
<path class="d6" d="M273.5 242.3L273.5 248"/>
<path class="d6h" d="M273.5 242.3L273.5 248"/>
<path class="d3b" d="M282.9 248.3L277.7 250.7"/>
<path class="d3bh" d="M282.9 248.3L277.7 250.7"/>
<path class="d4a" d="M277.2 255.2L281.8 258.2"/>
<path class="d2c" d="M263.6 257.3L269 254.8"/>
<path class="d2ch" d="M263.6 257.3L269 254.8"/>
<path class="bxd" d="M310.9 184.2L315.9 185.2"/>
<path class="d2a" d="M294.6 256.3L288.7 255.3"/>
<path class="d2ah" d="M294.6 256.3L288.7 255.3"/>
<path class="bxd" d="M259.4 275.3L259.4 280.4"/>
<path class="bxd" d="M338.5 327.3L343.4 328.3"/>
<path class="bxd" d="M278.6 182.6L275.8 187.1"/>
<path class="bxd" d="M315.9 185.2L320.8 186.2"/>
<path class="bxd" d="M343.4 328.3L348.3 329.3"/>
<path class="d2a" d="M299.8 257.2L293.9 256.2"/>
<path class="d2ah" d="M299.8 257.2L293.9 256.2"/>
<path class="bxd" d="M390 226L390 231.1"/>
<path class="d6" d="M273.5 237.3L273.5 243"/>
<path class="d6h" d="M273.5 237.3L273.5 243"/>
<path class="bxd" d="M320.8 186.2L325.8 187.3"/>
<path class="d3b" d="M287.4 246.2L282.3 248.6"/>
<path class="d3bh" d="M287.4 246.2L282.3 248.6"/>
<path class="bxd" d="M348.3 329.3L353.3 330.3"/>
<path class="d2a" d="M305 258.1L299.1 257.1"/>
<path class="d2ah" d="M305 258.1L299.1 257.1"/>
<path class="d4a" d="M281.2 257.8L285.8 260.9"/>
<path class="bxd" d="M259.4 270.2L259.4 275.3"/>
<path class="d2c" d="M258.8 259.5L264.3 257"/>
<path class="d2ch" d="M258.8 259.5L264.3 257"/>
<path class="d3c" d="M263.6 249.3L269 251.2"/>
<path class="d3ch" d="M263.6 249.3L269 251.2"/>
<path class="bxd" d="M325.8 187.3L330.7 188.3"/>
<path class="bxd" d="M353.3 330.3L358.2 331.4"/>
<path class="bxd" d="M370.8 328.9L368.1 333.4"/>
<path class="d2a" d="M310.1 259L304.3 258"/>
<path class="d2ah" d="M310.1 259L304.3 258"/>
<path class="bxd" d="M330.7 188.3L335.6 189.3"/>
<path class="bxd" d="M390 220.9L390 226"/>
<path class="bxd" d="M358.2 331.4L363.2 332.4"/>
<path class="d6" d="M273.5 232.3L273.5 238"/>
<path class="d6h" d="M273.5 232.3L273.5 238"/>
<path class="d3b" d="M292 244.1L286.8 246.5"/>
<path class="d3bh" d="M292 244.1L286.8 246.5"/>
<path class="d4a" d="M304.5 259.5L310.1 258.9"/>
<path class="bxd" d="M335.6 189.3L340.6 190.3"/>
<path class="bxd" d="M259.4 265.1L259.4 270.2"/>
<path class="bxd" d="M363.2 332.4L368.1 333.4"/>
<path class="d4a" d="M299.5 260L305.1 259.4"/>
<path class="bxd" d="M275.8 187.1L273.1 191.6"/>
<path class="d4a" d="M285.2 260.5L289.8 263.5"/>
<path class="d2c" d="M254 261.7L259.5 259.2"/>
<path class="d2ch" d="M254 261.7L259.5 259.2"/>
<path class="d1" d="M309.8 253.9L309.8 259.3"/>
<path class="j1h" d="M309.8 253.9L309.8 259.3"/>
<path class="d4a" d="M309.5 258.7L314.1 261.8"/>
<path class="d4a" d="M294.5 260.6L300.1 260"/>
<path class="bxd" d="M340.6 190.3L345.5 191.3"/>
<path class="d2b" d="M309.7 258.6L311.5 263.9"/>
<path class="d2bh" d="M309.7 258.6L311.5 263.9"/>
<path class="d4a" d="M289.5 261.1L295.1 260.5"/>
<path class="bxd" d="M390 215.8L390 220.9"/>
<path class="d6" d="M273.5 227.2L273.5 233"/>
<path class="d6h" d="M273.5 227.2L273.5 233"/>
<path class="bxd" d="M345.5 191.3L350.5 192.4"/>
<path class="d3b" d="M296.5 241.9L291.3 244.3"/>
<path class="d3bh" d="M296.5 241.9L291.3 244.3"/>
<path class="bxd" d="M368.1 328.3L368.1 333.4"/>
<path class="d4a" d="M284.5 261.7L290.1 261"/>
<path class="d3c" d="M258.8 247.6L264.3 249.5"/>
<path class="d3ch" d="M258.8 247.6L264.3 249.5"/>
<path class="bxd" d="M259.4 259.9L259.4 265.1"/>
<path class="d4a" d="M279.5 262.2L285.1 261.6"/>
<path class="d1" d="M309.8 249.3L309.8 254.6"/>
<path class="j1h" d="M309.8 249.3L309.8 254.6"/>
<path class="bxd" d="M350.5 192.4L355.4 193.4"/>
<circle cx="309.8" cy="258.9" r="4.83" fill="url(#gm1)"/>
<path class="d4a" d="M289.2 263.2L293.8 266.2"/>
<path class="d2c" d="M249.3 263.9L254.7 261.4"/>
<path class="d2ch" d="M249.3 263.9L254.7 261.4"/>
<path class="d4a" d="M274.5 262.8L280.1 262.1"/>
<path class="d4a" d="M313.5 261.4L318 264.5"/>
<path class="bxd" d="M355.4 193.4L360.4 194.4"/>
<path class="d4a" d="M269.5 263.3L275.1 262.7"/>
<path class="bxd" d="M390 210.7L390 215.8"/>
<path class="d6" d="M273.5 222.2L273.5 227.9"/>
<path class="d6h" d="M273.5 222.2L273.5 227.9"/>
<path class="d3b" d="M301 239.8L295.9 242.2"/>
<path class="d3bh" d="M301 239.8L295.9 242.2"/>
<path class="bxd" d="M368.1 323.2L368.1 328.3"/>
<path class="d4a" d="M264.5 263.9L270.1 263.2"/>
<path class="bxd" d="M360.4 194.4L365.3 195.4"/>
<path class="bxd" d="M273.1 191.6L270.4 196.1"/>
<path class="d1" d="M309.8 244.6L309.8 250"/>
<path class="j1h" d="M309.8 244.6L309.8 250"/>
<path class="bxd" d="M259.4 254.8L259.4 259.9"/>
<path class="d4a" d="M259.5 264.4L265.1 263.8"/>
<path class="d4a" d="M293.2 265.8L297.8 268.9"/>
<path class="d2b" d="M311.2 263.2L313 268.5"/>
<path class="d2bh" d="M311.2 263.2L313 268.5"/>
<path class="d4a" d="M254.5 264.9L260.1 264.3"/>
<path class="bxd" d="M365.3 195.4L370.2 196.4"/>
<path class="d2c" d="M244.5 266.1L249.9 263.6"/>
<path class="d2ch" d="M244.5 266.1L249.9 263.6"/>
<path class="d4a" d="M317.4 264.1L322 267.2"/>
<path class="d4a" d="M249.5 265.5L255.1 264.9"/>
<path class="bxd" d="M390 205.6L390 210.7"/>
<path class="d6" d="M273.5 217.2L273.5 222.9"/>
<path class="d6h" d="M273.5 217.2L273.5 222.9"/>
<path class="bxd" d="M370.2 196.4L375.2 197.4"/>
<path class="d3b" d="M305.6 237.7L300.4 240.1"/>
<path class="d3bh" d="M305.6 237.7L300.4 240.1"/>
<path class="bxd" d="M368.1 318.1L368.1 323.2"/>
<path class="d4a" d="M244.5 266L250.1 265.4"/>
<path class="d3c" d="M254 246L259.5 247.9"/>
<path class="d3ch" d="M254 246L259.5 247.9"/>
<path class="d1" d="M309.8 240L309.8 245.3"/>
<path class="j1h" d="M309.8 240L309.8 245.3"/>
<path class="bxd" d="M259.4 249.7L259.4 254.8"/>
<path class="bxd" d="M375.2 197.4L380.1 198.5"/>
<path class="d1" d="M244.8 261L244.8 266.4"/>
<path class="j1h" d="M244.8 261L244.8 266.4"/>
<path class="d4a" d="M297.2 268.5L301.8 271.5"/>
<path class="d4a" d="M244.5 265.8L249.1 268.9"/>
<path class="d4a" d="M321.4 266.8L325.9 269.9"/>
<path class="bxd" d="M380.1 198.5L385.1 199.5"/>
<path class="bxd" d="M390 200.5L390 205.6"/>
<path class="d6" d="M273.5 212.2L273.5 217.9"/>
<path class="d6h" d="M273.5 212.2L273.5 217.9"/>
<path class="d2b" d="M244.7 265.7L246.4 271.1"/>
<path class="d2bh" d="M244.7 265.7L246.4 271.1"/>
<path class="d3b" d="M310.1 235.6L304.9 238"/>
<path class="d3bh" d="M310.1 235.6L304.9 238"/>
<path class="bxd" d="M368.1 313L368.1 318.1"/>
<path class="d1" d="M309.8 235.4L309.8 240.7"/>
<path class="j1h" d="M309.8 235.4L309.8 240.7"/>
<path class="bxd" d="M270.4 196.1L267.6 200.5"/>
<path class="bxd" d="M385.1 199.5L390 200.5"/>
<path class="d2b" d="M312.8 267.8L314.5 273.1"/>
<path class="d2bh" d="M312.8 267.8L314.5 273.1"/>
<path class="bxd" d="M259.4 244.6L259.4 249.7"/>
<path class="d1" d="M244.8 256.4L244.8 261.7"/>
<path class="j1h" d="M244.8 256.4L244.8 261.7"/>
<path class="d3b" d="M310.1 235.9L305.9 232.1"/>
<path class="d3bh" d="M310.1 235.9L305.9 232.1"/>
<circle cx="244.8" cy="266" r="4.95" fill="url(#gm1)"/>
<path class="d4b" d="M304.5 236.3L310.1 235.7"/>
<path class="d4a" d="M301.2 271.2L305.8 274.2"/>
<path class="d3a" d="M309.7 235.4L310.7 241.2"/>
<path class="d3ah" d="M309.7 235.4L310.7 241.2"/>
<path class="d3b" d="M306.4 232.6L302.3 228.8"/>
<path class="d3bh" d="M306.4 232.6L302.3 228.8"/>
<path class="d4a" d="M248.5 268.5L253.1 271.5"/>
<path class="d4a" d="M325.4 269.5L329.9 272.6"/>
<path class="d4b" d="M299.5 236.8L305.1 236.2"/>
<path class="d6" d="M273.5 207.2L273.5 212.9"/>
<path class="d6h" d="M273.5 207.2L273.5 212.9"/>
<path class="d3c" d="M249.3 244.3L254.7 246.2"/>
<path class="d3ch" d="M249.3 244.3L254.7 246.2"/>
<path class="d3b" d="M302.8 229.3L298.7 225.5"/>
<path class="d3bh" d="M302.8 229.3L298.7 225.5"/>
<path class="d1" d="M309.8 230.5L309.8 236.1"/>
<path class="j1h" d="M309.8 230.5L309.8 236.1"/>
<path class="bxd" d="M368.1 307.9L368.1 313"/>
<path class="d4b" d="M309.5 235.5L314.5 238.8"/>
<path class="d4b" d="M294.5 237.4L300.1 236.8"/>
<path class="d3b" d="M299.2 226L295 222.2"/>
<path class="d3bh" d="M299.2 226L295 222.2"/>
<path class="d3a" d="M310.6 240.5L311.6 246.3"/>
<path class="d3ah" d="M310.6 240.5L311.6 246.3"/>
<path class="bxd" d="M259.4 239.5L259.4 244.6"/>
<path class="bxd" d="M390 200.5L387.3 205"/>
<path class="d3b" d="M295.5 222.7L291.4 218.9"/>
<path class="d3bh" d="M295.5 222.7L291.4 218.9"/>
<path class="d4b" d="M289.5 237.9L295.1 237.3"/>
<path class="d1" d="M244.8 251.7L244.8 257.1"/>
<path class="j1h" d="M244.8 251.7L244.8 257.1"/>
<path class="d3b" d="M291.9 219.3L287.8 215.5"/>
<path class="d3bh" d="M291.9 219.3L287.8 215.5"/>
<path class="d4a" d="M377.6 275.8L383.3 275.2"/>
<path class="d4b" d="M284.5 238.5L290.1 237.8"/>
<path class="d3a" d="M311.5 245.6L312.4 251.5"/>
<path class="d3ah" d="M311.5 245.6L312.4 251.5"/>
<path class="d2b" d="M246.2 270.4L248 275.9"/>
<path class="d2bh" d="M246.2 270.4L248 275.9"/>
<path class="d3b" d="M288.3 216L284.1 212.2"/>
<path class="d3bh" d="M288.3 216L284.1 212.2"/>
<path class="d4a" d="M305.2 273.8L309.8 276.9"/>
<path class="d4a" d="M372.6 276.3L378.3 275.7"/>
<path class="d4b" d="M279.5 239L285.1 238.4"/>
<path class="d6" d="M273.5 202.2L273.5 207.9"/>
<path class="d6h" d="M273.5 202.2L273.5 207.9"/>
<path class="d4a" d="M252.5 271.2L257.1 274.2"/>
<path class="d4a" d="M329.3 272.2L333.9 275.4"/>
<path class="d3b" d="M284.6 212.7L280.5 208.9"/>
<path class="d3bh" d="M284.6 212.7L280.5 208.9"/>
<path class="d2c" d="M378.5 277.3L383.3 275.1"/>
<path class="d2ch" d="M378.5 277.3L383.3 275.1"/>
<path class="d1" d="M309.8 225.6L309.8 231.2"/>
<path class="j1h" d="M309.8 225.6L309.8 231.2"/>
<path class="d2b" d="M314.3 272.4L316.1 277.7"/>
<path class="d2bh" d="M314.3 272.4L316.1 277.7"/>
<circle cx="309.8" cy="235.7" r="4.45" fill="url(#gm2)"/>
<path class="d6" d="M383 269.9L383 275.6"/>
<path class="d6h" d="M383 269.9L383 275.6"/>
<path class="bxd" d="M368.1 302.8L368.1 307.9"/>
<path class="bxd" d="M267.6 200.5L264.9 205"/>
<path class="d4a" d="M367.5 276.8L373.3 276.2"/>
<path class="d3a" d="M312.3 250.8L313.3 256.6"/>
<path class="d3ah" d="M312.3 250.8L313.3 256.6"/>
<path class="d3b" d="M281 209.4L276.9 205.6"/>
<path class="d3bh" d="M281 209.4L276.9 205.6"/>
<path class="d4b" d="M274.5 239.6L280.1 238.9"/>
<path class="bxd" d="M259.4 234.4L259.4 239.5"/>
<path class="d3b" d="M277.4 206.1L273.2 202.3"/>
<path class="d3bh" d="M277.4 206.1L273.2 202.3"/>
<path class="d4b" d="M313.9 238.4L318.8 241.7"/>
<path class="d4a" d="M362.5 277.3L368.2 276.7"/>
<path class="d1" d="M244.8 247.1L244.8 252.4"/>
<path class="j1h" d="M244.8 247.1L244.8 252.4"/>
<path class="d4b" d="M269.5 240.1L275.1 239.5"/>
<path class="d3c" d="M377.7 273.4L383.3 275.3"/>
<path class="d3ch" d="M377.7 273.4L383.3 275.3"/>
<path class="d3a" d="M270.4 206.8L273.7 202.2"/>
<path class="d3ah" d="M270.4 206.8L273.7 202.2"/>
<path class="d3a" d="M313.2 255.9L314.1 261.8"/>
<path class="d3ah" d="M313.2 255.9L314.1 261.8"/>
<path class="d4a" d="M357.5 277.9L363.2 277.3"/>
<path class="d3a" d="M267.6 210.8L270.8 206.2"/>
<path class="d3ah" d="M267.6 210.8L270.8 206.2"/>
<path class="d2a" d="M279 203.8L273.2 202.4"/>
<path class="d2ah" d="M279 203.8L273.2 202.4"/>
<path class="d4b" d="M264.5 240.7L270.1 240"/>
<path class="d3a" d="M264.7 214.9L268 210.3"/>
<path class="d3ah" d="M264.7 214.9L268 210.3"/>
<path class="d4a" d="M352.4 278.4L358.2 277.8"/>
<path class="d3c" d="M244.5 242.7L249.9 244.6"/>
<path class="d3ch" d="M244.5 242.7L249.9 244.6"/>
<path class="d2b" d="M269.1 204.9L273.8 202.3"/>
<path class="d2bh" d="M269.1 204.9L273.8 202.3"/>
<path class="d3a" d="M261.8 218.9L265.1 214.3"/>
<path class="d3ah" d="M261.8 218.9L265.1 214.3"/>
<path class="d2c" d="M374.2 279.2L379.1 277"/>
<path class="d2ch" d="M374.2 279.2L379.1 277"/>
<path class="d4b" d="M259.5 241.2L265.1 240.6"/>
<path class="d4a" d="M309.2 276.5L313.8 279.5"/>
<path class="d1" d="M309.8 220.7L309.8 226.3"/>
<path class="j1h" d="M309.8 220.7L309.8 226.3"/>
<path class="d4a" d="M273.2 202.3L277.8 205.4"/>
<path class="d6" d="M383 265L383 270.6"/>
<path class="d6h" d="M383 265L383 270.6"/>
<circle cx="383" cy="275.2" r="5.03" fill="url(#gm1)"/>
<path class="d4a" d="M333.3 275L337.8 278.1"/>
<path class="d3a" d="M314 261.1L315 266.9"/>
<path class="d3ah" d="M314 261.1L315 266.9"/>
<path class="d3a" d="M258.9 222.9L262.2 218.3"/>
<path class="d3ah" d="M258.9 222.9L262.2 218.3"/>
<path class="d4a" d="M256.6 273.8L261.2 276.9"/>
<path class="d2a" d="M284.2 205.1L278.3 203.7"/>
<path class="d2ah" d="M284.2 205.1L278.3 203.7"/>
<path class="d4a" d="M347.4 278.9L353.1 278.3"/>
<path class="bxd" d="M368.1 297.7L368.1 302.8"/>
<path class="d4b" d="M254.5 241.7L260.1 241.1"/>
<path class="d3a" d="M256.1 227L259.4 222.4"/>
<path class="d3ah" d="M256.1 227L259.4 222.4"/>
<path class="bxd" d="M387.3 205L384.5 209.5"/>
<path class="d3a" d="M253.2 231L256.5 226.4"/>
<path class="d3ah" d="M253.2 231L256.5 226.4"/>
<path class="d4a" d="M342.3 279.4L348.1 278.8"/>
<path class="d1" d="M244.8 242.5L244.8 247.8"/>
<path class="j1h" d="M244.8 242.5L244.8 247.8"/>
<path class="bxd" d="M259.4 229.3L259.4 234.4"/>
<path class="d2b" d="M247.8 275.2L249.5 280.6"/>
<path class="d2bh" d="M247.8 275.2L249.5 280.6"/>
<path class="d4b" d="M249.5 242.3L255.1 241.7"/>
<path class="d3a" d="M250.3 235L253.6 230.4"/>
<path class="d3ah" d="M250.3 235L253.6 230.4"/>
<path class="d2a" d="M289.4 206.4L283.5 204.9"/>
<path class="d2ah" d="M289.4 206.4L283.5 204.9"/>
<path class="d3a" d="M314.9 266.2L315.8 272.1"/>
<path class="d3ah" d="M314.9 266.2L315.8 272.1"/>
<path class="d4a" d="M337.3 279.9L343 279.3"/>
<path class="d4b" d="M318.2 241.3L323.2 244.7"/>
<path class="d3a" d="M247.5 239.1L250.7 234.5"/>
<path class="d3ah" d="M247.5 239.1L250.7 234.5"/>
<path class="d4b" d="M244.5 242.8L250.1 242.2"/>
<path class="d3a" d="M244.6 243.1L247.9 238.5"/>
<path class="d3ah" d="M244.6 243.1L247.9 238.5"/>
<path class="d2b" d="M315.8 277L317.6 282.3"/>
<path class="d2bh" d="M315.8 277L317.6 282.3"/>
<path class="d2b" d="M265 207.2L269.7 204.6"/>
<path class="d2bh" d="M265 207.2L269.7 204.6"/>
<path class="d4a" d="M332.3 280.5L338 279.9"/>
<path class="d2c" d="M370 281.1L374.9 278.9"/>
<path class="d2ch" d="M370 281.1L374.9 278.9"/>
<circle cx="273.5" cy="202.5" r="5.07" fill="url(#gm1)"/>
<path class="d2a" d="M294.6 207.6L288.7 206.2"/>
<path class="d2ah" d="M294.6 207.6L288.7 206.2"/>
<path class="d1" d="M309.8 215.8L309.8 221.4"/>
<path class="j1h" d="M309.8 215.8L309.8 221.4"/>
<path class="d3a" d="M315.7 271.4L316.7 277.2"/>
<path class="d3ah" d="M315.7 271.4L316.7 277.2"/>
<path class="d6" d="M383 260.1L383 265.7"/>
<path class="d6h" d="M383 260.1L383 265.7"/>
<path class="d3a" d="M244.7 242.5L245.6 247.8"/>
<path class="d3ah" d="M244.7 242.5L245.6 247.8"/>
<path class="bxd" d="M264.9 205L262.1 209.5"/>
<path class="d4a" d="M327.2 281L333 280.4"/>
<path class="d3c" d="M309.5 235.9L314 233.7"/>
<path class="d3ch" d="M309.5 235.9L314 233.7"/>
<path class="d4a" d="M313.2 279.1L317.8 282.2"/>
<path class="d4a" d="M277.2 205L281.8 208.1"/>
<path class="bxd" d="M368.1 292.6L368.1 297.7"/>
<path class="d4a" d="M337.3 277.7L341.8 280.8"/>
<path class="d4a" d="M260.6 276.5L265.2 279.6"/>
<path class="d4a" d="M322.2 281.5L327.9 280.9"/>
<path class="d1" d="M244.8 237.6L244.8 243.2"/>
<path class="j1h" d="M244.8 237.6L244.8 243.2"/>
<path class="d3c" d="M372.8 271.7L378.4 273.6"/>
<path class="d3ch" d="M372.8 271.7L378.4 273.6"/>
<path class="d2a" d="M299.8 208.9L293.9 207.4"/>
<path class="d2ah" d="M299.8 208.9L293.9 207.4"/>
<path class="d4b" d="M244.5 242.6L249.1 245.7"/>
<path class="bxd" d="M259.4 224.2L259.4 229.3"/>
<path class="d3a" d="M245.5 247.2L246.4 252.5"/>
<path class="d3ah" d="M245.5 247.2L246.4 252.5"/>
<path class="d3a" d="M316.6 276.5L317.6 282.3"/>
<path class="d3ah" d="M316.6 276.5L317.6 282.3"/>
<path class="d4a" d="M317.2 282L322.9 281.4"/>
<path class="d2b" d="M260.9 209.5L265.6 206.9"/>
<path class="d2bh" d="M260.9 209.5L265.6 206.9"/>
<path class="d4a" d="M312.2 282.6L317.8 282"/>
<path class="d2c" d="M365.8 283.1L370.6 280.8"/>
<path class="d2ch" d="M365.8 283.1L370.6 280.8"/>
<path class="d3a" d="M246.3 251.9L247.2 257.2"/>
<path class="d3ah" d="M246.3 251.9L247.2 257.2"/>
<path class="d2a" d="M305 210.1L299.1 208.7"/>
<path class="d2ah" d="M305 210.1L299.1 208.7"/>
<path class="d4b" d="M322.6 244.3L327.5 247.6"/>
<path class="d2a" d="M323 283L317.2 281.9"/>
<path class="d2ah" d="M323 283L317.2 281.9"/>
<path class="d1" d="M309.8 211L309.8 216.5"/>
<path class="j1h" d="M309.8 211L309.8 216.5"/>
<path class="d6" d="M383 255.2L383 260.8"/>
<path class="d6h" d="M383 255.2L383 260.8"/>
<path class="d4a" d="M307.2 283.2L312.8 282.6"/>
<path class="d2b" d="M249.3 279.9L251.1 285.4"/>
<path class="d2bh" d="M249.3 279.9L251.1 285.4"/>
<path class="d6" d="M317.5 276.6L317.5 282.4"/>
<path class="d6h" d="M317.5 276.6L317.5 282.4"/>
<path class="bxd" d="M368.1 287.5L368.1 292.6"/>
<path class="d3b" d="M322.3 279.7L317.2 282.2"/>
<path class="d3bh" d="M322.3 279.7L317.2 282.2"/>
<path class="d3a" d="M247.1 256.6L247.9 261.9"/>
<path class="d3ah" d="M247.1 256.6L247.9 261.9"/>
<path class="d4a" d="M317.2 281.8L321.7 284.9"/>
<path class="d2c" d="M312.4 284.4L317.8 281.9"/>
<path class="d2ch" d="M312.4 284.4L317.8 281.9"/>
<path class="d2a" d="M310.1 211.4L304.3 210"/>
<path class="d2ah" d="M310.1 211.4L304.3 210"/>
<path class="d4a" d="M281.2 207.7L285.8 210.7"/>
<path class="d4a" d="M302.2 283.8L307.8 283.2"/>
<path class="bxd" d="M384.5 209.5L381.8 214"/>
<path class="d4a" d="M341.2 280.4L345.8 283.5"/>
<path class="d1" d="M244.8 232.7L244.8 238.3"/>
<path class="j1h" d="M244.8 232.7L244.8 238.3"/>
<path class="d4a" d="M264.6 279.2L269.2 282.2"/>
<circle cx="244.8" cy="242.8" r="4.56" fill="url(#gm2)"/>
<path class="d2a" d="M328.1 284L322.3 282.9"/>
<path class="d2ah" d="M328.1 284L322.3 282.9"/>
<path class="bxd" d="M259.4 219.1L259.4 224.2"/>
<path class="d4a" d="M297.2 284.4L302.8 283.8"/>
<path class="d4b" d="M248.5 245.3L253.1 248.3"/>
<path class="d3a" d="M247.8 261.3L248.7 266.6"/>
<path class="d3ah" d="M247.8 261.3L248.7 266.6"/>
<path class="d4a" d="M304.5 211.9L310.1 211.3"/>
<path class="d2b" d="M256.8 211.8L261.5 209.1"/>
<path class="d2bh" d="M256.8 211.8L261.5 209.1"/>
<path class="d3c" d="M312.4 280.3L317.8 282.1"/>
<path class="d3ch" d="M312.4 280.3L317.8 282.1"/>
<path class="d4a" d="M292.2 285L297.8 284.4"/>
<path class="d2c" d="M361.5 285L366.4 282.8"/>
<path class="d2ch" d="M361.5 285L366.4 282.8"/>
<path class="d4a" d="M299.5 212.4L305.1 211.8"/>
<path class="d2a" d="M333.2 284.9L327.4 283.9"/>
<path class="d2ah" d="M333.2 284.9L327.4 283.9"/>
<path class="d4a" d="M287.2 285.6L292.8 285"/>
<path class="d3a" d="M248.6 266L249.5 271.3"/>
<path class="d3ah" d="M248.6 266L249.5 271.3"/>
<path class="bxd" d="M262.1 209.5L259.4 214"/>
<path class="d6" d="M383 250.2L383 255.9"/>
<path class="d6h" d="M383 250.2L383 255.9"/>
<path class="d4a" d="M309.5 211.1L314.5 214.4"/>
<path class="d4b" d="M326.9 247.2L331.9 250.5"/>
<path class="d4a" d="M294.5 213L300.1 212.4"/>
<circle cx="317.5" cy="282" r="5.14" fill="url(#gm1)"/>
<path class="d6" d="M317.5 271.6L317.5 277.4"/>
<path class="d6h" d="M317.5 271.6L317.5 277.4"/>
<path class="d4a" d="M282.2 286.2L287.8 285.6"/>
<path class="d3b" d="M326.8 277.6L321.7 280"/>
<path class="d3bh" d="M326.8 277.6L321.7 280"/>
<path class="bxd" d="M368.1 282.3L368.1 287.5"/>
<path class="d3c" d="M367.9 269.9L373.5 271.9"/>
<path class="d3ch" d="M367.9 269.9L373.5 271.9"/>
<path class="d1" d="M244.8 227.8L244.8 233.4"/>
<path class="j1h" d="M244.8 227.8L244.8 233.4"/>
<path class="d4a" d="M289.5 213.5L295.1 212.9"/>
<path class="d3a" d="M249.4 270.7L250.2 276"/>
<path class="d3ah" d="M249.4 270.7L250.2 276"/>
<path class="d4a" d="M321.2 284.5L325.7 287.7"/>
<path class="d2a" d="M338.4 285.9L332.5 284.8"/>
<path class="d2ah" d="M338.4 285.9L332.5 284.8"/>
<path class="d4a" d="M285.2 210.4L289.8 213.4"/>
<path class="d2c" d="M307.7 286.6L313.1 284.1"/>
<path class="d2ch" d="M307.7 286.6L313.1 284.1"/>
<path class="d4a" d="M345.2 283.1L349.7 286.2"/>
<path class="d4a" d="M277.2 286.8L282.8 286.2"/>
<path class="d4a" d="M268.6 281.8L273.2 284.9"/>
<path class="bxd" d="M259.4 214L259.4 219.1"/>
<path class="d2b" d="M252.7 214L257.4 211.4"/>
<path class="d2bh" d="M252.7 214L257.4 211.4"/>
<path class="d4a" d="M284.5 214.1L290.1 213.4"/>
<path class="d2c" d="M309.7 211L311.8 216.8"/>
<path class="d2ch" d="M309.7 211L311.8 216.8"/>
<path class="d4b" d="M252.5 248L257.1 251"/>
<path class="d2c" d="M357.3 286.9L362.2 284.7"/>
<path class="d2ch" d="M357.3 286.9L362.2 284.7"/>
<path class="d4a" d="M272.2 287.4L277.8 286.8"/>
<path class="d3a" d="M250.1 275.4L251 280.7"/>
<path class="d3ah" d="M250.1 275.4L251 280.7"/>
<path class="d2a" d="M343.5 286.8L337.7 285.8"/>
<path class="d2ah" d="M343.5 286.8L337.7 285.8"/>
<path class="d2b" d="M250.9 284.7L252.6 290.1"/>
<path class="d2bh" d="M250.9 284.7L252.6 290.1"/>
<path class="d4a" d="M279.5 214.6L285.1 214"/>
<path class="d4a" d="M267.2 288L272.8 287.4"/>
<circle cx="309.8" cy="211.3" r="5.17" fill="url(#gm1)"/>
<path class="d6" d="M383 245.3L383 250.9"/>
<path class="d6h" d="M383 245.3L383 250.9"/>
<path class="d4a" d="M274.5 215.2L280.1 214.5"/>
<path class="d4a" d="M262.2 288.6L267.8 288"/>
<path class="d3a" d="M250.9 280.1L251.8 285.4"/>
<path class="d3ah" d="M250.9 280.1L251.8 285.4"/>
<path class="bxd" d="M259.4 214L264.3 215"/>
<path class="d6" d="M317.5 266.6L317.5 272.4"/>
<path class="d6h" d="M317.5 266.6L317.5 272.4"/>
<path class="bxd" d="M381.8 214L379.1 218.4"/>
<path class="d3b" d="M331.3 275.4L326.2 277.9"/>
<path class="d3bh" d="M331.3 275.4L326.2 277.9"/>
<path class="bxd" d="M368.1 277.2L368.1 282.3"/>
<path class="d1" d="M244.8 222.9L244.8 228.5"/>
<path class="j1h" d="M244.8 222.9L244.8 228.5"/>
<path class="d4a" d="M313.9 214L318.8 217.3"/>
<path class="d4b" d="M331.3 250.1L336.3 253.4"/>
<path class="d2a" d="M348.6 287.8L342.8 286.7"/>
<path class="d2ah" d="M348.6 287.8L342.8 286.7"/>
<path class="d4a" d="M257.2 289.2L262.8 288.6"/>
<path class="d4a" d="M269.5 215.7L275.1 215.1"/>
<path class="d3c" d="M244.5 243L249 240.5"/>
<path class="d3ch" d="M244.5 243L249 240.5"/>
<path class="d2b" d="M248.6 216.3L253.3 213.7"/>
<path class="d2bh" d="M248.6 216.3L253.3 213.7"/>
<path class="d4a" d="M325.1 287.3L329.7 290.4"/>
<path class="d4a" d="M289.2 213L293.8 216.1"/>
<path class="d4a" d="M349.1 285.8L353.7 288.9"/>
<path class="d2c" d="M302.9 288.8L308.3 286.3"/>
<path class="d2ch" d="M302.9 288.8L308.3 286.3"/>
<path class="d3a" d="M251.7 284.8L252.6 290.1"/>
<path class="d3ah" d="M251.7 284.8L252.6 290.1"/>
<path class="d3c" d="M307.7 278.6L313.1 280.5"/>
<path class="d3ch" d="M307.7 278.6L313.1 280.5"/>
<path class="d4a" d="M272.6 284.5L277.2 287.6"/>
<path class="d2c" d="M353.1 288.8L357.9 286.6"/>
<path class="d2ch" d="M353.1 288.8L357.9 286.6"/>
<path class="bxd" d="M264.3 215L269.3 216"/>
<path class="d4a" d="M252.2 289.8L257.8 289.2"/>
<path class="d4a" d="M264.5 216.3L270.1 215.6"/>
<path class="d4b" d="M256.6 250.6L261.2 253.7"/>
<path class="d2a" d="M353.7 288.8L347.9 287.7"/>
<path class="d2ah" d="M353.7 288.8L347.9 287.7"/>
<path class="d4a" d="M259.5 216.8L265.1 216.2"/>
<path class="d2a" d="M258.1 290.7L252.2 289.7"/>
<path class="d2ah" d="M258.1 290.7L252.2 289.7"/>
<path class="d6" d="M383 240.4L383 246"/>
<path class="d6h" d="M383 240.4L383 246"/>
<path class="bxd" d="M269.3 216L274.2 217.1"/>
<path class="d4a" d="M254.5 217.3L260.1 216.7"/>
<path class="d3c" d="M362.9 268.2L368.5 270.2"/>
<path class="d3ch" d="M362.9 268.2L368.5 270.2"/>
<path class="d4a" d="M348.1 289.3L353.7 288.7"/>
<path class="d6" d="M317.5 261.6L317.5 267.4"/>
<path class="d6h" d="M317.5 261.6L317.5 267.4"/>
<path class="d6" d="M252.5 284.3L252.5 290.2"/>
<path class="d6h" d="M252.5 284.3L252.5 290.2"/>
<path class="d3b" d="M257.4 287.4L252.2 290"/>
<path class="d3bh" d="M257.4 287.4L252.2 290"/>
<path class="d3b" d="M335.8 273.3L330.6 275.7"/>
<path class="d3bh" d="M335.8 273.3L330.6 275.7"/>
<path class="d1" d="M244.8 218.1L244.8 223.6"/>
<path class="j1h" d="M244.8 218.1L244.8 223.6"/>
<path class="bxd" d="M368.1 272.1L368.1 277.2"/>
<path class="d2c" d="M247.2 292.1L252.8 289.7"/>
<path class="d2ch" d="M247.2 292.1L252.8 289.7"/>
<path class="d2b" d="M244.5 218.6L249.2 216"/>
<path class="d2bh" d="M244.5 218.6L249.2 216"/>
<path class="d4a" d="M252.2 289.6L257.1 292.9"/>
<path class="d4a" d="M249.5 217.9L255.1 217.3"/>
<path class="bxd" d="M274.2 217.1L279.2 218.1"/>
<path class="d4a" d="M343.1 289.8L348.8 289.2"/>
<path class="d2a" d="M263.3 291.5L257.4 290.5"/>
<path class="d2ah" d="M263.3 291.5L257.4 290.5"/>
<path class="d1" d="M353.4 283.6L353.4 289.1"/>
<path class="j1h" d="M353.4 283.6L353.4 289.1"/>
<path class="d4a" d="M318.2 216.9L323.2 220.3"/>
<path class="d4b" d="M335.7 253L340.6 256.3"/>
<path class="d4a" d="M329.1 290L333.6 293.1"/>
<path class="d4a" d="M293.2 215.7L297.8 218.8"/>
<path class="d4a" d="M244.5 218.4L250.1 217.8"/>
<path class="d2c" d="M298.2 291.1L303.6 288.6"/>
<path class="d2ch" d="M298.2 291.1L303.6 288.6"/>
<path class="d4a" d="M276.7 287.2L281.3 290.2"/>
<path class="d3c" d="M247.2 288L252.8 289.9"/>
<path class="d3ch" d="M247.2 288L252.8 289.9"/>
<path class="d4a" d="M338.2 290.3L343.8 289.7"/>
<path class="bxd" d="M279.2 218.1L284.1 219.1"/>
<path class="d4b" d="M260.6 253.3L265.2 256.4"/>
<path class="d2b" d="M353.3 288.4L355 293.7"/>
<path class="d2bh" d="M353.3 288.4L355 293.7"/>
<path class="d2c" d="M311.6 216.1L313.8 222"/>
<path class="d2ch" d="M311.6 216.1L313.8 222"/>
<path class="d4a" d="M333.2 290.8L338.9 290.2"/>
<path class="d6" d="M383 235.5L383 241.1"/>
<path class="d6h" d="M383 235.5L383 241.1"/>
<path class="d2a" d="M268.5 292.3L262.6 291.3"/>
<path class="d2ah" d="M268.5 292.3L262.6 291.3"/>
<path class="bxd" d="M379.1 218.4L376.3 222.9"/>
<circle cx="252.5" cy="289.8" r="5.25" fill="url(#gm1)"/>
<path class="d6" d="M317.5 256.6L317.5 262.4"/>
<path class="d6h" d="M317.5 256.6L317.5 262.4"/>
<path class="bxd" d="M284.1 219.1L289 220.1"/>
<path class="d4a" d="M328.3 291.3L333.9 290.7"/>
<path class="d6" d="M252.5 279.2L252.5 285"/>
<path class="d6h" d="M252.5 279.2L252.5 285"/>
<path class="d3b" d="M340.3 271.2L335.1 273.6"/>
<path class="d3bh" d="M340.3 271.2L335.1 273.6"/>
<path class="d3b" d="M261.9 285.2L256.7 287.8"/>
<path class="d3bh" d="M261.9 285.2L256.7 287.8"/>
<path class="bxd" d="M368.1 267L368.1 272.1"/>
<path class="d4a" d="M244.5 218.2L249.1 221.3"/>
<path class="d3c" d="M302.9 277L308.3 278.8"/>
<path class="d3ch" d="M302.9 277L308.3 278.8"/>
<path class="d2c" d="M242.3 294.2L247.9 291.8"/>
<path class="d2ch" d="M242.3 294.2L247.9 291.8"/>
<path class="d1" d="M353.4 278.8L353.4 284.3"/>
<path class="j1h" d="M353.4 278.8L353.4 284.3"/>
<path class="d4a" d="M323.3 291.8L329 291.2"/>
<circle cx="353.4" cy="288.7" r="5.26" fill="url(#gm1)"/>
<path class="d2a" d="M273.7 293.1L267.8 292.1"/>
<path class="d2ah" d="M273.7 293.1L267.8 292.1"/>
<path class="d4a" d="M256.6 292.5L261.5 295.7"/>
<path class="bxd" d="M289 220.1L294 221.1"/>
<path class="d4a" d="M333 292.7L337.6 295.8"/>
<path class="d4a" d="M297.2 218.4L301.8 221.5"/>
<path class="d4a" d="M318.4 292.3L324 291.8"/>
<path class="d2c" d="M293.4 293.3L298.8 290.8"/>
<path class="d2ch" d="M293.4 293.3L298.8 290.8"/>
<path class="d4a" d="M322.6 219.9L327.5 223.2"/>
<path class="d4b" d="M340 255.9L345 259.3"/>
<path class="d4a" d="M280.7 289.9L285.3 292.9"/>
<path class="d2c" d="M244.7 218.1L246.9 223.8"/>
<path class="d2ch" d="M244.7 218.1L246.9 223.8"/>
<path class="d6" d="M383 230.6L383 236.2"/>
<path class="d6h" d="M383 230.6L383 236.2"/>
<path class="d4b" d="M264.6 256L269.2 259"/>
<path class="d4a" d="M313.4 292.9L319.1 292.3"/>
<path class="d3c" d="M358 266.5L363.6 268.4"/>
<path class="d3ch" d="M358 266.5L363.6 268.4"/>
<path class="bxd" d="M294 221.1L298.9 222.1"/>
<path class="d2a" d="M278.9 293.9L273 292.9"/>
<path class="d2ah" d="M278.9 293.9L273 292.9"/>
<path class="d6" d="M317.5 251.7L317.5 257.4"/>
<path class="d6h" d="M317.5 251.7L317.5 257.4"/>
<circle cx="244.8" cy="218.4" r="5.29" fill="url(#gm1)"/>
<path class="d4a" d="M308.5 293.4L314.1 292.8"/>
<path class="d6" d="M252.5 274.1L252.5 279.9"/>
<path class="d6h" d="M252.5 274.1L252.5 279.9"/>
<path class="d3b" d="M344.7 269L339.6 271.5"/>
<path class="d3bh" d="M344.7 269L339.6 271.5"/>
<path class="bxd" d="M368.1 261.9L368.1 267"/>
<path class="d3b" d="M266.5 283L261.3 285.6"/>
<path class="d3bh" d="M266.5 283L261.3 285.6"/>
<path class="d4a" d="M248.5 220.9L253.1 223.9"/>
<path class="d1" d="M353.4 274.1L353.4 279.5"/>
<path class="j1h" d="M353.4 274.1L353.4 279.5"/>
<path class="bxd" d="M298.9 222.1L303.9 223.2"/>
<path class="d4a" d="M303.5 293.9L309.2 293.3"/>
<path class="d3c" d="M242.3 286.3L247.9 288.2"/>
<path class="d3ch" d="M242.3 286.3L247.9 288.2"/>
<path class="d2c" d="M237.3 296.4L242.9 294"/>
<path class="d2ch" d="M237.3 296.4L242.9 294"/>
<path class="d2a" d="M284.1 294.7L278.2 293.7"/>
<path class="d2ah" d="M284.1 294.7L278.2 293.7"/>
<path class="d2b" d="M354.8 293L356.5 298.4"/>
<path class="d2bh" d="M354.8 293L356.5 298.4"/>
<path class="d4a" d="M298.6 294.4L304.2 293.8"/>
<path class="d4a" d="M337 295.4L341.5 298.6"/>
<path class="d4a" d="M301.2 221.1L305.8 224.1"/>
<path class="d4a" d="M260.9 295.3L265.8 298.6"/>
<path class="bxd" d="M303.9 223.2L308.8 224.2"/>
<path class="d2c" d="M288.7 295.5L294.1 293"/>
<path class="d2ch" d="M288.7 295.5L294.1 293"/>
<path class="d4a" d="M284.7 292.5L289.3 295.6"/>
<path class="d6" d="M383 225.7L383 231.3"/>
<path class="d6h" d="M383 225.7L383 231.3"/>
<path class="d4a" d="M326.9 222.8L331.9 226.1"/>
<path class="d4b" d="M344.4 258.9L349.3 262.2"/>
<path class="d4a" d="M293.6 294.9L299.3 294.3"/>
<path class="d4b" d="M268.6 258.6L273.2 261.7"/>
<path class="bxd" d="M376.3 222.9L373.6 227.4"/>
<path class="d2a" d="M289.3 295.5L283.4 294.5"/>
<path class="d2ah" d="M289.3 295.5L283.4 294.5"/>
<path class="d3c" d="M313.3 234L317.8 231.8"/>
<path class="d3ch" d="M313.3 234L317.8 231.8"/>
<path class="d6" d="M317.5 246.7L317.5 252.3"/>
<path class="d6h" d="M317.5 246.7L317.5 252.3"/>
<path class="d2c" d="M313.5 221.3L315.7 227.2"/>
<path class="d2ch" d="M313.5 221.3L315.7 227.2"/>
<path class="bxd" d="M308.8 224.2L313.8 225.2"/>
<path class="d3b" d="M349.2 266.9L344.1 269.3"/>
<path class="d3bh" d="M349.2 266.9L344.1 269.3"/>
<path class="d6" d="M252.5 268.9L252.5 274.8"/>
<path class="d6h" d="M252.5 268.9L252.5 274.8"/>
<path class="d4a" d="M288.7 295.4L294.3 294.8"/>
<path class="bxd" d="M368.1 256.8L368.1 261.9"/>
<path class="d3c" d="M298.2 275.4L303.6 277.2"/>
<path class="d3ch" d="M298.2 275.4L303.6 277.2"/>
<path class="d3b" d="M271.1 280.8L265.9 283.4"/>
<path class="d3bh" d="M271.1 280.8L265.9 283.4"/>
<path class="d1" d="M353.4 269.3L353.4 274.8"/>
<path class="j1h" d="M353.4 269.3L353.4 274.8"/>
<path class="d3a" d="M379.8 230.2L383.2 225.7"/>
<path class="d3ah" d="M379.8 230.2L383.2 225.7"/>
<path class="d4a" d="M252.5 223.6L257.1 226.6"/>
<path class="d4a" d="M283.6 296L289.3 295.4"/>
<path class="d4a" d="M377.6 226.5L383.3 226"/>
<path class="d3a" d="M376.9 234.1L380.3 229.6"/>
<path class="d3ah" d="M376.9 234.1L380.3 229.6"/>
<path class="bxd" d="M313.8 225.2L318.7 226.2"/>
<path class="d3a" d="M373.9 237.9L377.3 233.5"/>
<path class="d3ah" d="M373.9 237.9L377.3 233.5"/>
<path class="d2c" d="M232.4 298.5L238 296.1"/>
<path class="d2ch" d="M232.4 298.5L238 296.1"/>
<path class="d4a" d="M278.5 296.6L284.3 295.9"/>
<path class="d4a" d="M372.6 227L378.3 226.4"/>
<path class="d3c" d="M353.1 264.8L358.7 266.7"/>
<path class="d3ch" d="M353.1 264.8L358.7 266.7"/>
<path class="d2b" d="M378.5 228.2L383.3 225.8"/>
<path class="d2bh" d="M378.5 228.2L383.3 225.8"/>
<path class="d1" d="M289 290.4L289 295.8"/>
<path class="j1h" d="M289 290.4L289 295.8"/>
<path class="d3a" d="M370.9 241.8L374.3 237.4"/>
<path class="d3ah" d="M370.9 241.8L374.3 237.4"/>
<path class="d4a" d="M340.9 298.2L345.5 301.3"/>
<path class="d4a" d="M305.2 223.8L309.8 226.8"/>
<path class="d3a" d="M368 245.7L371.4 241.3"/>
<path class="d3ah" d="M368 245.7L371.4 241.3"/>
<path class="d4a" d="M288.7 295.2L293.6 298.6"/>
<path class="d4a" d="M273.4 297.1L279.2 296.5"/>
<path class="d4a" d="M367.5 227.4L373.3 226.9"/>
<path class="bxd" d="M318.7 226.2L323.6 227.2"/>
<path class="d4a" d="M265.3 298.2L270.2 301.5"/>
<path class="d4b" d="M272.6 261.3L277.2 264.4"/>
<path class="d3a" d="M365 249.6L368.4 245.2"/>
<path class="d3ah" d="M365 249.6L368.4 245.2"/>
<path class="d4a" d="M331.3 225.7L336.3 229"/>
<path class="d4b" d="M348.7 261.8L353.7 265.1"/>
<path class="d6" d="M317.5 241.7L317.5 247.3"/>
<path class="d6h" d="M317.5 241.7L317.5 247.3"/>
<path class="d2c" d="M246.6 223.1L248.8 228.8"/>
<path class="d2ch" d="M246.6 223.1L248.8 228.8"/>
<path class="d3b" d="M353.7 264.7L348.6 267.2"/>
<path class="d3bh" d="M353.7 264.7L348.6 267.2"/>
<path class="d4a" d="M268.3 297.7L274.1 297"/>
<path class="d4a" d="M362.5 227.9L368.2 227.4"/>
<path class="d2b" d="M288.9 295.1L290.5 300.4"/>
<path class="d2bh" d="M288.9 295.1L290.5 300.4"/>
<path class="d6" d="M252.5 263.8L252.5 269.6"/>
<path class="d6h" d="M252.5 263.8L252.5 269.6"/>
<path class="d3a" d="M362.1 253.5L365.5 249.1"/>
<path class="d3ah" d="M362.1 253.5L365.5 249.1"/>
<path class="d1" d="M353.4 264.5L353.4 270"/>
<path class="j1h" d="M353.4 264.5L353.4 270"/>
<path class="bxd" d="M368.1 251.7L368.1 256.8"/>
<path class="d3b" d="M275.6 278.6L270.4 281.2"/>
<path class="d3bh" d="M275.6 278.6L270.4 281.2"/>
<path class="d3a" d="M359.1 257.4L362.5 253"/>
<path class="d3ah" d="M359.1 257.4L362.5 253"/>
<path class="bxd" d="M323.6 227.2L328.6 228.3"/>
<path class="d2b" d="M356.3 297.7L358.1 303"/>
<path class="d2bh" d="M356.3 297.7L358.1 303"/>
<path class="d3c" d="M237.3 284.5L242.9 286.5"/>
<path class="d3ch" d="M237.3 284.5L242.9 286.5"/>
<path class="d4a" d="M263.2 298.2L269 297.6"/>
<path class="d4a" d="M357.5 228.3L363.2 227.8"/>
<path class="d3a" d="M356.1 261.3L359.5 256.8"/>
<path class="d3ah" d="M356.1 261.3L359.5 256.8"/>
<path class="d4a" d="M256.6 226.2L261.2 229.3"/>
<path class="d3a" d="M353.2 265.2L356.6 260.7"/>
<path class="d3ah" d="M353.2 265.2L356.6 260.7"/>
<path class="d2b" d="M374.2 230.3L379.1 227.9"/>
<path class="d2bh" d="M374.2 230.3L379.1 227.9"/>
<path class="d4a" d="M258.1 298.8L263.9 298.2"/>
<path class="d4a" d="M352.4 228.8L358.2 228.3"/>
<path class="d1" d="M289 285.8L289 291.1"/>
<path class="j1h" d="M289 285.8L289 291.1"/>
<path class="bxd" d="M328.6 228.3L333.5 229.3"/>
<path class="d3b" d="M353.7 265.1L349.6 261.4"/>
<path class="d3bh" d="M353.7 265.1L349.6 261.4"/>
<circle cx="289" cy="295.4" r="5.38" fill="url(#gm1)"/>
<circle cx="383" cy="226" r="5.38" fill="url(#gm1)"/>
<path class="d4b" d="M348.1 265.5L353.7 264.9"/>
<path class="d2c" d="M227.4 300.7L233 298.3"/>
<path class="d2ch" d="M227.4 300.7L233 298.3"/>
<path class="d3a" d="M353.3 264.6L354.2 270"/>
<path class="d3ah" d="M353.3 264.6L354.2 270"/>
<path class="bxd" d="M373.6 227.4L370.8 231.9"/>
<path class="d4a" d="M344.9 300.9L349.4 304"/>
<path class="d4a" d="M309.2 226.4L313.8 229.5"/>
<path class="d4a" d="M253 299.4L258.8 298.7"/>
<path class="d4a" d="M347.4 229.3L353.1 228.7"/>
<path class="d3b" d="M350.1 261.8L346 258.1"/>
<path class="d3bh" d="M350.1 261.8L346 258.1"/>
<path class="d4b" d="M343.1 266.1L348.8 265.4"/>
<path class="d6" d="M317.5 236.7L317.5 242.3"/>
<path class="d6h" d="M317.5 236.7L317.5 242.3"/>
<path class="d3c" d="M293.4 273.7L298.8 275.6"/>
<path class="d3ch" d="M293.4 273.7L298.8 275.6"/>
<path class="d3b" d="M346.5 258.6L342.4 254.8"/>
<path class="d3bh" d="M346.5 258.6L342.4 254.8"/>
<path class="bxd" d="M333.5 229.3L338.5 230.3"/>
<path class="d4a" d="M293 298.2L297.9 301.5"/>
<path class="d1" d="M353.4 259.7L353.4 265.2"/>
<path class="j1h" d="M353.4 259.7L353.4 265.2"/>
<path class="d4b" d="M276.7 264L281.3 267"/>
<path class="d4a" d="M247.9 299.9L253.7 299.3"/>
<path class="d4a" d="M342.3 229.7L348.1 229.2"/>
<path class="d4a" d="M269.6 301.1L274.5 304.3"/>
<path class="d6" d="M252.5 258.7L252.5 264.5"/>
<path class="d6h" d="M252.5 258.7L252.5 264.5"/>
<path class="bxd" d="M368.1 246.6L368.1 251.7"/>
<path class="d4a" d="M335.7 228.6L340.6 231.9"/>
<path class="d3a" d="M354.1 269.3L355 274.7"/>
<path class="d3ah" d="M354.1 269.3L355 274.7"/>
<path class="d4b" d="M338.2 266.6L343.8 266"/>
<path class="d3b" d="M280.2 276.4L275 279"/>
<path class="d3bh" d="M280.2 276.4L275 279"/>
<path class="d3b" d="M342.9 255.3L338.8 251.5"/>
<path class="d3bh" d="M342.9 255.3L338.8 251.5"/>
<path class="d2c" d="M315.5 226.5L317.6 232.3"/>
<path class="d2ch" d="M315.5 226.5L317.6 232.3"/>
<path class="d4a" d="M242.8 300.5L248.6 299.9"/>
<path class="d4a" d="M337.3 230.2L343 229.7"/>
<path class="d3b" d="M339.3 252L335.2 248.2"/>
<path class="d3bh" d="M339.3 252L335.2 248.2"/>
<path class="d2b" d="M370 232.4L374.9 230"/>
<path class="d2bh" d="M370 232.4L374.9 230"/>
<path class="d4b" d="M333.2 267.2L338.9 266.5"/>
<path class="bxd" d="M338.5 230.3L343.4 231.3"/>
<path class="d4a" d="M260.6 228.9L265.2 232"/>
<path class="d1" d="M289 281.1L289 286.5"/>
<path class="j1h" d="M289 281.1L289 286.5"/>
<path class="d4a" d="M237.7 301.1L243.5 300.4"/>
<path class="d4a" d="M332.3 230.6L338 230.1"/>
<path class="d3a" d="M354.9 274L355.7 279.4"/>
<path class="d3ah" d="M354.9 274L355.7 279.4"/>
<path class="d3b" d="M335.7 248.7L331.6 244.9"/>
<path class="d3bh" d="M335.7 248.7L331.6 244.9"/>
<path class="d4b" d="M328.3 267.7L333.9 267.1"/>
<path class="d3b" d="M332.1 245.4L328 241.6"/>
<path class="d3bh" d="M332.1 245.4L328 241.6"/>
<path class="d4a" d="M232.6 301.6L238.4 301"/>
<path class="d4a" d="M327.2 231.1L333 230.6"/>
<path class="d2b" d="M290.3 299.7L291.9 305"/>
<path class="d2bh" d="M290.3 299.7L291.9 305"/>
<path class="bxd" d="M343.4 231.3L348.3 232.3"/>
<path class="d2c" d="M222.5 302.8L228.1 300.4"/>
<path class="d2ch" d="M222.5 302.8L228.1 300.4"/>
<path class="d4a" d="M348.8 303.6L353.4 306.7"/>
<path class="d4a" d="M313.2 229.1L317.8 232.2"/>
<path class="d4b" d="M323.3 268.3L329 267.7"/>
<path class="d6" d="M317.5 231.7L317.5 237.3"/>
<path class="d6h" d="M317.5 231.7L317.5 237.3"/>
<path class="d3b" d="M328.5 242.1L324.4 238.3"/>
<path class="d3bh" d="M328.5 242.1L324.4 238.3"/>
<path class="d3a" d="M355.6 278.7L356.5 284.1"/>
<path class="d3ah" d="M355.6 278.7L356.5 284.1"/>
<path class="d2b" d="M357.9 302.3L359.6 307.7"/>
<path class="d2bh" d="M357.9 302.3L359.6 307.7"/>
<path class="d1" d="M353.4 254.8L353.4 260.4"/>
<path class="j1h" d="M353.4 254.8L353.4 260.4"/>
<circle cx="353.4" cy="264.9" r="4.84" fill="url(#gm2)"/>
<path class="d4a" d="M227.5 302.2L233.3 301.5"/>
<path class="d4a" d="M322.2 231.6L327.9 231"/>
<path class="d6" d="M252.5 253.5L252.5 259.4"/>
<path class="d6h" d="M252.5 253.5L252.5 259.4"/>
<path class="bxd" d="M368.1 241.5L368.1 246.6"/>
<path class="d4b" d="M280.7 266.7L285.3 269.7"/>
<path class="d3b" d="M324.9 238.8L320.8 235.1"/>
<path class="d3bh" d="M324.9 238.8L320.8 235.1"/>
<path class="d3c" d="M248.3 240.8L252.8 238.3"/>
<path class="d3ch" d="M248.3 240.8L252.8 238.3"/>
<path class="d4b" d="M318.4 268.9L324 268.2"/>
<path class="d3c" d="M232.4 282.8L238 284.8"/>
<path class="d3ch" d="M232.4 282.8L238 284.8"/>
<path class="bxd" d="M348.3 232.3L353.3 233.3"/>
<path class="d3b" d="M284.8 274.2L279.6 276.8"/>
<path class="d3bh" d="M284.8 274.2L279.6 276.8"/>
<path class="d2c" d="M248.5 228.1L250.7 233.8"/>
<path class="d2ch" d="M248.5 228.1L250.7 233.8"/>
<path class="d4a" d="M297.3 301.1L302.2 304.5"/>
<path class="d2b" d="M365.8 234.4L370.6 232.1"/>
<path class="d2bh" d="M365.8 234.4L370.6 232.1"/>
<path class="d4a" d="M222.5 302.7L228.2 302.1"/>
<path class="d4a" d="M317.2 232L322.9 231.5"/>
<path class="d4a" d="M274 304L278.9 307.2"/>
<path class="d3b" d="M321.3 235.5L317.2 231.8"/>
<path class="d3bh" d="M321.3 235.5L317.2 231.8"/>
<path class="d4a" d="M340 231.5L345 234.9"/>
<path class="d3a" d="M356.4 283.4L357.3 288.8"/>
<path class="d3ah" d="M356.4 283.4L357.3 288.8"/>
<path class="d1" d="M289 276.5L289 281.8"/>
<path class="j1h" d="M289 276.5L289 281.8"/>
<path class="d4b" d="M313.4 269.4L319.1 268.8"/>
<path class="d3a" d="M314.4 236.3L317.7 231.7"/>
<path class="d3ah" d="M314.4 236.3L317.7 231.7"/>
<path class="d4a" d="M312.2 232.5L317.8 232"/>
<path class="d4a" d="M264.6 231.6L269.2 234.6"/>
<path class="d3a" d="M311.6 240.3L314.9 235.7"/>
<path class="d3ah" d="M311.6 240.3L314.9 235.7"/>
<path class="bxd" d="M353.3 233.3L358.2 234.4"/>
<path class="d2a" d="M323 233.3L317.2 231.9"/>
<path class="d2ah" d="M323 233.3L317.2 231.9"/>
<path class="d4b" d="M308.5 270L314.1 269.4"/>
<path class="bxd" d="M370.8 231.9L368.1 236.4"/>
<path class="d3a" d="M308.7 244.3L312 239.8"/>
<path class="d3ah" d="M308.7 244.3L312 239.8"/>
<path class="d3a" d="M357.1 288.1L358 293.5"/>
<path class="d3ah" d="M357.1 288.1L358 293.5"/>
<path class="d4a" d="M307.2 233L312.8 232.5"/>
<path class="d3c" d="M288.7 272.1L294.1 273.9"/>
<path class="d3ch" d="M288.7 272.1L294.1 273.9"/>
<path class="d2b" d="M313.1 234.4L317.8 231.8"/>
<path class="d2bh" d="M313.1 234.4L317.8 231.8"/>
<path class="d1" d="M222.8 297.7L222.8 303.1"/>
<path class="j1h" d="M222.8 297.7L222.8 303.1"/>
<path class="d3a" d="M305.9 248.4L309.2 243.8"/>
<path class="d3ah" d="M305.9 248.4L309.2 243.8"/>
<path class="d4b" d="M303.5 270.6L309.2 269.9"/>
<path class="d4a" d="M352.8 306.3L357.3 309.5"/>
<path class="d1" d="M353.4 249.9L353.4 255.5"/>
<path class="j1h" d="M353.4 249.9L353.4 255.5"/>
<path class="d4a" d="M317.2 231.8L321.7 234.9"/>
<path class="bxd" d="M358.2 234.4L363.2 235.4"/>
<path class="d3a" d="M303 252.4L306.3 247.8"/>
<path class="d3ah" d="M303 252.4L306.3 247.8"/>
<path class="d4a" d="M302.2 233.5L307.8 233"/>
<path class="d2a" d="M328.1 234.5L322.3 233.1"/>
<path class="d2ah" d="M328.1 234.5L322.3 233.1"/>
<path class="d6" d="M252.5 248.4L252.5 254.2"/>
<path class="d6h" d="M252.5 248.4L252.5 254.2"/>
<path class="bxd" d="M368.1 236.4L368.1 241.5"/>
<path class="d4b" d="M298.6 271.1L304.2 270.5"/>
<path class="d2b" d="M361.5 236.5L366.4 234.1"/>
<path class="d2bh" d="M361.5 236.5L366.4 234.1"/>
<path class="d3a" d="M300.2 256.4L303.5 251.8"/>
<path class="d3ah" d="M300.2 256.4L303.5 251.8"/>
<path class="d3a" d="M357.9 292.8L358.8 298.2"/>
<path class="d3ah" d="M357.9 292.8L358.8 298.2"/>
<path class="d4b" d="M284.7 269.3L289.3 272.4"/>
<path class="d3b" d="M289.3 272L284.1 274.6"/>
<path class="d3bh" d="M289.3 272L284.1 274.6"/>
<path class="d4a" d="M297.2 234L302.8 233.5"/>
<path class="d3a" d="M297.3 260.4L300.6 255.8"/>
<path class="d3ah" d="M297.3 260.4L300.6 255.8"/>
<path class="d1" d="M289 271.8L289 277.2"/>
<path class="j1h" d="M289 271.8L289 277.2"/>
<path class="d4b" d="M293.6 271.7L299.3 271"/>
<path class="bxd" d="M363.2 235.4L368.1 236.4"/>
<path class="d3a" d="M294.5 264.4L297.8 259.9"/>
<path class="d3ah" d="M294.5 264.4L297.8 259.9"/>
<path class="d4a" d="M301.6 304.1L306.5 307.5"/>
<path class="d2a" d="M333.2 235.7L327.4 234.3"/>
<path class="d2ah" d="M333.2 235.7L327.4 234.3"/>
<path class="d4a" d="M292.2 234.5L297.8 234"/>
<path class="d2b" d="M291.7 304.3L293.3 309.6"/>
<path class="d2bh" d="M291.7 304.3L293.3 309.6"/>
<path class="d4a" d="M278.3 306.8L283.2 310.1"/>
<path class="d4a" d="M344.4 234.5L349.3 237.8"/>
<path class="d3a" d="M291.6 268.5L294.9 263.9"/>
<path class="d3ah" d="M291.6 268.5L294.9 263.9"/>
<path class="d3a" d="M358.7 297.5L359.5 302.9"/>
<path class="d3ah" d="M358.7 297.5L359.5 302.9"/>
<path class="d4b" d="M288.7 272.2L294.3 271.6"/>
<path class="d4a" d="M268.6 234.2L273.2 237.3"/>
<path class="d3a" d="M288.8 272.5L292.1 267.9"/>
<path class="d3ah" d="M288.8 272.5L292.1 267.9"/>
<path class="d2b" d="M359.4 307L361.1 312.3"/>
<path class="d2bh" d="M359.4 307L361.1 312.3"/>
<path class="d2b" d="M309.1 236.7L313.7 234.1"/>
<path class="d2bh" d="M309.1 236.7L313.7 234.1"/>
<path class="d4a" d="M287.2 235L292.8 234.5"/>
<path class="d1" d="M222.8 293.1L222.8 298.4"/>
<path class="j1h" d="M222.8 293.1L222.8 298.4"/>
<path class="d3b" d="M289.3 272.4L285.1 268.6"/>
<path class="d3bh" d="M289.3 272.4L285.1 268.6"/>
<circle cx="222.8" cy="302.7" r="5.5" fill="url(#gm1)"/>
<circle cx="317.5" cy="232" r="5.5" fill="url(#gm1)"/>
<path class="d2a" d="M338.4 236.9L332.5 235.6"/>
<path class="d2ah" d="M338.4 236.9L332.5 235.6"/>
<path class="d4b" d="M283.6 272.8L289.3 272.2"/>
<path class="d1" d="M353.4 245L353.4 250.6"/>
<path class="j1h" d="M353.4 245L353.4 250.6"/>
<path class="d3a" d="M359.4 302.2L360.3 307.6"/>
<path class="d3ah" d="M359.4 302.2L360.3 307.6"/>
<path class="d3a" d="M288.9 271.9L289.8 277.7"/>
<path class="d3ah" d="M288.9 271.9L289.8 277.7"/>
<path class="d4a" d="M282.2 235.5L287.8 235"/>
<path class="d3c" d="M353.1 265L357.5 263.3"/>
<path class="d3ch" d="M353.1 265L357.5 263.3"/>
<path class="d2b" d="M357.3 238.6L362.2 236.2"/>
<path class="d2bh" d="M357.3 238.6L362.2 236.2"/>
<path class="d4a" d="M356.8 309.1L361.3 312.2"/>
<path class="d3b" d="M285.6 269.1L281.4 265.2"/>
<path class="d3bh" d="M285.6 269.1L281.4 265.2"/>
<path class="d4a" d="M321.2 234.5L325.7 237.7"/>
<path class="d6" d="M252.5 243.3L252.5 249.1"/>
<path class="d6h" d="M252.5 243.3L252.5 249.1"/>
<path class="d3c" d="M227.4 281.1L233 283"/>
<path class="d3ch" d="M227.4 281.1L233 283"/>
<path class="d4b" d="M278.5 273.4L284.3 272.7"/>
<path class="d3b" d="M282 265.7L277.8 261.9"/>
<path class="d3bh" d="M282 265.7L277.8 261.9"/>
<path class="d1" d="M289 267L289 272.6"/>
<path class="j1h" d="M289 267L289 272.6"/>
<path class="d4a" d="M277.2 236L282.8 235.5"/>
<path class="d2a" d="M343.5 238.2L337.7 236.8"/>
<path class="d2ah" d="M343.5 238.2L337.7 236.8"/>
<path class="d4b" d="M288.7 272L293.2 275.2"/>
<path class="d4b" d="M273.4 273.9L279.2 273.3"/>
<path class="d3a" d="M360.2 306.9L361.1 312.3"/>
<path class="d3ah" d="M360.2 306.9L361.1 312.3"/>
<path class="d3b" d="M278.3 262.3L274.1 258.5"/>
<path class="d3bh" d="M278.3 262.3L274.1 258.5"/>
<path class="d3a" d="M289.7 277L290.6 282.8"/>
<path class="d3ah" d="M289.7 277L290.6 282.8"/>
<path class="d2c" d="M250.4 233.1L252.6 238.8"/>
<path class="d2ch" d="M250.4 233.1L252.6 238.8"/>
<path class="d4a" d="M272.2 236.5L277.8 236"/>
<path class="d3b" d="M274.7 259L270.5 255.1"/>
<path class="d3bh" d="M274.7 259L270.5 255.1"/>
<path class="d2b" d="M305 238.9L309.7 236.3"/>
<path class="d2bh" d="M305 238.9L309.7 236.3"/>
<path class="d4b" d="M268.3 274.5L274.1 273.8"/>
<path class="d4a" d="M305.9 307.1L310.8 310.4"/>
<path class="d1" d="M222.8 288.4L222.8 293.8"/>
<path class="j1h" d="M222.8 288.4L222.8 293.8"/>
<path class="d4a" d="M355.7 312.5L361.3 312"/>
<path class="d2a" d="M348.6 239.4L342.8 238"/>
<path class="d2ah" d="M348.6 239.4L342.8 238"/>
<path class="d4a" d="M272.6 236.9L277.2 240"/>
<path class="d4a" d="M348.7 237.4L353.7 240.7"/>
<path class="d4a" d="M267.2 237L272.8 236.5"/>
<path class="d4a" d="M282.7 309.7L287.6 313"/>
<path class="d3b" d="M271 255.6L266.8 251.7"/>
<path class="d3bh" d="M271 255.6L266.8 251.7"/>
<path class="d1" d="M353.4 240.2L353.4 245.7"/>
<path class="j1h" d="M353.4 240.2L353.4 245.7"/>
<path class="d4b" d="M263.2 275L269 274.4"/>
<path class="d3a" d="M290.5 282.1L291.4 288"/>
<path class="d3ah" d="M290.5 282.1L291.4 288"/>
<path class="d2b" d="M353.1 240.7L357.9 238.3"/>
<path class="d2bh" d="M353.1 240.7L357.9 238.3"/>
<path class="d4a" d="M350.7 313L356.3 312.5"/>
<path class="d3b" d="M267.4 252.2L263.2 248.4"/>
<path class="d3bh" d="M267.4 252.2L263.2 248.4"/>
<path class="d4a" d="M262.2 237.5L267.8 237"/>
<path class="d6" d="M361 306.6L361 312.4"/>
<path class="d6h" d="M361 306.6L361 312.4"/>
<path class="d6" d="M252.5 238.2L252.5 244"/>
<path class="d6h" d="M252.5 238.2L252.5 244"/>
<path class="d4b" d="M258.1 275.6L263.9 275"/>
<path class="d2a" d="M353.7 240.6L347.9 239.2"/>
<path class="d2ah" d="M353.7 240.6L347.9 239.2"/>
<path class="d4a" d="M325.1 237.3L329.7 240.4"/>
<path class="d2c" d="M355.8 314.3L361.3 311.9"/>
<path class="d2ch" d="M355.8 314.3L361.3 311.9"/>
<path class="d3b" d="M263.7 248.8L259.5 245"/>
<path class="d3bh" d="M263.7 248.8L259.5 245"/>
<path class="d1" d="M289 262.1L289 267.7"/>
<path class="j1h" d="M289 262.1L289 267.7"/>
<path class="d4a" d="M345.7 313.5L351.3 313"/>
<circle cx="289" cy="272.2" r="4.94" fill="url(#gm2)"/>
<path class="d4a" d="M257.2 238L262.8 237.5"/>
<path class="d2b" d="M293.1 308.9L294.7 314.2"/>
<path class="d2bh" d="M293.1 308.9L294.7 314.2"/>
<path class="d3b" d="M260.1 245.5L255.9 241.6"/>
<path class="d3bh" d="M260.1 245.5L255.9 241.6"/>
<path class="d3a" d="M291.3 287.3L292.2 293.1"/>
<path class="d3ah" d="M291.3 287.3L292.2 293.1"/>
<path class="d4b" d="M253 276.2L258.8 275.5"/>
<path class="d4b" d="M292.6 274.8L297.1 277.9"/>
<path class="d4a" d="M340.7 314L346.3 313.5"/>
<path class="d4a" d="M348.1 241.1L353.7 240.5"/>
<path class="d2b" d="M300.9 241.2L305.6 238.6"/>
<path class="d2bh" d="M300.9 241.2L305.6 238.6"/>
<path class="d4a" d="M252.2 238.5L257.8 238"/>
<path class="d3c" d="M355.8 310.3L361.3 312.1"/>
<path class="d3ch" d="M355.8 310.3L361.3 312.1"/>
<path class="d3b" d="M256.4 242.1L252.2 238.3"/>
<path class="d3bh" d="M256.4 242.1L252.2 238.3"/>
<path class="d1" d="M222.8 283.8L222.8 289.1"/>
<path class="j1h" d="M222.8 283.8L222.8 289.1"/>
<path class="d4b" d="M247.9 276.7L253.7 276.1"/>
<path class="d3a" d="M249.3 242.9L252.7 238.2"/>
<path class="d3ah" d="M249.3 242.9L252.7 238.2"/>
<path class="d4a" d="M335.7 314.5L341.3 314"/>
<path class="d4a" d="M343.1 241.7L348.8 241"/>
<path class="d2a" d="M257.4 239.7L252.2 238.4"/>
<path class="d2ah" d="M257.4 239.7L252.2 238.4"/>
<path class="d3a" d="M292.1 292.4L292.9 298.3"/>
<path class="d3ah" d="M292.1 292.4L292.9 298.3"/>
<path class="d3a" d="M246.4 247L249.7 242.3"/>
<path class="d3ah" d="M246.4 247L249.7 242.3"/>
<path class="d4a" d="M276.7 239.6L281.3 242.6"/>
<path class="d4b" d="M242.8 277.3L248.6 276.7"/>
<path class="d4a" d="M310.2 310.1L315.1 313.4"/>
<path class="d3a" d="M243.4 251.1L246.8 246.4"/>
<path class="d3ah" d="M243.4 251.1L246.8 246.4"/>
<path class="d4a" d="M338.2 242.2L343.8 241.6"/>
<path class="d4a" d="M330.7 315L336.3 314.5"/>
<path class="d4a" d="M287 312.6L291.9 315.8"/>
<path class="d3c" d="M222.5 279.4L228.1 281.3"/>
<path class="d3ch" d="M222.5 279.4L228.1 281.3"/>
<circle cx="361" cy="312" r="5.58" fill="url(#gm1)"/>
<path class="d6" d="M361 301.6L361 307.4"/>
<path class="d6h" d="M361 301.6L361 307.4"/>
<path class="d2b" d="M248 241L252.8 238.3"/>
<path class="d2bh" d="M248 241L252.8 238.3"/>
<path class="d3a" d="M240.4 255.2L243.8 250.5"/>
<path class="d3ah" d="M240.4 255.2L243.8 250.5"/>
<path class="d4b" d="M237.7 277.9L243.5 277.2"/>
<path class="d1" d="M289 257.2L289 262.8"/>
<path class="j1h" d="M289 257.2L289 262.8"/>
<path class="d4a" d="M252.2 238.3L256.7 241.5"/>
<path class="d2a" d="M262 240.9L256.7 239.6"/>
<path class="d2ah" d="M262 240.9L256.7 239.6"/>
<path class="d4a" d="M333.2 242.8L338.9 242.1"/>
<path class="d4a" d="M325.7 315.5L331.3 315"/>
<path class="d3a" d="M237.4 259.3L240.8 254.6"/>
<path class="d3ah" d="M237.4 259.3L240.8 254.6"/>
<path class="d4a" d="M329.1 240L333.6 243.1"/>
<path class="d2c" d="M353.3 240.2L355 245.1"/>
<path class="d2ch" d="M353.3 240.2L355 245.1"/>
<path class="d3a" d="M292.8 297.6L293.7 303.4"/>
<path class="d3ah" d="M292.8 297.6L293.7 303.4"/>
<path class="d2c" d="M351 316.5L356.5 314"/>
<path class="d2ch" d="M351 316.5L356.5 314"/>
<path class="d4b" d="M232.6 278.4L238.4 277.8"/>
<path class="d2b" d="M296.8 243.5L301.5 240.9"/>
<path class="d2bh" d="M296.8 243.5L301.5 240.9"/>
<path class="d3a" d="M234.5 263.4L237.9 258.7"/>
<path class="d3ah" d="M234.5 263.4L237.9 258.7"/>
<path class="d4a" d="M328.3 243.3L333.9 242.7"/>
<path class="d4a" d="M320.7 316L326.3 315.5"/>
<path class="d4b" d="M296.5 277.5L301 280.7"/>
<path class="d3a" d="M231.5 267.5L234.9 262.8"/>
<path class="d3ah" d="M231.5 267.5L234.9 262.8"/>
<path class="d1" d="M222.8 279.1L222.8 284.5"/>
<path class="j1h" d="M222.8 279.1L222.8 284.5"/>
<path class="d2a" d="M266.5 242.1L261.3 240.7"/>
<path class="d2ah" d="M266.5 242.1L261.3 240.7"/>
<path class="d4b" d="M227.5 279L233.3 278.3"/>
<path class="d3a" d="M228.5 271.6L231.9 266.9"/>
<path class="d3ah" d="M228.5 271.6L231.9 266.9"/>
<path class="d4a" d="M323.3 243.9L329 243.3"/>
<path class="d3a" d="M293.6 302.7L294.5 308.6"/>
<path class="d3ah" d="M293.6 302.7L294.5 308.6"/>
<path class="d4a" d="M315.7 316.5L321.3 316"/>
<path class="d3a" d="M225.6 275.7L228.9 271"/>
<path class="d3ah" d="M225.6 275.7L228.9 271"/>
<circle cx="353.4" cy="240.5" r="5.61" fill="url(#gm1)"/>
<path class="d4b" d="M222.5 279.5L228.2 278.9"/>
<path class="d3a" d="M222.6 279.8L226 275.1"/>
<path class="d3ah" d="M222.6 279.8L226 275.1"/>
<path class="d2a" d="M271.1 243.2L265.8 241.9"/>
<path class="d2ah" d="M271.1 243.2L265.8 241.9"/>
<path class="d4a" d="M280.7 242.3L285.3 245.3"/>
<path class="d2b" d="M243.7 243.4L248.6 240.7"/>
<path class="d2bh" d="M243.7 243.4L248.6 240.7"/>
<path class="d4a" d="M318.4 244.5L324 243.8"/>
<path class="d4a" d="M310.7 317L316.3 316.5"/>
<path class="d2b" d="M294.5 313.5L296.1 318.8"/>
<path class="d2bh" d="M294.5 313.5L296.1 318.8"/>
<path class="d6" d="M361 296.6L361 302.4"/>
<path class="d6h" d="M361 296.6L361 302.4"/>
<circle cx="252.5" cy="238.5" r="5.62" fill="url(#gm1)"/>
<path class="d4a" d="M314.5 313L319.4 316.4"/>
<path class="d1" d="M289 252.3L289 257.9"/>
<path class="j1h" d="M289 252.3L289 257.9"/>
<path class="d3a" d="M294.4 307.9L295.3 313.7"/>
<path class="d3ah" d="M294.4 307.9L295.3 313.7"/>
<path class="d4a" d="M313.4 245L319.1 244.4"/>
<path class="d4a" d="M305.7 317.5L311.3 317"/>
<path class="d3c" d="M288.7 272.4L292.8 270.3"/>
<path class="d3ch" d="M288.7 272.4L292.8 270.3"/>
<path class="d4a" d="M291.4 315.4L296.3 318.7"/>
<path class="d2b" d="M292.8 245.7L297.4 243.1"/>
<path class="d2bh" d="M292.8 245.7L297.4 243.1"/>
<path class="d4a" d="M256.2 241.1L260.7 244.2"/>
<path class="d2a" d="M275.7 244.4L270.4 243.1"/>
<path class="d2ah" d="M275.7 244.4L270.4 243.1"/>
<path class="d4a" d="M333 242.7L337.6 245.8"/>
<path class="d3c" d="M351 308.8L356.5 310.6"/>
<path class="d3ch" d="M351 308.8L356.5 310.6"/>
<path class="d2c" d="M346.2 318.7L351.7 316.2"/>
<path class="d2ch" d="M346.2 318.7L351.7 316.2"/>
<path class="d4a" d="M308.5 245.6L314.1 245"/>
<path class="d1" d="M222.8 274.3L222.8 279.9"/>
<path class="j1h" d="M222.8 274.3L222.8 279.9"/>
<path class="d4a" d="M300.7 318L306.3 317.5"/>
<path class="d4b" d="M300.4 280.3L304.9 283.5"/>
<path class="d3a" d="M295.2 313L296.1 318.8"/>
<path class="d3ah" d="M295.2 313L296.1 318.8"/>
<path class="d2a" d="M280.2 245.6L275 244.2"/>
<path class="d2ah" d="M280.2 245.6L275 244.2"/>
<path class="d4a" d="M303.5 246.2L309.2 245.5"/>
<path class="d4a" d="M295.7 318.5L301.3 318"/>
<path class="d2b" d="M239.5 245.8L244.3 243.1"/>
<path class="d2bh" d="M239.5 245.8L244.3 243.1"/>
<path class="d4a" d="M298.6 246.7L304.2 246.1"/>
<path class="d2a" d="M284.8 246.7L279.5 245.4"/>
<path class="d2ah" d="M284.8 246.7L279.5 245.4"/>
<path class="d4a" d="M284.7 244.9L289.3 248"/>
<path class="d6" d="M361 291.6L361 297.4"/>
<path class="d6h" d="M361 291.6L361 297.4"/>
<path class="d2c" d="M354.8 244.5L356.6 249.4"/>
<path class="d2ch" d="M354.8 244.5L356.6 249.4"/>
<path class="d1" d="M289 247.5L289 253"/>
<path class="j1h" d="M289 247.5L289 253"/>
<path class="d2a" d="M301.5 319.5L295.7 318.4"/>
<path class="d2ah" d="M301.5 319.5L295.7 318.4"/>
<path class="d2b" d="M288.7 248L293.4 245.4"/>
<path class="d2bh" d="M288.7 248L293.4 245.4"/>
<path class="d4a" d="M293.6 247.3L299.3 246.6"/>
<path class="d4a" d="M318.8 316L323.7 319.4"/>
<path class="d6" d="M296 313.2L296 318.9"/>
<path class="d6h" d="M296 313.2L296 318.9"/>
<path class="d3b" d="M300.8 316.4L295.7 318.6"/>
<path class="d3bh" d="M300.8 316.4L295.7 318.6"/>
<path class="d4a" d="M260.1 243.8L264.7 247"/>
<path class="d2a" d="M289.3 247.9L284.1 246.6"/>
<path class="d2ah" d="M289.3 247.9L284.1 246.6"/>
<path class="d1" d="M222.8 269.4L222.8 275"/>
<path class="j1h" d="M222.8 269.4L222.8 275"/>
<path class="d4a" d="M337 245.4L341.5 248.6"/>
<circle cx="222.8" cy="279.5" r="5.05" fill="url(#gm2)"/>
<path class="d4a" d="M288.7 247.8L294.3 247.2"/>
<path class="d2c" d="M341.3 320.9L346.8 318.4"/>
<path class="d2ch" d="M341.3 320.9L346.8 318.4"/>
<path class="d2a" d="M306.6 320.4L300.8 319.4"/>
<path class="d2ah" d="M306.6 320.4L300.8 319.4"/>
<path class="d4b" d="M304.4 283.1L308.8 286.3"/>
<path class="d4a" d="M283.6 248.4L289.3 247.8"/>
<path class="d2b" d="M235.2 248.2L240.1 245.4"/>
<path class="d2bh" d="M235.2 248.2L240.1 245.4"/>
<path class="d4a" d="M278.5 249L284.3 248.3"/>
<path class="d6" d="M361 286.6L361 292.4"/>
<path class="d6h" d="M361 286.6L361 292.4"/>
<path class="d4a" d="M288.7 247.6L293.2 250.8"/>
<path class="d2a" d="M311.8 321.4L305.9 320.3"/>
<path class="d2ah" d="M311.8 321.4L305.9 320.3"/>
<path class="d4a" d="M273.4 249.5L279.2 248.9"/>
<path class="d3c" d="M346.2 307.2L351.7 309"/>
<path class="d3ch" d="M346.2 307.2L351.7 309"/>
<circle cx="296" cy="318.5" r="5.7" fill="url(#gm1)"/>
<path class="d6" d="M296 308.2L296 313.9"/>
<path class="d6h" d="M296 308.2L296 313.9"/>
<path class="d3b" d="M305.3 314.4L300.2 316.7"/>
<path class="d3bh" d="M305.3 314.4L300.2 316.7"/>
<path class="d1" d="M222.8 264.5L222.8 270.1"/>
<path class="j1h" d="M222.8 264.5L222.8 270.1"/>
<path class="d4a" d="M268.3 250.1L274.1 249.4"/>
<path class="d4a" d="M264.1 246.6L268.6 249.7"/>
<path class="d4a" d="M340.9 248.2L345.5 251.3"/>
<path class="d4a" d="M323.1 319L328 322.3"/>
<path class="d2b" d="M231 250.5L235.8 247.8"/>
<path class="d2bh" d="M231 250.5L235.8 247.8"/>
<path class="d2a" d="M316.9 322.3L311.1 321.3"/>
<path class="d2ah" d="M316.9 322.3L311.1 321.3"/>
<path class="d2c" d="M336.5 323.1L342 320.6"/>
<path class="d2ch" d="M336.5 323.1L342 320.6"/>
<path class="d4a" d="M263.2 250.6L269 250"/>
<path class="d2c" d="M288.9 247.5L290.9 253.4"/>
<path class="d2ch" d="M288.9 247.5L290.9 253.4"/>
<path class="d4b" d="M308.3 285.9L312.7 289"/>
<path class="d2c" d="M356.3 248.8L358.1 253.7"/>
<path class="d2ch" d="M356.3 248.8L358.1 253.7"/>
<path class="d4a" d="M258.1 251.2L263.9 250.6"/>
<path class="d6" d="M361 281.6L361 287.4"/>
<path class="d6h" d="M361 281.6L361 287.4"/>
<circle cx="289" cy="247.8" r="5.72" fill="url(#gm1)"/>
<path class="d2a" d="M322.1 323.3L316.2 322.2"/>
<path class="d2ah" d="M322.1 323.3L316.2 322.2"/>
<path class="d4a" d="M253 251.8L258.8 251.1"/>
<path class="d4a" d="M292.6 250.4L297.1 253.5"/>
<path class="d6" d="M296 303.2L296 308.9"/>
<path class="d6h" d="M296 303.2L296 308.9"/>
<path class="d3b" d="M309.8 312.4L304.7 314.7"/>
<path class="d3bh" d="M309.8 312.4L304.7 314.7"/>
<path class="d1" d="M222.8 259.6L222.8 265.2"/>
<path class="j1h" d="M222.8 259.6L222.8 265.2"/>
<path class="d4a" d="M247.9 252.3L253.7 251.7"/>
<path class="d2b" d="M226.7 252.9L231.6 250.2"/>
<path class="d2bh" d="M226.7 252.9L231.6 250.2"/>
<path class="d4a" d="M268 249.3L272.6 252.5"/>
<path class="d4a" d="M344.9 250.9L349.4 254"/>
<path class="d2a" d="M327.2 324.2L321.4 323.2"/>
<path class="d2ah" d="M327.2 324.2L321.4 323.2"/>
<path class="d4a" d="M242.8 252.9L248.6 252.3"/>
<path class="d4a" d="M327.4 321.9L332.3 325.3"/>
<path class="d2c" d="M331.7 325.2L337.2 322.8"/>
<path class="d2ch" d="M331.7 325.2L337.2 322.8"/>
<path class="d4b" d="M312.2 288.6L316.6 291.8"/>
<path class="d4a" d="M237.7 253.5L243.5 252.8"/>
<path class="d3c" d="M356.9 263.6L361.3 261.9"/>
<path class="d3ch" d="M356.9 263.6L361.3 261.9"/>
<path class="d6" d="M361 276.6L361 282.4"/>
<path class="d6h" d="M361 276.6L361 282.4"/>
<path class="d3c" d="M341.3 305.7L346.8 307.5"/>
<path class="d3ch" d="M341.3 305.7L346.8 307.5"/>
<path class="d2a" d="M332.3 325.2L326.5 324.1"/>
<path class="d2ah" d="M332.3 325.2L326.5 324.1"/>
<path class="d4a" d="M232.6 254L238.4 253.4"/>
<path class="d6" d="M296 298.3L296 303.9"/>
<path class="d6h" d="M296 298.3L296 303.9"/>
<path class="d4a" d="M296.5 253.1L301 256.3"/>
<path class="d1" d="M222.8 254.8L222.8 260.3"/>
<path class="j1h" d="M222.8 254.8L222.8 260.3"/>
<path class="d3b" d="M314.3 310.5L309.2 312.7"/>
<path class="d3bh" d="M314.3 310.5L309.2 312.7"/>
<path class="d2b" d="M222.5 255.3L227.3 252.6"/>
<path class="d2bh" d="M222.5 255.3L227.3 252.6"/>
<path class="d4a" d="M227.5 254.6L233.3 253.9"/>
<path class="d4a" d="M272 252.1L276.5 255.2"/>
<path class="d4a" d="M222.5 255.1L228.2 254.5"/>
<path class="d4a" d="M348.8 253.6L353.4 256.7"/>
<path class="d2c" d="M357.8 253.1L359.6 258"/>
<path class="d2ch" d="M357.8 253.1L359.6 258"/>
<path class="d1" d="M332 319.1L332 325.5"/>
<path class="j1h" d="M332 319.1L332 325.5"/>
<path class="d4b" d="M316.1 291.4L320.6 294.6"/>
<path class="d6" d="M361 271.6L361 277.4"/>
<path class="d6h" d="M361 271.6L361 277.4"/>
<path class="d2c" d="M290.6 252.7L292.6 258.6"/>
<path class="d2ch" d="M290.6 252.7L292.6 258.6"/>
<path class="d6" d="M296 293.3L296 299"/>
<path class="d6h" d="M296 293.3L296 299"/>
<path class="d3b" d="M318.8 308.5L313.7 310.7"/>
<path class="d3bh" d="M318.8 308.5L313.7 310.7"/>
<path class="d4a" d="M300.4 255.9L304.9 259.1"/>
<path class="d4a" d="M275.9 254.8L280.5 258"/>
<path class="d4a" d="M352.8 256.3L357.3 259.5"/>
<circle cx="332" cy="325.1" r="5.83" fill="url(#gm1)"/>
<path class="d6" d="M361 266.6L361 272.4"/>
<path class="d6h" d="M361 266.6L361 272.4"/>
<path class="d3c" d="M336.5 304.1L342 305.9"/>
<path class="d3ch" d="M336.5 304.1L342 305.9"/>
<path class="d1" d="M332 313.5L332 319.9"/>
<path class="j1h" d="M332 313.5L332 319.9"/>
<path class="d4b" d="M320 294.2L324.5 297.4"/>
<circle cx="222.8" cy="255.1" r="5.84" fill="url(#gm1)"/>
<path class="d6" d="M296 288.3L296 294"/>
<path class="d6h" d="M296 288.3L296 294"/>
<path class="d3b" d="M323.3 306.5L318.2 308.8"/>
<path class="d3bh" d="M323.3 306.5L318.2 308.8"/>
<path class="d4a" d="M304.4 258.7L308.8 261.9"/>
<path class="d2c" d="M359.4 257.4L361.1 262.3"/>
<path class="d2ch" d="M359.4 257.4L361.1 262.3"/>
<path class="d4a" d="M279.9 257.6L284.4 260.7"/>
<path class="d4a" d="M356.8 259.1L361.3 262.2"/>
<path class="d6" d="M361 261.6L361 267.4"/>
<path class="d6h" d="M361 261.6L361 267.4"/>
<path class="d1" d="M332 307.9L332 314.2"/>
<path class="j1h" d="M332 307.9L332 314.2"/>
<path class="d4b" d="M323.9 297L328.4 300.1"/>
<path class="d3c" d="M292.2 270.7L296.3 268.6"/>
<path class="d3ch" d="M292.2 270.7L296.3 268.6"/>
<path class="d6" d="M296 283.4L296 289"/>
<path class="d6h" d="M296 283.4L296 289"/>
<path class="d2c" d="M292.4 258L294.4 263.9"/>
<path class="d2ch" d="M292.4 258L294.4 263.9"/>
<path class="d3b" d="M327.8 304.5L322.7 306.8"/>
<path class="d3bh" d="M327.8 304.5L322.7 306.8"/>
<path class="d3a" d="M357.9 266.4L361.2 261.7"/>
<path class="d3ah" d="M357.9 266.4L361.2 261.7"/>
<path class="d4a" d="M355.7 262.6L361.3 262"/>
<path class="d4a" d="M308.3 261.5L312.7 264.6"/>
<path class="d3a" d="M352.1 274.5L358.3 265.8"/>
<path class="d3ah" d="M352.1 274.5L358.3 265.8"/>
<path class="d4a" d="M350.7 263.1L356.3 262.5"/>
<path class="d3c" d="M331.7 302.6L337.2 304.4"/>
<path class="d3ch" d="M331.7 302.6L337.2 304.4"/>
<path class="d2b" d="M356.6 264.5L361.3 261.8"/>
<path class="d2bh" d="M356.6 264.5L361.3 261.8"/>
<path class="d3a" d="M349.2 278.6L352.5 273.9"/>
<path class="d3ah" d="M349.2 278.6L352.5 273.9"/>
<path class="d4a" d="M283.8 260.3L288.4 263.5"/>
<path class="d3a" d="M346.3 282.6L349.6 278"/>
<path class="d3ah" d="M346.3 282.6L349.6 278"/>
<path class="d4a" d="M345.7 263.6L351.3 263"/>
<path class="d3a" d="M343.4 286.7L346.7 282.1"/>
<path class="d3ah" d="M343.4 286.7L346.7 282.1"/>
<path class="d6" d="M296 278.4L296 284.1"/>
<path class="d6h" d="M296 278.4L296 284.1"/>
<path class="d1" d="M332 302.3L332 308.7"/>
<path class="j1h" d="M332 302.3L332 308.7"/>
<path class="d4b" d="M327.8 299.7L332.3 302.9"/>
<path class="d3b" d="M332.3 302.6L327.2 304.8"/>
<path class="d3bh" d="M332.3 302.6L327.2 304.8"/>
<path class="d4a" d="M340.7 264.1L346.3 263.5"/>
<path class="d3a" d="M337.6 294.8L343.8 286.1"/>
<path class="d3ah" d="M337.6 294.8L343.8 286.1"/>
<path class="d4a" d="M335.7 264.7L341.3 264.1"/>
<path class="d3a" d="M334.7 298.9L338 294.3"/>
<path class="d3ah" d="M334.7 298.9L338 294.3"/>
<path class="d4a" d="M312.2 264.2L316.6 267.4"/>
<path class="d3a" d="M331.8 303L335.1 298.3"/>
<path class="d3ah" d="M331.8 303L335.1 298.3"/>
<path class="d2b" d="M352.4 266.8L357.2 264.2"/>
<path class="d2bh" d="M352.4 266.8L357.2 264.2"/>
<path class="d4a" d="M330.7 265.2L336.3 264.6"/>
<path class="d3b" d="M332.3 302.9L328.1 299.1"/>
<path class="d3bh" d="M332.3 302.9L328.1 299.1"/>
<circle cx="361" cy="262" r="5.94" fill="url(#gm1)"/>
<path class="d4a" d="M287.8 263.1L292.3 266.2"/>
<path class="d4a" d="M325.7 265.7L331.3 265.1"/>
<path class="d3b" d="M328.7 299.5L324.5 295.7"/>
<path class="d3bh" d="M328.7 299.5L324.5 295.7"/>
<path class="d6" d="M296 273.4L296 279.1"/>
<path class="d6h" d="M296 273.4L296 279.1"/>
<path class="d3b" d="M325.1 296.2L320.9 292.3"/>
<path class="d3bh" d="M325.1 296.2L320.9 292.3"/>
<path class="d1" d="M332 297.5L332 303.1"/>
<path class="j1h" d="M332 297.5L332 303.1"/>
<path class="d4a" d="M320.7 266.2L326.3 265.6"/>
<path class="d3b" d="M321.5 292.8L317.3 288.9"/>
<path class="d3bh" d="M321.5 292.8L317.3 288.9"/>
<path class="d2c" d="M294.1 263.2L296.1 269.1"/>
<path class="d2ch" d="M294.1 263.2L296.1 269.1"/>
<path class="d4a" d="M315.7 266.7L321.3 266.1"/>
<path class="d3b" d="M317.9 289.4L313.7 285.5"/>
<path class="d3bh" d="M317.9 289.4L313.7 285.5"/>
<path class="d2b" d="M348.3 269.2L353 266.5"/>
<path class="d2bh" d="M348.3 269.2L353 266.5"/>
<path class="d4a" d="M316.1 267L320.6 270.2"/>
<path class="d4a" d="M310.7 267.3L316.3 266.7"/>
<path class="d3b" d="M314.3 286L306.5 278.7"/>
<path class="d3bh" d="M314.3 286L306.5 278.7"/>
<path class="d4a" d="M305.7 267.8L311.3 267.2"/>
<path class="d4a" d="M291.8 265.8L296.3 269"/>
<path class="d6" d="M296 268.4L296 274.1"/>
<path class="d6h" d="M296 268.4L296 274.1"/>
<path class="d3b" d="M307.1 279.2L302.9 275.3"/>
<path class="d3bh" d="M307.1 279.2L302.9 275.3"/>
<path class="d1" d="M332 292.6L332 298.2"/>
<path class="j1h" d="M332 292.6L332 298.2"/>
<circle cx="332" cy="302.7" r="5.33" fill="url(#gm2)"/>
<path class="d4a" d="M300.7 268.3L306.3 267.7"/>
<path class="d3b" d="M303.5 275.8L299.3 272"/>
<path class="d3bh" d="M303.5 275.8L299.3 272"/>
<path class="d2b" d="M344.1 271.5L348.9 268.8"/>
<path class="d2bh" d="M344.1 271.5L348.9 268.8"/>
<path class="d4a" d="M295.7 268.8L301.3 268.2"/>
<path class="d3b" d="M299.9 272.4L295.7 268.6"/>
<path class="d3bh" d="M299.9 272.4L295.7 268.6"/>
<path class="d4a" d="M320 269.8L324.5 273"/>
<path class="d2a" d="M301.5 270.2L295.7 268.7"/>
<path class="d2ah" d="M301.5 270.2L295.7 268.7"/>
<path class="d1" d="M332 287.7L332 293.3"/>
<path class="j1h" d="M332 287.7L332 293.3"/>
<path class="d2a" d="M306.6 271.6L300.8 270.1"/>
<path class="d2ah" d="M306.6 271.6L300.8 270.1"/>
<path class="d2b" d="M340 273.8L344.7 271.1"/>
<path class="d2bh" d="M340 273.8L344.7 271.1"/>
<path class="d2a" d="M311.8 273L305.9 271.4"/>
<path class="d2ah" d="M311.8 273L305.9 271.4"/>
<path class="d4a" d="M323.9 272.6L328.4 275.7"/>
<circle cx="296" cy="268.8" r="6.05" fill="url(#gm1)"/>
<path class="d2a" d="M316.9 274.3L311.1 272.8"/>
<path class="d2ah" d="M316.9 274.3L311.1 272.8"/>
<path class="d1" d="M332 282.8L332 288.4"/>
<path class="j1h" d="M332 282.8L332 288.4"/>
<path class="d2b" d="M335.8 276.1L340.6 273.5"/>
<path class="d2bh" d="M335.8 276.1L340.6 273.5"/>
<path class="d2a" d="M327.2 277L316.2 274.1"/>
<path class="d2ah" d="M327.2 277L316.2 274.1"/>
<path class="d4a" d="M327.8 275.3L332.3 278.5"/>
<path class="d1" d="M332 277.9L332 283.5"/>
<path class="j1h" d="M332 277.9L332 283.5"/>
<path class="d2b" d="M331.7 278.5L336.4 275.8"/>
<path class="d2bh" d="M331.7 278.5L336.4 275.8"/>
<path class="d2a" d="M332.3 278.4L326.5 276.9"/>
<path class="d2ah" d="M332.3 278.4L326.5 276.9"/>
<circle cx="332" cy="278.3" r="6.16" fill="url(#gm1)"/>
<path d="M217.8 258C200.5 267 200.5 293 217.8 301" fill="none" stroke="#000" stroke-width="1.05"/>
<line x1="225.4" y1="238.2" x2="237.6" y2="275.9" stroke="#000" stroke-width="0.9"/>
<line x1="230.3" y1="220" x2="246.3" y2="228" stroke="#000" stroke-width="0.9"/>
<line x1="323.6" y1="214.3" x2="299.6" y2="225" stroke="#000" stroke-width="0.9"/>
<line x1="370.7" y1="273.8" x2="373.3" y2="295.5" stroke="#000" stroke-width="0.9"/>
<line x1="312.2" y1="329" x2="329" y2="304.5" stroke="#000" stroke-width="0.9"/>
<text x="205.8" y="255.5" font-size="9.7" class="ls"><tspan font-style="italic">J</tspan><tspan dy="2.6" font-size="7.18">5</tspan></text>
<text x="211" y="271.8" font-size="9.7" class="ls"><tspan font-style="italic">J</tspan><tspan dy="2.6" font-size="7.18">1</tspan></text>
<text x="219.3" y="235.2" font-size="9.7" class="ls"><tspan font-style="italic">J</tspan><tspan dy="2.6" font-size="7.18">4b</tspan></text>
<text x="220.8" y="219.3" font-size="9.7" class="ls"><tspan font-style="italic">J</tspan><tspan dx="-0.3" dy="1.6" font-size="10.6" font-weight="bold" font-style="italic" letter-spacing="-0.5">′′′</tspan><tspan dx="-5.05" dy="2.5" font-size="7.18">2</tspan></text>
<text x="247.5" y="205.8" font-size="9.7" class="ls"><tspan font-style="italic">J</tspan><tspan dx="-0.3" dy="1.6" font-size="10.6" font-weight="bold" font-style="italic" letter-spacing="-0.5">′′</tspan><tspan dx="-3.3" dy="2.5" font-size="7.18">2</tspan></text>
<text x="289.4" y="201.9" font-size="9.7" class="ls"><tspan font-style="italic">J</tspan><tspan dx="-0.3" dy="1.6" font-size="10.6" font-weight="bold" font-style="italic" letter-spacing="-0.5">′</tspan><tspan dx="-1.55" dy="2.5" font-size="7.18">2</tspan></text>
<text x="325.7" y="214.3" font-size="9.7" class="ls"><tspan font-style="italic">J</tspan><tspan dx="-0.3" dy="1.6" font-size="10.6" font-weight="bold" font-style="italic" letter-spacing="-0.5">′′</tspan><tspan dx="-3.3" dy="2.5" font-size="7.18">3</tspan></text>
<text x="345.3" y="223.9" font-size="9.7" class="ls"><tspan font-style="italic">J</tspan><tspan dy="2.6" font-size="7.18">4a</tspan></text>
<text x="369.7" y="249.4" font-size="9.7" class="ls"><tspan font-style="italic">J</tspan><tspan dx="-0.3" dy="1.6" font-size="10.6" font-weight="bold" font-style="italic" letter-spacing="-0.5">′</tspan><tspan dx="-1.55" dy="2.5" font-size="7.18">3</tspan></text>
<text x="371.7" y="263.7" font-size="9.7" class="ls"><tspan font-style="italic">J</tspan><tspan dy="2.6" font-size="7.18">6</tspan></text>
<text x="370.7" y="304.5" font-size="9.7" class="ls"><tspan font-style="italic">J</tspan><tspan dx="-0.3" dy="1.6" font-size="10.6" font-weight="bold" font-style="italic" letter-spacing="-0.5">′′′</tspan><tspan dx="-5.05" dy="2.5" font-size="7.18">3</tspan></text>
<text x="271" y="325.9" font-size="9.3" class="ls">Mn1</text>
<text x="300" y="336" font-size="9.3" class="ls">Mn2</text>
</g>
<line x1="236.5" y1="321.2" x2="241.4" y2="316" stroke="#000" stroke-width="1.15"/>
<polygon points="242.36,314.98 240.77,319.03 238.41,316.81" fill="#000"/>
<line x1="236.5" y1="321.2" x2="228.2" y2="319.4" stroke="#000" stroke-width="1.15"/>
<polygon points="226.83,319.1 231.13,318.38 230.44,321.54" fill="#000"/>
<line x1="236.5" y1="321.2" x2="236.5" y2="311.4" stroke="#000" stroke-width="1.15"/>
<polygon points="236.5,310 238.12,314.04 234.88,314.04" fill="#000"/>
<text x="243.5" y="314" font-size="7.8" text-anchor="middle" class="ls" font-weight="bold">a</text>
<text x="225.8" y="316.6" font-size="7.8" text-anchor="middle" class="ls" font-weight="bold">b</text>
<text x="232" y="311.3" font-size="7.8" text-anchor="middle" class="ls" font-weight="bold">c</text>
<text x="204.5" y="181.2" font-size="12.8" class="ls" font-weight="bold">d</text>
</g>
<g id="pe">
<line x1="581.75" y1="0.5" x2="581.75" y2="69.5" stroke="#c8c8c8" stroke-width="1"/>
<polyline points="423.75,57 434,53.25 444.25,50 454.5,46.75 464.75,44.25 475,41.5 485.25,38.75 495.5,36 505.75,32.75 516,29.75 526.25,26.25 536.5,22.75 546.75,18.75 557,15 567.25,11.25 577.5,10.5 581.6,8.75 587.75,5.5 598,5 608.25,4.75 618.5,3.75 628.75,4 639,4 649.25,4.75 659.5,4.75 669.75,5 680,5.5" fill="none" stroke="#8b008b" stroke-width="1.5" stroke-dasharray="1.5 2.4"/>
<rect x="420.35" y="53.6" width="6.8" height="6.8" fill="#8b008b"/>
<rect x="430.6" y="49.85" width="6.8" height="6.8" fill="#8b008b"/>
<rect x="440.85" y="46.6" width="6.8" height="6.8" fill="#8b008b"/>
<rect x="451.1" y="43.35" width="6.8" height="6.8" fill="#8b008b"/>
<rect x="461.35" y="40.85" width="6.8" height="6.8" fill="#8b008b"/>
<rect x="471.6" y="38.1" width="6.8" height="6.8" fill="#8b008b"/>
<rect x="481.85" y="35.35" width="6.8" height="6.8" fill="#8b008b"/>
<rect x="492.1" y="32.6" width="6.8" height="6.8" fill="#8b008b"/>
<rect x="502.35" y="29.35" width="6.8" height="6.8" fill="#8b008b"/>
<rect x="512.6" y="26.35" width="6.8" height="6.8" fill="#8b008b"/>
<rect x="522.85" y="22.85" width="6.8" height="6.8" fill="#8b008b"/>
<rect x="533.1" y="19.35" width="6.8" height="6.8" fill="#8b008b"/>
<rect x="543.35" y="15.35" width="6.8" height="6.8" fill="#8b008b"/>
<rect x="553.6" y="11.6" width="6.8" height="6.8" fill="#8b008b"/>
<rect x="563.85" y="7.85" width="6.8" height="6.8" fill="#8b008b"/>
<rect x="574.1" y="7.1" width="6.8" height="6.8" fill="#8b008b"/>
<rect x="578.2" y="5.35" width="6.8" height="6.8" fill="#8b008b"/>
<rect x="584.35" y="2.1" width="6.8" height="6.8" fill="#8b008b"/>
<rect x="594.6" y="1.6" width="6.8" height="6.8" fill="#8b008b"/>
<rect x="604.85" y="1.35" width="6.8" height="6.8" fill="#8b008b"/>
<rect x="615.1" y="0.35" width="6.8" height="6.8" fill="#8b008b"/>
<rect x="625.35" y="0.6" width="6.8" height="6.8" fill="#8b008b"/>
<rect x="635.6" y="0.6" width="6.8" height="6.8" fill="#8b008b"/>
<rect x="645.85" y="1.35" width="6.8" height="6.8" fill="#8b008b"/>
<rect x="656.1" y="1.35" width="6.8" height="6.8" fill="#8b008b"/>
<rect x="666.35" y="1.6" width="6.8" height="6.8" fill="#8b008b"/>
<rect x="676.6" y="2.1" width="6.8" height="6.8" fill="#8b008b"/>
<rect x="423.75" y="0.5" width="256.5" height="69" fill="none" stroke="#262626" stroke-width="0.9"/>
<line x1="423.75" y1="69.5" x2="423.75" y2="67" stroke="#262626" stroke-width="0.7"/>
<line x1="434" y1="69.5" x2="434" y2="67" stroke="#262626" stroke-width="0.7"/>
<line x1="444.25" y1="69.5" x2="444.25" y2="67" stroke="#262626" stroke-width="0.7"/>
<line x1="454.5" y1="69.5" x2="454.5" y2="67" stroke="#262626" stroke-width="0.7"/>
<line x1="464.75" y1="69.5" x2="464.75" y2="67" stroke="#262626" stroke-width="0.7"/>
<line x1="475" y1="69.5" x2="475" y2="67" stroke="#262626" stroke-width="0.7"/>
<line x1="485.25" y1="69.5" x2="485.25" y2="67" stroke="#262626" stroke-width="0.7"/>
<line x1="495.5" y1="69.5" x2="495.5" y2="67" stroke="#262626" stroke-width="0.7"/>
<line x1="505.75" y1="69.5" x2="505.75" y2="67" stroke="#262626" stroke-width="0.7"/>
<line x1="516" y1="69.5" x2="516" y2="67" stroke="#262626" stroke-width="0.7"/>
<line x1="526.25" y1="69.5" x2="526.25" y2="67" stroke="#262626" stroke-width="0.7"/>
<line x1="536.5" y1="69.5" x2="536.5" y2="67" stroke="#262626" stroke-width="0.7"/>
<line x1="546.75" y1="69.5" x2="546.75" y2="67" stroke="#262626" stroke-width="0.7"/>
<line x1="557" y1="69.5" x2="557" y2="67" stroke="#262626" stroke-width="0.7"/>
<line x1="567.25" y1="69.5" x2="567.25" y2="67" stroke="#262626" stroke-width="0.7"/>
<line x1="577.5" y1="69.5" x2="577.5" y2="67" stroke="#262626" stroke-width="0.7"/>
<line x1="587.75" y1="69.5" x2="587.75" y2="67" stroke="#262626" stroke-width="0.7"/>
<line x1="598" y1="69.5" x2="598" y2="67" stroke="#262626" stroke-width="0.7"/>
<line x1="608.25" y1="69.5" x2="608.25" y2="67" stroke="#262626" stroke-width="0.7"/>
<line x1="618.5" y1="69.5" x2="618.5" y2="67" stroke="#262626" stroke-width="0.7"/>
<line x1="628.75" y1="69.5" x2="628.75" y2="67" stroke="#262626" stroke-width="0.7"/>
<line x1="639" y1="69.5" x2="639" y2="67" stroke="#262626" stroke-width="0.7"/>
<line x1="649.25" y1="69.5" x2="649.25" y2="67" stroke="#262626" stroke-width="0.7"/>
<line x1="659.5" y1="69.5" x2="659.5" y2="67" stroke="#262626" stroke-width="0.7"/>
<line x1="669.75" y1="69.5" x2="669.75" y2="67" stroke="#262626" stroke-width="0.7"/>
<line x1="680" y1="69.5" x2="680" y2="67" stroke="#262626" stroke-width="0.7"/>
<line x1="423.75" y1="69.5" x2="423.75" y2="65.3" stroke="#262626" stroke-width="0.9"/>
<line x1="475" y1="69.5" x2="475" y2="65.3" stroke="#262626" stroke-width="0.9"/>
<line x1="526.25" y1="69.5" x2="526.25" y2="65.3" stroke="#262626" stroke-width="0.9"/>
<line x1="577.5" y1="69.5" x2="577.5" y2="65.3" stroke="#262626" stroke-width="0.9"/>
<line x1="628.75" y1="69.5" x2="628.75" y2="65.3" stroke="#262626" stroke-width="0.9"/>
<line x1="680" y1="69.5" x2="680" y2="65.3" stroke="#262626" stroke-width="0.9"/>
<line x1="423.75" y1="63.73" x2="426.25" y2="63.73" stroke="#262626" stroke-width="0.7"/>
<line x1="423.75" y1="57.95" x2="426.25" y2="57.95" stroke="#262626" stroke-width="0.7"/>
<line x1="423.75" y1="52.17" x2="426.25" y2="52.17" stroke="#262626" stroke-width="0.7"/>
<line x1="423.75" y1="46.4" x2="426.25" y2="46.4" stroke="#262626" stroke-width="0.7"/>
<line x1="423.75" y1="40.62" x2="426.25" y2="40.62" stroke="#262626" stroke-width="0.7"/>
<line x1="423.75" y1="34.85" x2="426.25" y2="34.85" stroke="#262626" stroke-width="0.7"/>
<line x1="423.75" y1="29.07" x2="426.25" y2="29.07" stroke="#262626" stroke-width="0.7"/>
<line x1="423.75" y1="23.3" x2="426.25" y2="23.3" stroke="#262626" stroke-width="0.7"/>
<line x1="423.75" y1="17.52" x2="426.25" y2="17.52" stroke="#262626" stroke-width="0.7"/>
<line x1="423.75" y1="11.75" x2="426.25" y2="11.75" stroke="#262626" stroke-width="0.7"/>
<line x1="423.75" y1="5.98" x2="426.25" y2="5.98" stroke="#262626" stroke-width="0.7"/>
<line x1="423.75" y1="69.5" x2="427.95" y2="69.5" stroke="#262626" stroke-width="0.9"/>
<line x1="423.75" y1="40.62" x2="427.95" y2="40.62" stroke="#262626" stroke-width="0.9"/>
<line x1="423.75" y1="11.75" x2="427.95" y2="11.75" stroke="#262626" stroke-width="0.9"/>
<text x="421" y="72.3" font-size="7.6" text-anchor="end" class="dv" fill="#1a1a1a">0</text>
<text x="421" y="43.42" font-size="7.6" text-anchor="end" class="dv" fill="#1a1a1a">50</text>
<text x="421" y="14.55" font-size="7.6" text-anchor="end" class="dv" fill="#1a1a1a">100</text>
<text x="423.75" y="78.6" font-size="7.6" text-anchor="middle" class="dv" fill="#1a1a1a">0</text>
<text x="475" y="78.6" font-size="7.6" text-anchor="middle" class="dv" fill="#1a1a1a">5</text>
<text x="526.25" y="78.6" font-size="7.6" text-anchor="middle" class="dv" fill="#1a1a1a">10</text>
<text x="577.5" y="78.6" font-size="7.6" text-anchor="middle" class="dv" fill="#1a1a1a">15</text>
<text x="628.75" y="78.6" font-size="7.6" text-anchor="middle" class="dv" fill="#1a1a1a">20</text>
<text x="680" y="78.6" font-size="7.6" text-anchor="middle" class="dv" fill="#1a1a1a">25</text>
<text x="404" y="36" font-size="9" text-anchor="middle" class="dv" fill="#1a1a1a" transform="rotate(-90 404 36)"><tspan font-style="italic">J</tspan><tspan dy="1.8" font-size="6.3">1</tspan><tspan dy="-1.8"> (K)</tspan></text>
<text x="578.3" y="60.9" font-size="9.4" text-anchor="end" class="dv" fill="#1a1a1a">P3̄1c</text>
<text x="587.3" y="60.9" font-size="9.4" class="dv" fill="#1a1a1a">C2/c</text>
<rect x="429.3" y="4.8" width="19" height="16.2" fill="#fff" stroke="#d0d0d0" stroke-width="0.8" rx="1.3" fill-opacity="0.85"/>
<rect x="429.2" y="9.2" width="6.8" height="6.8" fill="#8b008b"/>
<text x="437.7" y="15.2" font-size="9.1" class="dv" fill="#1a1a1a"><tspan font-style="italic">J</tspan><tspan dy="1.9" font-size="6.3">1</tspan></text>
<text x="394.6" y="7.3" font-size="10.8" class="dv" font-weight="bold">e</text>
</g>
<g id="pf">
<line x1="581.75" y1="85.5" x2="581.75" y2="322.1" stroke="#c8c8c8" stroke-width="1"/>
<line x1="423.75" y1="190.4" x2="680.25" y2="190.4" stroke="#d0d0d0" stroke-width="1"/>
<polyline points="423.75,186.5 434,186.3 444.25,186 454.5,185.8 464.75,185.5 475,185 485.25,184.5 495.5,184 505.75,183.3 516,182.6 526.25,182 536.5,181.4 546.75,181 557,180.9 567.25,180.9 577.5,194.6 581.6,198.5" fill="none" stroke="#00ff00" stroke-width="1.5" stroke-dasharray="1.5 2.4"/>
<polygon points="423.75,190 427.25,183 420.25,183" fill="#00ff00"/>
<polygon points="434,189.8 437.5,182.8 430.5,182.8" fill="#00ff00"/>
<polygon points="444.25,189.5 447.75,182.5 440.75,182.5" fill="#00ff00"/>
<polygon points="454.5,189.3 458,182.3 451,182.3" fill="#00ff00"/>
<polygon points="464.75,189 468.25,182 461.25,182" fill="#00ff00"/>
<polygon points="475,188.5 478.5,181.5 471.5,181.5" fill="#00ff00"/>
<polygon points="485.25,188 488.75,181 481.75,181" fill="#00ff00"/>
<polygon points="495.5,187.5 499,180.5 492,180.5" fill="#00ff00"/>
<polygon points="505.75,186.8 509.25,179.8 502.25,179.8" fill="#00ff00"/>
<polygon points="516,186.1 519.5,179.1 512.5,179.1" fill="#00ff00"/>
<polygon points="526.25,185.5 529.75,178.5 522.75,178.5" fill="#00ff00"/>
<polygon points="536.5,184.9 540,177.9 533,177.9" fill="#00ff00"/>
<polygon points="546.75,184.5 550.25,177.5 543.25,177.5" fill="#00ff00"/>
<polygon points="557,184.4 560.5,177.4 553.5,177.4" fill="#00ff00"/>
<polygon points="567.25,184.4 570.75,177.4 563.75,177.4" fill="#00ff00"/>
<polygon points="577.5,198.1 581,191.1 574,191.1" fill="#00ff00"/>
<polygon points="581.6,202 585.1,195 578.1,195" fill="#00ff00"/>
<polyline points="581.6,262.7 587.75,269.7 598,283.3 608.25,286.3 618.5,299 628.75,302 639,306.6 649.25,307.5 659.5,311.7 669.75,315.7 680,319.6" fill="none" stroke="#228b22" stroke-width="1.5" stroke-dasharray="1.5 2.4"/>
<circle cx="581.6" cy="262.7" r="3.3" fill="#228b22"/>
<circle cx="587.75" cy="269.7" r="3.3" fill="#228b22"/>
<circle cx="598" cy="283.3" r="3.3" fill="#228b22"/>
<circle cx="608.25" cy="286.3" r="3.3" fill="#228b22"/>
<circle cx="618.5" cy="299" r="3.3" fill="#228b22"/>
<circle cx="628.75" cy="302" r="3.3" fill="#228b22"/>
<circle cx="639" cy="306.6" r="3.3" fill="#228b22"/>
<circle cx="649.25" cy="307.5" r="3.3" fill="#228b22"/>
<circle cx="659.5" cy="311.7" r="3.3" fill="#228b22"/>
<circle cx="669.75" cy="315.7" r="3.3" fill="#228b22"/>
<circle cx="680" cy="319.6" r="3.3" fill="#228b22"/>
<polyline points="581.6,204 587.75,199.7 598,198.2 608.25,207 618.5,201.7 628.75,205 639,214 649.25,212 659.5,214.5 669.75,218 680,222.6" fill="none" stroke="#9acd32" stroke-width="1.5" stroke-dasharray="1.5 2.4"/>
<polygon points="581.6,199.97 585.63,204 581.6,208.03 577.57,204" fill="#9acd32"/>
<polygon points="587.75,195.67 591.78,199.7 587.75,203.73 583.72,199.7" fill="#9acd32"/>
<polygon points="598,194.17 602.03,198.2 598,202.23 593.97,198.2" fill="#9acd32"/>
<polygon points="608.25,202.97 612.28,207 608.25,211.03 604.22,207" fill="#9acd32"/>
<polygon points="618.5,197.67 622.53,201.7 618.5,205.73 614.47,201.7" fill="#9acd32"/>
<polygon points="628.75,200.97 632.78,205 628.75,209.03 624.72,205" fill="#9acd32"/>
<polygon points="639,209.97 643.03,214 639,218.03 634.97,214" fill="#9acd32"/>
<polygon points="649.25,207.97 653.28,212 649.25,216.03 645.22,212" fill="#9acd32"/>
<polygon points="659.5,210.47 663.53,214.5 659.5,218.53 655.47,214.5" fill="#9acd32"/>
<polygon points="669.75,213.97 673.78,218 669.75,222.03 665.72,218" fill="#9acd32"/>
<polygon points="680,218.57 684.03,222.6 680,226.63 675.97,222.6" fill="#9acd32"/>
<polyline points="581.6,182.5 587.75,182 598,173.4 608.25,182.5 618.5,172.8 628.75,180.5 639,178 649.25,180 659.5,179.5 669.75,179 680,178.5" fill="none" stroke="#adff2f" stroke-width="1.5" stroke-dasharray="1.5 2.4"/>
<rect x="578.3" y="179.2" width="6.6" height="6.6" fill="#adff2f"/>
<rect x="584.45" y="178.7" width="6.6" height="6.6" fill="#adff2f"/>
<rect x="594.7" y="170.1" width="6.6" height="6.6" fill="#adff2f"/>
<rect x="604.95" y="179.2" width="6.6" height="6.6" fill="#adff2f"/>
<rect x="615.2" y="169.5" width="6.6" height="6.6" fill="#adff2f"/>
<rect x="625.45" y="177.2" width="6.6" height="6.6" fill="#adff2f"/>
<rect x="635.7" y="174.7" width="6.6" height="6.6" fill="#adff2f"/>
<rect x="645.95" y="176.7" width="6.6" height="6.6" fill="#adff2f"/>
<rect x="656.2" y="176.2" width="6.6" height="6.6" fill="#adff2f"/>
<rect x="666.45" y="175.7" width="6.6" height="6.6" fill="#adff2f"/>
<rect x="676.7" y="175.2" width="6.6" height="6.6" fill="#adff2f"/>
<polyline points="423.75,159.25 434,154.25 444.25,150.75 454.5,147 464.75,143.75 475,140 485.25,136 495.5,132 505.75,127.5 516,123 526.25,118.75 536.5,112.5 546.75,106.75 557,100.5 567.25,96.25 577.5,102.5 581.6,103.75" fill="none" stroke="#0000ff" stroke-width="1.5" stroke-dasharray="1.5 2.4"/>
<polygon points="423.75,155.75 427.25,162.75 420.25,162.75" fill="#0000ff"/>
<polygon points="434,150.75 437.5,157.75 430.5,157.75" fill="#0000ff"/>
<polygon points="444.25,147.25 447.75,154.25 440.75,154.25" fill="#0000ff"/>
<polygon points="454.5,143.5 458,150.5 451,150.5" fill="#0000ff"/>
<polygon points="464.75,140.25 468.25,147.25 461.25,147.25" fill="#0000ff"/>
<polygon points="475,136.5 478.5,143.5 471.5,143.5" fill="#0000ff"/>
<polygon points="485.25,132.5 488.75,139.5 481.75,139.5" fill="#0000ff"/>
<polygon points="495.5,128.5 499,135.5 492,135.5" fill="#0000ff"/>
<polygon points="505.75,124 509.25,131 502.25,131" fill="#0000ff"/>
<polygon points="516,119.5 519.5,126.5 512.5,126.5" fill="#0000ff"/>
<polygon points="526.25,115.25 529.75,122.25 522.75,122.25" fill="#0000ff"/>
<polygon points="536.5,109 540,116 533,116" fill="#0000ff"/>
<polygon points="546.75,103.25 550.25,110.25 543.25,110.25" fill="#0000ff"/>
<polygon points="557,97 560.5,104 553.5,104" fill="#0000ff"/>
<polygon points="567.25,92.75 570.75,99.75 563.75,99.75" fill="#0000ff"/>
<polygon points="577.5,99 581,106 574,106" fill="#0000ff"/>
<polygon points="581.6,100.25 585.1,107.25 578.1,107.25" fill="#0000ff"/>
<polyline points="581.6,159.2 587.75,159.8 598,161.8 608.25,175.4 618.5,176.9 628.75,171.4 639,171 649.25,178.5 659.5,178.5 669.75,178 680,177.5" fill="none" stroke="#000080" stroke-width="1.5" stroke-dasharray="1.5 2.4"/>
<circle cx="581.6" cy="159.2" r="3.3" fill="#000080"/>
<circle cx="587.75" cy="159.8" r="3.3" fill="#000080"/>
<circle cx="598" cy="161.8" r="3.3" fill="#000080"/>
<circle cx="608.25" cy="175.4" r="3.3" fill="#000080"/>
<circle cx="618.5" cy="176.9" r="3.3" fill="#000080"/>
<circle cx="628.75" cy="171.4" r="3.3" fill="#000080"/>
<circle cx="639" cy="171" r="3.3" fill="#000080"/>
<circle cx="649.25" cy="178.5" r="3.3" fill="#000080"/>
<circle cx="659.5" cy="178.5" r="3.3" fill="#000080"/>
<circle cx="669.75" cy="178" r="3.3" fill="#000080"/>
<circle cx="680" cy="177.5" r="3.3" fill="#000080"/>
<polyline points="581.6,115.2 587.75,115.8 598,121.8 608.25,126.5 618.5,127.5 628.75,136.3 639,143.8 649.25,156.8 659.5,162.7 669.75,169.3 680,175.4" fill="none" stroke="#4169e1" stroke-width="1.5" stroke-dasharray="1.5 2.4"/>
<polygon points="581.6,111.17 585.63,115.2 581.6,119.23 577.57,115.2" fill="#4169e1"/>
<polygon points="587.75,111.77 591.78,115.8 587.75,119.83 583.72,115.8" fill="#4169e1"/>
<polygon points="598,117.77 602.03,121.8 598,125.83 593.97,121.8" fill="#4169e1"/>
<polygon points="608.25,122.47 612.28,126.5 608.25,130.53 604.22,126.5" fill="#4169e1"/>
<polygon points="618.5,123.47 622.53,127.5 618.5,131.53 614.47,127.5" fill="#4169e1"/>
<polygon points="628.75,132.27 632.78,136.3 628.75,140.33 624.72,136.3" fill="#4169e1"/>
<polygon points="639,139.77 643.03,143.8 639,147.83 634.97,143.8" fill="#4169e1"/>
<polygon points="649.25,152.77 653.28,156.8 649.25,160.83 645.22,156.8" fill="#4169e1"/>
<polygon points="659.5,158.67 663.53,162.7 659.5,166.73 655.47,162.7" fill="#4169e1"/>
<polygon points="669.75,165.27 673.78,169.3 669.75,173.33 665.72,169.3" fill="#4169e1"/>
<polygon points="680,171.37 684.03,175.4 680,179.43 675.97,175.4" fill="#4169e1"/>
<polyline points="581.6,138 587.75,136.7 598,125.6 608.25,145.5 618.5,137 628.75,138.5 639,136.2 649.25,136.7 659.5,134.5 669.75,130.6 680,128.2" fill="none" stroke="#b0c4de" stroke-width="1.5" stroke-dasharray="1.5 2.4"/>
<rect x="578.3" y="134.7" width="6.6" height="6.6" fill="#b0c4de"/>
<rect x="584.45" y="133.4" width="6.6" height="6.6" fill="#b0c4de"/>
<rect x="594.7" y="122.3" width="6.6" height="6.6" fill="#b0c4de"/>
<rect x="604.95" y="142.2" width="6.6" height="6.6" fill="#b0c4de"/>
<rect x="615.2" y="133.7" width="6.6" height="6.6" fill="#b0c4de"/>
<rect x="625.45" y="135.2" width="6.6" height="6.6" fill="#b0c4de"/>
<rect x="635.7" y="132.9" width="6.6" height="6.6" fill="#b0c4de"/>
<rect x="645.95" y="133.4" width="6.6" height="6.6" fill="#b0c4de"/>
<rect x="656.2" y="131.2" width="6.6" height="6.6" fill="#b0c4de"/>
<rect x="666.45" y="127.3" width="6.6" height="6.6" fill="#b0c4de"/>
<rect x="676.7" y="124.9" width="6.6" height="6.6" fill="#b0c4de"/>
<polyline points="423.75,188.5 434,188.5 444.25,188.5 454.5,188.5 464.75,188.5 475,188.5 485.25,188.2 495.5,188 505.75,187.7 516,187.4 526.25,187 536.5,186.6 546.75,186.3 557,186 567.25,186 577.5,193 581.6,194.2" fill="none" stroke="#ff0000" stroke-width="1.5" stroke-dasharray="1.5 2.4"/>
<polygon points="420.25,188.5 427.25,185 427.25,192" fill="#ff0000"/>
<polygon points="430.5,188.5 437.5,185 437.5,192" fill="#ff0000"/>
<polygon points="440.75,188.5 447.75,185 447.75,192" fill="#ff0000"/>
<polygon points="451,188.5 458,185 458,192" fill="#ff0000"/>
<polygon points="461.25,188.5 468.25,185 468.25,192" fill="#ff0000"/>
<polygon points="471.5,188.5 478.5,185 478.5,192" fill="#ff0000"/>
<polygon points="481.75,188.2 488.75,184.7 488.75,191.7" fill="#ff0000"/>
<polygon points="492,188 499,184.5 499,191.5" fill="#ff0000"/>
<polygon points="502.25,187.7 509.25,184.2 509.25,191.2" fill="#ff0000"/>
<polygon points="512.5,187.4 519.5,183.9 519.5,190.9" fill="#ff0000"/>
<polygon points="522.75,187 529.75,183.5 529.75,190.5" fill="#ff0000"/>
<polygon points="533,186.6 540,183.1 540,190.1" fill="#ff0000"/>
<polygon points="543.25,186.3 550.25,182.8 550.25,189.8" fill="#ff0000"/>
<polygon points="553.5,186 560.5,182.5 560.5,189.5" fill="#ff0000"/>
<polygon points="563.75,186 570.75,182.5 570.75,189.5" fill="#ff0000"/>
<polygon points="574,193 581,189.5 581,196.5" fill="#ff0000"/>
<polygon points="578.1,194.2 585.1,190.7 585.1,197.7" fill="#ff0000"/>
<polyline points="581.6,227.7 587.75,225.7 598,222.2 608.25,225.3 618.5,222.6 628.75,221.6 639,220.5 649.25,221.2 659.5,218.6 669.75,216.5 680,215.5" fill="none" stroke="#ff0000" stroke-width="1.5" stroke-dasharray="1.5 2.4"/>
<polygon points="578.1,227.7 585.1,224.2 585.1,231.2" fill="#ff0000"/>
<polygon points="584.25,225.7 591.25,222.2 591.25,229.2" fill="#ff0000"/>
<polygon points="594.5,222.2 601.5,218.7 601.5,225.7" fill="#ff0000"/>
<polygon points="604.75,225.3 611.75,221.8 611.75,228.8" fill="#ff0000"/>
<polygon points="615,222.6 622,219.1 622,226.1" fill="#ff0000"/>
<polygon points="625.25,221.6 632.25,218.1 632.25,225.1" fill="#ff0000"/>
<polygon points="635.5,220.5 642.5,217 642.5,224" fill="#ff0000"/>
<polygon points="645.75,221.2 652.75,217.7 652.75,224.7" fill="#ff0000"/>
<polygon points="656,218.6 663,215.1 663,222.1" fill="#ff0000"/>
<polygon points="666.25,216.5 673.25,213 673.25,220" fill="#ff0000"/>
<polygon points="676.5,215.5 683.5,212 683.5,219" fill="#ff0000"/>
<polyline points="423.75,188 434,188 444.25,188 454.5,188 464.75,188 475,188 485.25,187.6 495.5,187.3 505.75,187 516,186.7 526.25,186.3 536.5,186 546.75,185.7 557,185.5 567.25,185.5 577.5,190 581.6,191" fill="none" stroke="#f08080" stroke-width="1.5" stroke-dasharray="1.5 2.4"/>
<polygon points="427.25,188 420.25,184.5 420.25,191.5" fill="#f08080"/>
<polygon points="437.5,188 430.5,184.5 430.5,191.5" fill="#f08080"/>
<polygon points="447.75,188 440.75,184.5 440.75,191.5" fill="#f08080"/>
<polygon points="458,188 451,184.5 451,191.5" fill="#f08080"/>
<polygon points="468.25,188 461.25,184.5 461.25,191.5" fill="#f08080"/>
<polygon points="478.5,188 471.5,184.5 471.5,191.5" fill="#f08080"/>
<polygon points="488.75,187.6 481.75,184.1 481.75,191.1" fill="#f08080"/>
<polygon points="499,187.3 492,183.8 492,190.8" fill="#f08080"/>
<polygon points="509.25,187 502.25,183.5 502.25,190.5" fill="#f08080"/>
<polygon points="519.5,186.7 512.5,183.2 512.5,190.2" fill="#f08080"/>
<polygon points="529.75,186.3 522.75,182.8 522.75,189.8" fill="#f08080"/>
<polygon points="540,186 533,182.5 533,189.5" fill="#f08080"/>
<polygon points="550.25,185.7 543.25,182.2 543.25,189.2" fill="#f08080"/>
<polygon points="560.5,185.5 553.5,182 553.5,189" fill="#f08080"/>
<polygon points="570.75,185.5 563.75,182 563.75,189" fill="#f08080"/>
<polygon points="581,190 574,186.5 574,193.5" fill="#f08080"/>
<polygon points="585.1,191 578.1,187.5 578.1,194.5" fill="#f08080"/>
<polyline points="581.6,236.5 587.75,237.5 598,227.7 608.25,244 618.5,235.2 628.75,237.5 639,234.9 649.25,239.5 659.5,237.9 669.75,235.5 680,233.4" fill="none" stroke="#f08080" stroke-width="1.5" stroke-dasharray="1.5 2.4"/>
<polygon points="585.1,236.5 578.1,233 578.1,240" fill="#f08080"/>
<polygon points="591.25,237.5 584.25,234 584.25,241" fill="#f08080"/>
<polygon points="601.5,227.7 594.5,224.2 594.5,231.2" fill="#f08080"/>
<polygon points="611.75,244 604.75,240.5 604.75,247.5" fill="#f08080"/>
<polygon points="622,235.2 615,231.7 615,238.7" fill="#f08080"/>
<polygon points="632.25,237.5 625.25,234 625.25,241" fill="#f08080"/>
<polygon points="642.5,234.9 635.5,231.4 635.5,238.4" fill="#f08080"/>
<polygon points="652.75,239.5 645.75,236 645.75,243" fill="#f08080"/>
<polygon points="663,237.9 656,234.4 656,241.4" fill="#f08080"/>
<polygon points="673.25,235.5 666.25,232 666.25,239" fill="#f08080"/>
<polygon points="683.5,233.4 676.5,229.9 676.5,236.9" fill="#f08080"/>
<polyline points="423.75,184.3 434,184.2 444.25,184 454.5,183.6 464.75,183 475,182 485.25,180.3 495.5,179.3 505.75,178 516,177 526.25,175.7 536.5,174.7 546.75,173 557,170.6 567.25,169.3 577.5,182 581.6,182.5" fill="none" stroke="#ff9a10" stroke-width="1.5" stroke-dasharray="1.5 2.4"/>
<polygon points="423.75,180.27 427.78,184.3 423.75,188.33 419.72,184.3" fill="#ff9a10"/>
<polygon points="434,180.17 438.03,184.2 434,188.23 429.97,184.2" fill="#ff9a10"/>
<polygon points="444.25,179.97 448.28,184 444.25,188.03 440.22,184" fill="#ff9a10"/>
<polygon points="454.5,179.57 458.53,183.6 454.5,187.63 450.47,183.6" fill="#ff9a10"/>
<polygon points="464.75,178.97 468.78,183 464.75,187.03 460.72,183" fill="#ff9a10"/>
<polygon points="475,177.97 479.03,182 475,186.03 470.97,182" fill="#ff9a10"/>
<polygon points="485.25,176.27 489.28,180.3 485.25,184.33 481.22,180.3" fill="#ff9a10"/>
<polygon points="495.5,175.27 499.53,179.3 495.5,183.33 491.47,179.3" fill="#ff9a10"/>
<polygon points="505.75,173.97 509.78,178 505.75,182.03 501.72,178" fill="#ff9a10"/>
<polygon points="516,172.97 520.03,177 516,181.03 511.97,177" fill="#ff9a10"/>
<polygon points="526.25,171.67 530.28,175.7 526.25,179.73 522.22,175.7" fill="#ff9a10"/>
<polygon points="536.5,170.67 540.53,174.7 536.5,178.73 532.47,174.7" fill="#ff9a10"/>
<polygon points="546.75,168.97 550.78,173 546.75,177.03 542.72,173" fill="#ff9a10"/>
<polygon points="557,166.57 561.03,170.6 557,174.63 552.97,170.6" fill="#ff9a10"/>
<polygon points="567.25,165.27 571.28,169.3 567.25,173.33 563.22,169.3" fill="#ff9a10"/>
<polygon points="577.5,177.97 581.53,182 577.5,186.03 573.47,182" fill="#ff9a10"/>
<polygon points="581.6,178.47 585.63,182.5 581.6,186.53 577.57,182.5" fill="#ff9a10"/>
<polyline points="581.6,188 587.75,191 598,191 608.25,209.4 618.5,207 628.75,215.5 639,217 649.25,218.6 659.5,221.2 669.75,222.6 680,224.7" fill="none" stroke="#ff9a10" stroke-width="1.5" stroke-dasharray="1.5 2.4"/>
<polygon points="581.6,183.97 585.63,188 581.6,192.03 577.57,188" fill="#ff9a10"/>
<polygon points="587.75,186.97 591.78,191 587.75,195.03 583.72,191" fill="#ff9a10"/>
<polygon points="598,186.97 602.03,191 598,195.03 593.97,191" fill="#ff9a10"/>
<polygon points="608.25,205.37 612.28,209.4 608.25,213.43 604.22,209.4" fill="#ff9a10"/>
<polygon points="618.5,202.97 622.53,207 618.5,211.03 614.47,207" fill="#ff9a10"/>
<polygon points="628.75,211.47 632.78,215.5 628.75,219.53 624.72,215.5" fill="#ff9a10"/>
<polygon points="639,212.97 643.03,217 639,221.03 634.97,217" fill="#ff9a10"/>
<polygon points="649.25,214.57 653.28,218.6 649.25,222.63 645.22,218.6" fill="#ff9a10"/>
<polygon points="659.5,217.17 663.53,221.2 659.5,225.23 655.47,221.2" fill="#ff9a10"/>
<polygon points="669.75,218.57 673.78,222.6 669.75,226.63 665.72,222.6" fill="#ff9a10"/>
<polygon points="680,220.67 684.03,224.7 680,228.73 675.97,224.7" fill="#ff9a10"/>
<polyline points="423.75,189.3 434,189.3 444.25,189.3 454.5,189.3 464.75,189.3 475,189.3 485.25,188.6 495.5,188 505.75,187.4 516,186.8 526.25,186.2 536.5,185.6 546.75,185.2 557,185 567.25,185 577.5,188 581.6,189" fill="none" stroke="#ffff00" stroke-width="1.5" stroke-dasharray="1.5 2.4"/>
<polygon points="423.75,185.73 427.15,188.2 425.85,192.19 421.65,192.19 420.35,188.2" fill="#ffff00"/>
<polygon points="434,185.73 437.4,188.2 436.1,192.19 431.9,192.19 430.6,188.2" fill="#ffff00"/>
<polygon points="444.25,185.73 447.65,188.2 446.35,192.19 442.15,192.19 440.85,188.2" fill="#ffff00"/>
<polygon points="454.5,185.73 457.9,188.2 456.6,192.19 452.4,192.19 451.1,188.2" fill="#ffff00"/>
<polygon points="464.75,185.73 468.15,188.2 466.85,192.19 462.65,192.19 461.35,188.2" fill="#ffff00"/>
<polygon points="475,185.73 478.4,188.2 477.1,192.19 472.9,192.19 471.6,188.2" fill="#ffff00"/>
<polygon points="485.25,185.03 488.65,187.5 487.35,191.49 483.15,191.49 481.85,187.5" fill="#ffff00"/>
<polygon points="495.5,184.43 498.9,186.9 497.6,190.89 493.4,190.89 492.1,186.9" fill="#ffff00"/>
<polygon points="505.75,183.83 509.15,186.3 507.85,190.29 503.65,190.29 502.35,186.3" fill="#ffff00"/>
<polygon points="516,183.23 519.4,185.7 518.1,189.69 513.9,189.69 512.6,185.7" fill="#ffff00"/>
<polygon points="526.25,182.63 529.65,185.1 528.35,189.09 524.15,189.09 522.85,185.1" fill="#ffff00"/>
<polygon points="536.5,182.03 539.9,184.5 538.6,188.49 534.4,188.49 533.1,184.5" fill="#ffff00"/>
<polygon points="546.75,181.63 550.15,184.1 548.85,188.09 544.65,188.09 543.35,184.1" fill="#ffff00"/>
<polygon points="557,181.43 560.4,183.9 559.1,187.89 554.9,187.89 553.6,183.9" fill="#ffff00"/>
<polygon points="567.25,181.43 570.65,183.9 569.35,187.89 565.15,187.89 563.85,183.9" fill="#ffff00"/>
<polygon points="577.5,184.43 580.9,186.9 579.6,190.89 575.4,190.89 574.1,186.9" fill="#ffff00"/>
<polygon points="581.6,185.43 585,187.9 583.7,191.89 579.5,191.89 578.2,187.9" fill="#ffff00"/>
<polyline points="581.6,210 587.75,209.5 598,204.5 608.25,218 618.5,213.5 628.75,210.5 639,209 649.25,216 659.5,215 669.75,213.5 680,212" fill="none" stroke="#ffff00" stroke-width="1.5" stroke-dasharray="1.5 2.4"/>
<polygon points="581.6,206.43 585,208.9 583.7,212.89 579.5,212.89 578.2,208.9" fill="#ffff00"/>
<polygon points="587.75,205.93 591.15,208.4 589.85,212.39 585.65,212.39 584.35,208.4" fill="#ffff00"/>
<polygon points="598,200.93 601.4,203.4 600.1,207.39 595.9,207.39 594.6,203.4" fill="#ffff00"/>
<polygon points="608.25,214.43 611.65,216.9 610.35,220.89 606.15,220.89 604.85,216.9" fill="#ffff00"/>
<polygon points="618.5,209.93 621.9,212.4 620.6,216.39 616.4,216.39 615.1,212.4" fill="#ffff00"/>
<polygon points="628.75,206.93 632.15,209.4 630.85,213.39 626.65,213.39 625.35,209.4" fill="#ffff00"/>
<polygon points="639,205.43 642.4,207.9 641.1,211.89 636.9,211.89 635.6,207.9" fill="#ffff00"/>
<polygon points="649.25,212.43 652.65,214.9 651.35,218.89 647.15,218.89 645.85,214.9" fill="#ffff00"/>
<polygon points="659.5,211.43 662.9,213.9 661.6,217.89 657.4,217.89 656.1,213.9" fill="#ffff00"/>
<polygon points="669.75,209.93 673.15,212.4 671.85,216.39 667.65,216.39 666.35,212.4" fill="#ffff00"/>
<polygon points="680,208.43 683.4,210.9 682.1,214.89 677.9,214.89 676.6,210.9" fill="#ffff00"/>
<polyline points="581.6,210.4 587.75,209.8 598,204.7 608.25,218.6 618.5,214.5 628.75,211.5 639,209.8 649.25,217.6 659.5,216.5 669.75,215 680,213.5" fill="none" stroke="#ffd000" stroke-width="1.5" stroke-dasharray="1.5 2.4"/>
<polygon points="581.6,206.83 585,209.3 583.7,213.29 579.5,213.29 578.2,209.3" fill="#ffd000"/>
<polygon points="587.75,206.23 591.15,208.7 589.85,212.69 585.65,212.69 584.35,208.7" fill="#ffd000"/>
<polygon points="598,201.13 601.4,203.6 600.1,207.59 595.9,207.59 594.6,203.6" fill="#ffd000"/>
<polygon points="608.25,215.03 611.65,217.5 610.35,221.49 606.15,221.49 604.85,217.5" fill="#ffd000"/>
<polygon points="618.5,210.93 621.9,213.4 620.6,217.39 616.4,217.39 615.1,213.4" fill="#ffd000"/>
<polygon points="628.75,207.93 632.15,210.4 630.85,214.39 626.65,214.39 625.35,210.4" fill="#ffd000"/>
<polygon points="639,206.23 642.4,208.7 641.1,212.69 636.9,212.69 635.6,208.7" fill="#ffd000"/>
<polygon points="649.25,214.03 652.65,216.5 651.35,220.49 647.15,220.49 645.85,216.5" fill="#ffd000"/>
<polygon points="659.5,212.93 662.9,215.4 661.6,219.39 657.4,219.39 656.1,215.4" fill="#ffd000"/>
<polygon points="669.75,211.43 673.15,213.9 671.85,217.89 667.65,217.89 666.35,213.9" fill="#ffd000"/>
<polygon points="680,209.93 683.4,212.4 682.1,216.39 677.9,216.39 676.6,212.4" fill="#ffd000"/>
<polyline points="423.75,182.4 434,182.4 444.25,182.4 454.5,182.4 464.75,182.4 475,182.4 485.25,182 495.5,181.9 505.75,181.8 516,181.7 526.25,181.6 536.5,181.5 546.75,181.5 557,181.5 567.25,181.5 577.5,184 581.6,184.3" fill="none" stroke="#da70d6" stroke-width="1.5" stroke-dasharray="1.5 2.4"/>
<polygon points="423.75,178.37 427.78,182.4 423.75,186.43 419.72,182.4" fill="#da70d6"/>
<polygon points="434,178.37 438.03,182.4 434,186.43 429.97,182.4" fill="#da70d6"/>
<polygon points="444.25,178.37 448.28,182.4 444.25,186.43 440.22,182.4" fill="#da70d6"/>
<polygon points="454.5,178.37 458.53,182.4 454.5,186.43 450.47,182.4" fill="#da70d6"/>
<polygon points="464.75,178.37 468.78,182.4 464.75,186.43 460.72,182.4" fill="#da70d6"/>
<polygon points="475,178.37 479.03,182.4 475,186.43 470.97,182.4" fill="#da70d6"/>
<polygon points="485.25,177.97 489.28,182 485.25,186.03 481.22,182" fill="#da70d6"/>
<polygon points="495.5,177.87 499.53,181.9 495.5,185.93 491.47,181.9" fill="#da70d6"/>
<polygon points="505.75,177.77 509.78,181.8 505.75,185.83 501.72,181.8" fill="#da70d6"/>
<polygon points="516,177.67 520.03,181.7 516,185.73 511.97,181.7" fill="#da70d6"/>
<polygon points="526.25,177.57 530.28,181.6 526.25,185.63 522.22,181.6" fill="#da70d6"/>
<polygon points="536.5,177.47 540.53,181.5 536.5,185.53 532.47,181.5" fill="#da70d6"/>
<polygon points="546.75,177.47 550.78,181.5 546.75,185.53 542.72,181.5" fill="#da70d6"/>
<polygon points="557,177.47 561.03,181.5 557,185.53 552.97,181.5" fill="#da70d6"/>
<polygon points="567.25,177.47 571.28,181.5 567.25,185.53 563.22,181.5" fill="#da70d6"/>
<polygon points="577.5,179.97 581.53,184 577.5,188.03 573.47,184" fill="#da70d6"/>
<polygon points="581.6,180.27 585.63,184.3 581.6,188.33 577.57,184.3" fill="#da70d6"/>
<polyline points="581.6,183.5 587.75,183 598,179 608.25,180.5 618.5,183 628.75,182.5 639,183 649.25,181 659.5,182 669.75,183 680,184" fill="none" stroke="#da70d6" stroke-width="1.5" stroke-dasharray="1.5 2.4"/>
<polygon points="581.6,179.47 585.63,183.5 581.6,187.53 577.57,183.5" fill="#da70d6"/>
<polygon points="587.75,178.97 591.78,183 587.75,187.03 583.72,183" fill="#da70d6"/>
<polygon points="598,174.97 602.03,179 598,183.03 593.97,179" fill="#da70d6"/>
<polygon points="608.25,176.47 612.28,180.5 608.25,184.53 604.22,180.5" fill="#da70d6"/>
<polygon points="618.5,178.97 622.53,183 618.5,187.03 614.47,183" fill="#da70d6"/>
<polygon points="628.75,178.47 632.78,182.5 628.75,186.53 624.72,182.5" fill="#da70d6"/>
<polygon points="639,178.97 643.03,183 639,187.03 634.97,183" fill="#da70d6"/>
<polygon points="649.25,176.97 653.28,181 649.25,185.03 645.22,181" fill="#da70d6"/>
<polygon points="659.5,177.97 663.53,182 659.5,186.03 655.47,182" fill="#da70d6"/>
<polygon points="669.75,178.97 673.78,183 669.75,187.03 665.72,183" fill="#da70d6"/>
<polygon points="680,179.97 684.03,184 680,188.03 675.97,184" fill="#da70d6"/>
<polyline points="423.75,188.6 434,188.6 444.25,188.6 454.5,188.6 464.75,188.6 475,188.6 485.25,188.2 495.5,187.8 505.75,187.4 516,187 526.25,186.5 536.5,186 546.75,185.6 557,185.3 567.25,185 577.5,188 581.6,189.5" fill="none" stroke="#9400d3" stroke-width="1.5" stroke-dasharray="1.5 2.4"/>
<polygon points="422.53,185.4 424.97,185.4 424.97,187.38 426.95,187.38 426.95,189.82 424.97,189.82 424.97,191.8 422.53,191.8 422.53,189.82 420.55,189.82 420.55,187.38 422.53,187.38" fill="#9400d3"/>
<polygon points="432.78,185.4 435.22,185.4 435.22,187.38 437.2,187.38 437.2,189.82 435.22,189.82 435.22,191.8 432.78,191.8 432.78,189.82 430.8,189.82 430.8,187.38 432.78,187.38" fill="#9400d3"/>
<polygon points="443.03,185.4 445.47,185.4 445.47,187.38 447.45,187.38 447.45,189.82 445.47,189.82 445.47,191.8 443.03,191.8 443.03,189.82 441.05,189.82 441.05,187.38 443.03,187.38" fill="#9400d3"/>
<polygon points="453.28,185.4 455.72,185.4 455.72,187.38 457.7,187.38 457.7,189.82 455.72,189.82 455.72,191.8 453.28,191.8 453.28,189.82 451.3,189.82 451.3,187.38 453.28,187.38" fill="#9400d3"/>
<polygon points="463.53,185.4 465.97,185.4 465.97,187.38 467.95,187.38 467.95,189.82 465.97,189.82 465.97,191.8 463.53,191.8 463.53,189.82 461.55,189.82 461.55,187.38 463.53,187.38" fill="#9400d3"/>
<polygon points="473.78,185.4 476.22,185.4 476.22,187.38 478.2,187.38 478.2,189.82 476.22,189.82 476.22,191.8 473.78,191.8 473.78,189.82 471.8,189.82 471.8,187.38 473.78,187.38" fill="#9400d3"/>
<polygon points="484.03,185 486.47,185 486.47,186.98 488.45,186.98 488.45,189.42 486.47,189.42 486.47,191.4 484.03,191.4 484.03,189.42 482.05,189.42 482.05,186.98 484.03,186.98" fill="#9400d3"/>
<polygon points="494.28,184.6 496.72,184.6 496.72,186.58 498.7,186.58 498.7,189.02 496.72,189.02 496.72,191 494.28,191 494.28,189.02 492.3,189.02 492.3,186.58 494.28,186.58" fill="#9400d3"/>
<polygon points="504.53,184.2 506.97,184.2 506.97,186.18 508.95,186.18 508.95,188.62 506.97,188.62 506.97,190.6 504.53,190.6 504.53,188.62 502.55,188.62 502.55,186.18 504.53,186.18" fill="#9400d3"/>
<polygon points="514.78,183.8 517.22,183.8 517.22,185.78 519.2,185.78 519.2,188.22 517.22,188.22 517.22,190.2 514.78,190.2 514.78,188.22 512.8,188.22 512.8,185.78 514.78,185.78" fill="#9400d3"/>
<polygon points="525.03,183.3 527.47,183.3 527.47,185.28 529.45,185.28 529.45,187.72 527.47,187.72 527.47,189.7 525.03,189.7 525.03,187.72 523.05,187.72 523.05,185.28 525.03,185.28" fill="#9400d3"/>
<polygon points="535.28,182.8 537.72,182.8 537.72,184.78 539.7,184.78 539.7,187.22 537.72,187.22 537.72,189.2 535.28,189.2 535.28,187.22 533.3,187.22 533.3,184.78 535.28,184.78" fill="#9400d3"/>
<polygon points="545.53,182.4 547.97,182.4 547.97,184.38 549.95,184.38 549.95,186.82 547.97,186.82 547.97,188.8 545.53,188.8 545.53,186.82 543.55,186.82 543.55,184.38 545.53,184.38" fill="#9400d3"/>
<polygon points="555.78,182.1 558.22,182.1 558.22,184.08 560.2,184.08 560.2,186.52 558.22,186.52 558.22,188.5 555.78,188.5 555.78,186.52 553.8,186.52 553.8,184.08 555.78,184.08" fill="#9400d3"/>
<polygon points="566.03,181.8 568.47,181.8 568.47,183.78 570.45,183.78 570.45,186.22 568.47,186.22 568.47,188.2 566.03,188.2 566.03,186.22 564.05,186.22 564.05,183.78 566.03,183.78" fill="#9400d3"/>
<polygon points="576.28,184.8 578.72,184.8 578.72,186.78 580.7,186.78 580.7,189.22 578.72,189.22 578.72,191.2 576.28,191.2 576.28,189.22 574.3,189.22 574.3,186.78 576.28,186.78" fill="#9400d3"/>
<polygon points="580.38,186.3 582.82,186.3 582.82,188.28 584.8,188.28 584.8,190.72 582.82,190.72 582.82,192.7 580.38,192.7 580.38,190.72 578.4,190.72 578.4,188.28 580.38,188.28" fill="#9400d3"/>
<polyline points="581.6,135.7 587.75,131.2 598,128.2 608.25,135.3 618.5,131.6 628.75,125.5 639,123.5 649.25,134.7 659.5,133.7 669.75,132.6 680,131.6" fill="none" stroke="#9400d3" stroke-width="1.5" stroke-dasharray="1.5 2.4"/>
<polygon points="580.38,132.5 582.82,132.5 582.82,134.48 584.8,134.48 584.8,136.92 582.82,136.92 582.82,138.9 580.38,138.9 580.38,136.92 578.4,136.92 578.4,134.48 580.38,134.48" fill="#9400d3"/>
<polygon points="586.53,128 588.97,128 588.97,129.98 590.95,129.98 590.95,132.42 588.97,132.42 588.97,134.4 586.53,134.4 586.53,132.42 584.55,132.42 584.55,129.98 586.53,129.98" fill="#9400d3"/>
<polygon points="596.78,125 599.22,125 599.22,126.98 601.2,126.98 601.2,129.42 599.22,129.42 599.22,131.4 596.78,131.4 596.78,129.42 594.8,129.42 594.8,126.98 596.78,126.98" fill="#9400d3"/>
<polygon points="607.03,132.1 609.47,132.1 609.47,134.08 611.45,134.08 611.45,136.52 609.47,136.52 609.47,138.5 607.03,138.5 607.03,136.52 605.05,136.52 605.05,134.08 607.03,134.08" fill="#9400d3"/>
<polygon points="617.28,128.4 619.72,128.4 619.72,130.38 621.7,130.38 621.7,132.82 619.72,132.82 619.72,134.8 617.28,134.8 617.28,132.82 615.3,132.82 615.3,130.38 617.28,130.38" fill="#9400d3"/>
<polygon points="627.53,122.3 629.97,122.3 629.97,124.28 631.95,124.28 631.95,126.72 629.97,126.72 629.97,128.7 627.53,128.7 627.53,126.72 625.55,126.72 625.55,124.28 627.53,124.28" fill="#9400d3"/>
<polygon points="637.78,120.3 640.22,120.3 640.22,122.28 642.2,122.28 642.2,124.72 640.22,124.72 640.22,126.7 637.78,126.7 637.78,124.72 635.8,124.72 635.8,122.28 637.78,122.28" fill="#9400d3"/>
<polygon points="648.03,131.5 650.47,131.5 650.47,133.48 652.45,133.48 652.45,135.92 650.47,135.92 650.47,137.9 648.03,137.9 648.03,135.92 646.05,135.92 646.05,133.48 648.03,133.48" fill="#9400d3"/>
<polygon points="658.28,130.5 660.72,130.5 660.72,132.48 662.7,132.48 662.7,134.92 660.72,134.92 660.72,136.9 658.28,136.9 658.28,134.92 656.3,134.92 656.3,132.48 658.28,132.48" fill="#9400d3"/>
<polygon points="668.53,129.4 670.97,129.4 670.97,131.38 672.95,131.38 672.95,133.82 670.97,133.82 670.97,135.8 668.53,135.8 668.53,133.82 666.55,133.82 666.55,131.38 668.53,131.38" fill="#9400d3"/>
<polygon points="678.78,128.4 681.22,128.4 681.22,130.38 683.2,130.38 683.2,132.82 681.22,132.82 681.22,134.8 678.78,134.8 678.78,132.82 676.8,132.82 676.8,130.38 678.78,130.38" fill="#9400d3"/>
<polyline points="581.6,186.8 587.75,186.6 598,186.2 608.25,187.6 618.5,187 628.75,186.8 639,186.6 649.25,186.6 659.5,186.8 669.75,187 680,187.2" fill="none" stroke="#ffb6c1" stroke-width="1.5" stroke-dasharray="1.5 2.4"/>
<polygon points="580.35,183.5 582.85,183.5 582.85,185.55 584.9,185.55 584.9,188.05 582.85,188.05 582.85,190.1 580.35,190.1 580.35,188.05 578.3,188.05 578.3,185.55 580.35,185.55" fill="#ffb6c1" transform="rotate(45 581.6 186.8)"/>
<polygon points="586.5,183.3 589,183.3 589,185.35 591.05,185.35 591.05,187.85 589,187.85 589,189.9 586.5,189.9 586.5,187.85 584.45,187.85 584.45,185.35 586.5,185.35" fill="#ffb6c1" transform="rotate(45 587.75 186.6)"/>
<polygon points="596.75,182.9 599.25,182.9 599.25,184.95 601.3,184.95 601.3,187.45 599.25,187.45 599.25,189.5 596.75,189.5 596.75,187.45 594.7,187.45 594.7,184.95 596.75,184.95" fill="#ffb6c1" transform="rotate(45 598 186.2)"/>
<polygon points="607,184.3 609.5,184.3 609.5,186.35 611.55,186.35 611.55,188.85 609.5,188.85 609.5,190.9 607,190.9 607,188.85 604.95,188.85 604.95,186.35 607,186.35" fill="#ffb6c1" transform="rotate(45 608.25 187.6)"/>
<polygon points="617.25,183.7 619.75,183.7 619.75,185.75 621.8,185.75 621.8,188.25 619.75,188.25 619.75,190.3 617.25,190.3 617.25,188.25 615.2,188.25 615.2,185.75 617.25,185.75" fill="#ffb6c1" transform="rotate(45 618.5 187)"/>
<polygon points="627.5,183.5 630,183.5 630,185.55 632.05,185.55 632.05,188.05 630,188.05 630,190.1 627.5,190.1 627.5,188.05 625.45,188.05 625.45,185.55 627.5,185.55" fill="#ffb6c1" transform="rotate(45 628.75 186.8)"/>
<polygon points="637.75,183.3 640.25,183.3 640.25,185.35 642.3,185.35 642.3,187.85 640.25,187.85 640.25,189.9 637.75,189.9 637.75,187.85 635.7,187.85 635.7,185.35 637.75,185.35" fill="#ffb6c1" transform="rotate(45 639 186.6)"/>
<polygon points="648,183.3 650.5,183.3 650.5,185.35 652.55,185.35 652.55,187.85 650.5,187.85 650.5,189.9 648,189.9 648,187.85 645.95,187.85 645.95,185.35 648,185.35" fill="#ffb6c1" transform="rotate(45 649.25 186.6)"/>
<polygon points="658.25,183.5 660.75,183.5 660.75,185.55 662.8,185.55 662.8,188.05 660.75,188.05 660.75,190.1 658.25,190.1 658.25,188.05 656.2,188.05 656.2,185.55 658.25,185.55" fill="#ffb6c1" transform="rotate(45 659.5 186.8)"/>
<polygon points="668.5,183.7 671,183.7 671,185.75 673.05,185.75 673.05,188.25 671,188.25 671,190.3 668.5,190.3 668.5,188.25 666.45,188.25 666.45,185.75 668.5,185.75" fill="#ffb6c1" transform="rotate(45 669.75 187)"/>
<polygon points="678.75,183.9 681.25,183.9 681.25,185.95 683.3,185.95 683.3,188.45 681.25,188.45 681.25,190.5 678.75,190.5 678.75,188.45 676.7,188.45 676.7,185.95 678.75,185.95" fill="#ffb6c1" transform="rotate(45 680 187.2)"/>
<polyline points="423.75,187 434,187 444.25,187 454.5,187 464.75,187 475,187 485.25,186.5 495.5,186.2 505.75,185.8 516,185.4 526.25,185 536.5,184.5 546.75,184 557,183.7 567.25,183.5 577.5,189 581.6,190.8" fill="none" stroke="#00ffff" stroke-width="1.5" stroke-dasharray="1.5 2.4"/>
<polygon points="423.75,183.26 424.65,185.76 427.31,185.84 425.21,187.47 425.95,190.03 423.75,188.53 421.55,190.03 422.29,187.47 420.19,185.84 422.85,185.76" fill="#00ffff"/>
<polygon points="434,183.26 434.9,185.76 437.56,185.84 435.46,187.47 436.2,190.03 434,188.53 431.8,190.03 432.54,187.47 430.44,185.84 433.1,185.76" fill="#00ffff"/>
<polygon points="444.25,183.26 445.15,185.76 447.81,185.84 445.71,187.47 446.45,190.03 444.25,188.53 442.05,190.03 442.79,187.47 440.69,185.84 443.35,185.76" fill="#00ffff"/>
<polygon points="454.5,183.26 455.4,185.76 458.06,185.84 455.96,187.47 456.7,190.03 454.5,188.53 452.3,190.03 453.04,187.47 450.94,185.84 453.6,185.76" fill="#00ffff"/>
<polygon points="464.75,183.26 465.65,185.76 468.31,185.84 466.21,187.47 466.95,190.03 464.75,188.53 462.55,190.03 463.29,187.47 461.19,185.84 463.85,185.76" fill="#00ffff"/>
<polygon points="475,183.26 475.9,185.76 478.56,185.84 476.46,187.47 477.2,190.03 475,188.53 472.8,190.03 473.54,187.47 471.44,185.84 474.1,185.76" fill="#00ffff"/>
<polygon points="485.25,182.76 486.15,185.26 488.81,185.34 486.71,186.97 487.45,189.53 485.25,188.03 483.05,189.53 483.79,186.97 481.69,185.34 484.35,185.26" fill="#00ffff"/>
<polygon points="495.5,182.46 496.4,184.96 499.06,185.04 496.96,186.67 497.7,189.23 495.5,187.73 493.3,189.23 494.04,186.67 491.94,185.04 494.6,184.96" fill="#00ffff"/>
<polygon points="505.75,182.06 506.65,184.56 509.31,184.64 507.21,186.27 507.95,188.83 505.75,187.33 503.55,188.83 504.29,186.27 502.19,184.64 504.85,184.56" fill="#00ffff"/>
<polygon points="516,181.66 516.9,184.16 519.56,184.24 517.46,185.87 518.2,188.43 516,186.93 513.8,188.43 514.54,185.87 512.44,184.24 515.1,184.16" fill="#00ffff"/>
<polygon points="526.25,181.26 527.15,183.76 529.81,183.84 527.71,185.47 528.45,188.03 526.25,186.53 524.05,188.03 524.79,185.47 522.69,183.84 525.35,183.76" fill="#00ffff"/>
<polygon points="536.5,180.76 537.4,183.26 540.06,183.34 537.96,184.97 538.7,187.53 536.5,186.03 534.3,187.53 535.04,184.97 532.94,183.34 535.6,183.26" fill="#00ffff"/>
<polygon points="546.75,180.26 547.65,182.76 550.31,182.84 548.21,184.47 548.95,187.03 546.75,185.53 544.55,187.03 545.29,184.47 543.19,182.84 545.85,182.76" fill="#00ffff"/>
<polygon points="557,179.96 557.9,182.46 560.56,182.54 558.46,184.17 559.2,186.73 557,185.23 554.8,186.73 555.54,184.17 553.44,182.54 556.1,182.46" fill="#00ffff"/>
<polygon points="567.25,179.76 568.15,182.26 570.81,182.34 568.71,183.97 569.45,186.53 567.25,185.03 565.05,186.53 565.79,183.97 563.69,182.34 566.35,182.26" fill="#00ffff"/>
<polygon points="577.5,185.26 578.4,187.76 581.06,187.84 578.96,189.47 579.7,192.03 577.5,190.53 575.3,192.03 576.04,189.47 573.94,187.84 576.6,187.76" fill="#00ffff"/>
<polygon points="581.6,187.06 582.5,189.56 585.16,189.64 583.06,191.27 583.8,193.83 581.6,192.33 579.4,193.83 580.14,191.27 578.04,189.64 580.7,189.56" fill="#00ffff"/>
<polyline points="581.6,239 587.75,241.6 598,233.8 608.25,258.2 618.5,244.6 628.75,244 639,240.6 649.25,252.5 659.5,249.7 669.75,245.6 680,241.6" fill="none" stroke="#00ffff" stroke-width="1.5" stroke-dasharray="1.5 2.4"/>
<polygon points="581.6,235.26 582.5,237.76 585.16,237.84 583.06,239.47 583.8,242.03 581.6,240.53 579.4,242.03 580.14,239.47 578.04,237.84 580.7,237.76" fill="#00ffff"/>
<polygon points="587.75,237.86 588.65,240.36 591.31,240.44 589.21,242.07 589.95,244.63 587.75,243.13 585.55,244.63 586.29,242.07 584.19,240.44 586.85,240.36" fill="#00ffff"/>
<polygon points="598,230.06 598.9,232.56 601.56,232.64 599.46,234.27 600.2,236.83 598,235.33 595.8,236.83 596.54,234.27 594.44,232.64 597.1,232.56" fill="#00ffff"/>
<polygon points="608.25,254.46 609.15,256.96 611.81,257.04 609.71,258.67 610.45,261.23 608.25,259.73 606.05,261.23 606.79,258.67 604.69,257.04 607.35,256.96" fill="#00ffff"/>
<polygon points="618.5,240.86 619.4,243.36 622.06,243.44 619.96,245.07 620.7,247.63 618.5,246.13 616.3,247.63 617.04,245.07 614.94,243.44 617.6,243.36" fill="#00ffff"/>
<polygon points="628.75,240.26 629.65,242.76 632.31,242.84 630.21,244.47 630.95,247.03 628.75,245.53 626.55,247.03 627.29,244.47 625.19,242.84 627.85,242.76" fill="#00ffff"/>
<polygon points="639,236.86 639.9,239.36 642.56,239.44 640.46,241.07 641.2,243.63 639,242.13 636.8,243.63 637.54,241.07 635.44,239.44 638.1,239.36" fill="#00ffff"/>
<polygon points="649.25,248.76 650.15,251.26 652.81,251.34 650.71,252.97 651.45,255.53 649.25,254.03 647.05,255.53 647.79,252.97 645.69,251.34 648.35,251.26" fill="#00ffff"/>
<polygon points="659.5,245.96 660.4,248.46 663.06,248.54 660.96,250.17 661.7,252.73 659.5,251.23 657.3,252.73 658.04,250.17 655.94,248.54 658.6,248.46" fill="#00ffff"/>
<polygon points="669.75,241.86 670.65,244.36 673.31,244.44 671.21,246.07 671.95,248.63 669.75,247.13 667.55,248.63 668.29,246.07 666.19,244.44 668.85,244.36" fill="#00ffff"/>
<polygon points="680,237.86 680.9,240.36 683.56,240.44 681.46,242.07 682.2,244.63 680,243.13 677.8,244.63 678.54,242.07 676.44,240.44 679.1,240.36" fill="#00ffff"/>
<polyline points="581.6,183 587.75,182.5 598,178 608.25,179.5 618.5,182.5 628.75,182 639,182.5 649.25,180 659.5,181.5 669.75,182.5 680,183.5" fill="none" stroke="#da70d6" stroke-width="1.5" stroke-dasharray="1.5 2.4"/>
<polygon points="581.6,179.43 584.69,181.22 584.69,184.78 581.6,186.57 578.51,184.78 578.51,181.22" fill="#da70d6"/>
<polygon points="587.75,178.93 590.84,180.72 590.84,184.28 587.75,186.07 584.66,184.28 584.66,180.72" fill="#da70d6"/>
<polygon points="598,174.43 601.09,176.22 601.09,179.78 598,181.57 594.91,179.78 594.91,176.22" fill="#da70d6"/>
<polygon points="608.25,175.93 611.34,177.72 611.34,181.28 608.25,183.07 605.16,181.28 605.16,177.72" fill="#da70d6"/>
<polygon points="618.5,178.93 621.59,180.72 621.59,184.28 618.5,186.07 615.41,184.28 615.41,180.72" fill="#da70d6"/>
<polygon points="628.75,178.43 631.84,180.22 631.84,183.78 628.75,185.57 625.66,183.78 625.66,180.22" fill="#da70d6"/>
<polygon points="639,178.93 642.09,180.72 642.09,184.28 639,186.07 635.91,184.28 635.91,180.72" fill="#da70d6"/>
<polygon points="649.25,176.43 652.34,178.22 652.34,181.78 649.25,183.57 646.16,181.78 646.16,178.22" fill="#da70d6"/>
<polygon points="659.5,177.93 662.59,179.72 662.59,183.28 659.5,185.07 656.41,183.28 656.41,179.72" fill="#da70d6"/>
<polygon points="669.75,178.93 672.84,180.72 672.84,184.28 669.75,186.07 666.66,184.28 666.66,180.72" fill="#da70d6"/>
<polygon points="680,179.93 683.09,181.72 683.09,185.28 680,187.07 676.91,185.28 676.91,181.72" fill="#da70d6"/>
<rect x="428.3" y="194.3" width="54.2" height="123" fill="#fff" stroke="#d0d0d0" stroke-width="0.8" rx="1.3" fill-opacity="0.8"/>
<polygon points="433.9,205.7 437.4,198.7 430.4,198.7" fill="#00ff00"/>
<text x="440" y="204.7" font-size="9.1" class="dv" fill="#1a1a1a"><tspan font-style="italic">J</tspan><tspan dy="2" font-size="6.1">2</tspan></text>
<circle cx="433.9" cy="215" r="3.3" fill="#228b22"/>
<text x="440" y="218.3" font-size="9.1" class="dv" fill="#1a1a1a"><tspan font-style="italic">J</tspan><tspan dx="0.5" dy="-2.2" font-size="9" class="ls" font-style="italic">′</tspan><tspan dx="-2.02" dy="4.2" font-size="6.1">2</tspan></text>
<polygon points="433.9,224.27 437.93,228.3 433.9,232.33 429.87,228.3" fill="#9acd32"/>
<text x="440" y="231.6" font-size="9.1" class="dv" fill="#1a1a1a"><tspan font-style="italic">J</tspan><tspan dx="0.5" dy="-2.2" font-size="9" class="ls" font-style="italic">′′</tspan><tspan dx="-3.74" dy="4.2" font-size="6.1">2</tspan></text>
<rect x="430.6" y="238.6" width="6.6" height="6.6" fill="#adff2f"/>
<text x="440" y="245.2" font-size="9.1" class="dv" fill="#1a1a1a"><tspan font-style="italic">J</tspan><tspan dx="0.5" dy="-2.2" font-size="9" class="ls" font-style="italic">′′′</tspan><tspan dx="-5.46" dy="4.2" font-size="6.1">2</tspan></text>
<polygon points="433.9,252 437.4,259 430.4,259" fill="#0000ff"/>
<text x="440" y="258" font-size="9.1" class="dv" fill="#1a1a1a"><tspan font-style="italic">J</tspan><tspan dy="2" font-size="6.1">3</tspan></text>
<circle cx="433.9" cy="268.3" r="3.3" fill="#000080"/>
<text x="440" y="271.6" font-size="9.1" class="dv" fill="#1a1a1a"><tspan font-style="italic">J</tspan><tspan dx="0.5" dy="-2.2" font-size="9" class="ls" font-style="italic">′</tspan><tspan dx="-2.02" dy="4.2" font-size="6.1">3</tspan></text>
<polygon points="433.9,277.97 437.93,282 433.9,286.03 429.87,282" fill="#4169e1"/>
<text x="440" y="285.3" font-size="9.1" class="dv" fill="#1a1a1a"><tspan font-style="italic">J</tspan><tspan dx="0.5" dy="-2.2" font-size="9" class="ls" font-style="italic">′′</tspan><tspan dx="-3.74" dy="4.2" font-size="6.1">3</tspan></text>
<rect x="430.6" y="291.9" width="6.6" height="6.6" fill="#b0c4de"/>
<text x="440" y="298.5" font-size="9.1" class="dv" fill="#1a1a1a"><tspan font-style="italic">J</tspan><tspan dx="0.5" dy="-2.2" font-size="9" class="ls" font-style="italic">′′′</tspan><tspan dx="-5.46" dy="4.2" font-size="6.1">3</tspan></text>
<polygon points="430.4,309 437.4,305.5 437.4,312.5" fill="#ff0000"/>
<text x="440" y="311.5" font-size="9.1" class="dv" fill="#1a1a1a"><tspan font-style="italic">J</tspan><tspan dy="2" font-size="6.1">4a</tspan></text>
<polygon points="464.8,202.2 457.8,198.7 457.8,205.7" fill="#f08080"/>
<text x="467.2" y="204.7" font-size="9.1" class="dv" fill="#1a1a1a"><tspan font-style="italic">J</tspan><tspan dy="2" font-size="6.1">4b</tspan></text>
<polygon points="461.3,210.97 465.33,215 461.3,219.03 457.27,215" fill="#ff9a10"/>
<text x="467.2" y="217.5" font-size="9.1" class="dv" fill="#1a1a1a"><tspan font-style="italic">J</tspan><tspan dy="2" font-size="6.1">5</tspan></text>
<polygon points="461.3,224.13 464.7,226.6 463.4,230.59 459.2,230.59 457.9,226.6" fill="#ffff00"/>
<text x="467.2" y="230.2" font-size="9.1" class="dv" fill="#1a1a1a"><tspan font-style="italic">J</tspan><tspan dy="2" font-size="6.1">7</tspan></text>
<polygon points="461.3,236.83 464.7,239.3 463.4,243.29 459.2,243.29 457.9,239.3" fill="#ffd000"/>
<text x="467.2" y="243.7" font-size="9.1" class="dv" fill="#1a1a1a"><tspan font-style="italic">J</tspan><tspan dx="0.5" dy="-2.2" font-size="9" class="ls" font-style="italic">′</tspan><tspan dx="-2.02" dy="4.2" font-size="6.1">7</tspan></text>
<polygon points="461.3,250.07 465.33,254.1 461.3,258.13 457.27,254.1" fill="#da70d6"/>
<text x="467.2" y="256.6" font-size="9.1" class="dv" fill="#1a1a1a"><tspan font-style="italic">J</tspan><tspan dy="2" font-size="6.1">8</tspan></text>
<polygon points="460.08,264.1 462.52,264.1 462.52,266.08 464.5,266.08 464.5,268.52 462.52,268.52 462.52,270.5 460.08,270.5 460.08,268.52 458.1,268.52 458.1,266.08 460.08,266.08" fill="#9400d3"/>
<text x="467.2" y="269.8" font-size="9.1" class="dv" fill="#1a1a1a"><tspan font-style="italic">J</tspan><tspan dy="2" font-size="6.1">9a</tspan></text>
<polygon points="460.05,276.7 462.55,276.7 462.55,278.75 464.6,278.75 464.6,281.25 462.55,281.25 462.55,283.3 460.05,283.3 460.05,281.25 458,281.25 458,278.75 460.05,278.75" fill="#ffb6c1" transform="rotate(45 461.3 280)"/>
<text x="467.2" y="283.3" font-size="9.1" class="dv" fill="#1a1a1a"><tspan font-style="italic">J</tspan><tspan dx="0.5" dy="-2.2" font-size="9" class="ls" font-style="italic">′</tspan><tspan dx="-2.02" dy="4.2" font-size="6.1">9a</tspan></text>
<polygon points="461.3,289.26 462.2,291.76 464.86,291.84 462.76,293.47 463.5,296.03 461.3,294.53 459.1,296.03 459.84,293.47 457.74,291.84 460.4,291.76" fill="#00ffff"/>
<text x="467.2" y="295.5" font-size="9.1" class="dv" fill="#1a1a1a"><tspan font-style="italic">J</tspan><tspan dy="2" font-size="6.1">9b</tspan></text>
<polygon points="461.3,302.43 464.39,304.21 464.39,307.79 461.3,309.57 458.21,307.79 458.21,304.21" fill="#da70d6"/>
<text x="467.2" y="309.3" font-size="9.1" class="dv" fill="#1a1a1a"><tspan font-style="italic">J</tspan><tspan dx="0.5" dy="-2.2" font-size="9" class="ls" font-style="italic">′</tspan><tspan dx="-2.02" dy="4.2" font-size="6.1">9b</tspan></text>
<g id="ins">
<path class="i2" d="M535 284.8L543.3 284.3"/>
<path class="i1" d="M543 280.1L543 284.7"/>
<path class="i2" d="M527.3 285.2L535.7 284.7"/>
<path class="i2" d="M542.7 284.2L547.3 286.1"/>
<path class="i2" d="M519.7 285.6L528 285.1"/>
<circle cx="543" cy="284.3" r="3.4" fill="url(#gm1)"/>
<path class="i1" d="M543 276.2L543 280.8"/>
<path class="i3" d="M528.9 277.7L519.7 285.8"/>
<path class="i1" d="M543 272.4L543 277"/>
<path class="i2" d="M546.6 285.8L551.2 287.8"/>
<path class="i2" d="M516.9 288.4L520.3 285.4"/>
<circle cx="520" cy="285.6" r="3.4" fill="url(#gm1)"/>
<path class="i3" d="M517.7 282.5L520.2 285.9"/>
<path class="i3" d="M534.6 272.5L528.4 278.1"/>
<path class="i1" d="M543 268.6L543 273.1"/>
<path class="i3" d="M537.5 270L534.1 273"/>
<path class="i2" d="M550.6 287.5L555.2 289.5"/>
<path class="i3" d="M540.4 267.4L537 270.4"/>
<path class="i1" d="M543 264.7L543 269.3"/>
<path class="i3" d="M543.3 264.8L539.9 267.9"/>
<path class="i3" d="M542.8 264.8L545.2 268.6"/>
<path class="i2" d="M514.1 291L517.4 288"/>
<path class="i3" d="M544.8 268L547.1 271.8"/>
<path class="i3" d="M543.3 265.3L539.4 262.3"/>
<path class="i1" d="M543 260.8L543 265.4"/>
<path class="i3" d="M546.8 271.2L551.1 278.3"/>
<path class="i2" d="M554.5 289.2L559.1 291.1"/>
<path class="i3" d="M550.7 277.7L553.1 281.6"/>
<path class="i3" d="M515.5 279.6L518.1 283"/>
<path class="i3" d="M552.7 281L555 284.8"/>
<path class="i3" d="M542.7 265.3L546.4 262.3"/>
<path class="i3" d="M540 262.7L536.2 259.7"/>
<path class="i3" d="M554.7 284.2L557 288.1"/>
<circle cx="543" cy="265.05" r="3.3" fill="url(#gm2)"/>
<path class="i1" d="M543 257L543 261.6"/>
<path class="i3" d="M556.6 287.5L559 291.3"/>
<path class="i3" d="M536.7 260.1L532.9 257.1"/>
<path class="i1" d="M543 253.2L543 257.7"/>
<path class="i2" d="M511.2 293.6L514.6 290.6"/>
<path class="i2" d="M559.1 290.8L555.8 293.8"/>
<path class="i3" d="M533.4 257.6L529.6 254.6"/>
<circle cx="558.8" cy="291" r="3.4" fill="url(#gm1)"/>
<path class="i3" d="M556.5 287.9L559 291.3"/>
<path class="i1" d="M543 249.3L543 253.8"/>
<path class="i3" d="M545.9 262.8L549.6 259.8"/>
<path class="i3" d="M530.1 255L526.3 252"/>
<path class="i3" d="M513.4 276.7L516 280.2"/>
<path class="i1" d="M543 245.5L543 250"/>
<path class="i1" d="M511.5 289.2L511.5 293.8"/>
<path class="i2" d="M515.8 295L511.2 293.3"/>
<path class="i3" d="M526.8 252.4L523 249.4"/>
<path class="i2" d="M535 246.3L543.3 245.8"/>
<path class="i3" d="M539.4 243L543.3 246"/>
<path class="i2" d="M531.2 246.5L535.7 246.2"/>
<circle cx="511.5" cy="293.4" r="3.4" fill="url(#gm1)"/>
<path class="i1" d="M511.5 285.3L511.5 289.9"/>
<path class="i2" d="M556.3 293.4L553.1 296.4"/>
<path class="i2" d="M527.3 246.7L531.8 246.4"/>
<path class="i2" d="M542.7 245.7L547.3 247.6"/>
<path class="i3" d="M523.6 249.9L519.7 246.9"/>
<path class="i3" d="M549 260.2L552.8 257.3"/>
<path class="i2" d="M523.5 246.9L528 246.6"/>
<path class="i3" d="M546.4 243.1L542.7 246"/>
<path class="i2" d="M519.7 247.1L524.2 246.9"/>
<path class="i2" d="M519.8 296.5L515.2 294.8"/>
<path class="i3" d="M536.2 240.5L540 243.5"/>
<path class="i3" d="M518.7 251.3L520.1 246.8"/>
<path class="i3" d="M554.5 285L557 288.4"/>
<circle cx="543" cy="245.8" r="3.4" fill="url(#gm1)"/>
<path class="i1" d="M511.5 281.5L511.5 286.1"/>
<path class="i1" d="M520 242.9L520 247.4"/>
<path class="i3" d="M517.5 255.2L518.9 250.6"/>
<path class="i3" d="M532.9 237.9L536.7 240.9"/>
<path class="i3" d="M516.3 259L517.7 254.5"/>
<path class="i3" d="M511.3 273.9L513.8 277.3"/>
<path class="i2" d="M546.6 247.3L551.2 249.3"/>
<path class="i2" d="M516.9 249.9L520.3 246.9"/>
<path class="i1" d="M511.5 277.6L511.5 282.2"/>
<path class="i3" d="M515 262.9L516.5 258.4"/>
<path class="i2" d="M523.8 297.9L519.2 296.2"/>
<circle cx="520" cy="247.1" r="3.4" fill="url(#gm1)"/>
<path class="i1" d="M520 239.1L520 243.6"/>
<path class="i3" d="M513.8 266.8L515.2 262.2"/>
<path class="i3" d="M529.6 235.3L533.4 238.3"/>
<path class="i3" d="M552.2 257.7L555.9 254.8"/>
<path class="i2" d="M553.6 296L550.3 299"/>
<path class="i3" d="M512.6 270.6L514 266.1"/>
<path class="i3" d="M549.6 240.6L545.9 243.5"/>
<path class="i1" d="M511.5 273.8L511.5 278.4"/>
<path class="i1" d="M520 235.2L520 239.8"/>
<path class="i3" d="M511.4 274.5L512.8 270"/>
<path class="i3" d="M526.3 232.8L530.1 235.8"/>
<path class="i3" d="M511.3 273.9L514 278"/>
<path class="i2" d="M550.6 249L555.2 251"/>
<path class="i2" d="M527.8 299.4L523.2 297.7"/>
<path class="i3" d="M513.6 277.4L518.5 285.2"/>
<path class="i2" d="M550.9 298.8L546.4 298.9"/>
<path class="i3" d="M518.2 284.6L520.8 288.8"/>
<path class="i1" d="M511.5 269.9L511.5 274.5"/>
<path class="i2" d="M547.1 298.9L542.6 299"/>
<path class="i3" d="M520.5 288.2L523.1 292.4"/>
<path class="i3" d="M552.4 282.1L554.9 285.6"/>
<path class="i2" d="M543.2 299L534.9 299.1"/>
<path class="i1" d="M520 231.3L520 235.9"/>
<path class="i3" d="M522.7 291.8L525.4 296"/>
<path class="i2" d="M535.5 299.1L531 299.2"/>
<path class="i3" d="M525 295.4L527.7 299.6"/>
<path class="i3" d="M523 230.2L526.8 233.2"/>
<path class="i2" d="M531.7 299.2L527.2 299.3"/>
<path class="i1" d="M550.6 294.6L550.6 299.2"/>
<path class="i3" d="M511.2 274.4L515 271.3"/>
<path class="i2" d="M514.1 252.5L517.4 249.5"/>
<path class="i3" d="M530.7 296.6L527.2 299.5"/>
<path class="i3" d="M555.4 255.2L559.1 252.3"/>
<circle cx="511.5" cy="274.15" r="3.3" fill="url(#gm2)"/>
<path class="i1" d="M511.5 266.1L511.5 270.6"/>
<path class="i1" d="M520 227.5L520 232"/>
<path class="i3" d="M533.5 294.1L530.1 297.1"/>
<path class="i3" d="M519.7 227.6L523.6 230.6"/>
<path class="i3" d="M552.8 238.1L549 241"/>
<path class="i2" d="M554.5 250.7L559.1 252.6"/>
<circle cx="550.6" cy="298.8" r="3.4" fill="url(#gm1)"/>
<path class="i1" d="M550.6 290.8L550.6 295.3"/>
<path class="i3" d="M536.4 291.7L533 294.6"/>
<path class="i3" d="M520.1 227.5L518.7 232"/>
<circle cx="527.5" cy="299.3" r="3.4" fill="url(#gm1)"/>
<path class="i3" d="M519.7 228.1L523.1 225"/>
<path class="i1" d="M511.5 262.2L511.5 266.8"/>
<path class="i1" d="M520 223.7L520 228.2"/>
<path class="i3" d="M518.9 231.4L517.5 235.9"/>
<path class="i3" d="M557.5 256.7L558.9 252.2"/>
<path class="i3" d="M539.3 289.2L535.9 292.1"/>
<path class="i3" d="M522.6 225.5L526 222.5"/>
<path class="i1" d="M550.6 286.9L550.6 291.5"/>
<path class="i1" d="M558.8 248.3L558.8 252.8"/>
<path class="i3" d="M517.7 235.2L516.3 239.8"/>
<path class="i3" d="M556.4 260.6L557.7 256"/>
<path class="i3" d="M514.4 271.7L518.2 268.6"/>
<path class="i3" d="M525.5 222.9L528.9 219.9"/>
<path class="i3" d="M542.2 286.7L538.8 289.7"/>
<path class="i1" d="M511.5 258.4L511.5 263"/>
<path class="i3" d="M516.5 239.1L515 243.6"/>
<path class="i3" d="M555.2 264.4L556.6 259.9"/>
<circle cx="520" cy="227.85" r="3.3" fill="url(#gm2)"/>
<path class="i1" d="M520 219.8L520 224.3"/>
<path class="i2" d="M511.2 255.1L514.6 252.1"/>
<path class="i3" d="M520.2 228.1L517.7 224.7"/>
<path class="i3" d="M550.4 279.3L552.9 282.7"/>
<path class="i3" d="M528.4 220.4L531.8 217.3"/>
<path class="i2" d="M559.1 252.3L555.8 255.3"/>
<path class="i1" d="M550.6 283.1L550.6 287.6"/>
<path class="i3" d="M545.1 284.3L541.7 287.2"/>
<path class="i3" d="M515.2 243L513.8 247.5"/>
<path class="i3" d="M554 268.3L555.4 263.8"/>
<path class="i3" d="M555.9 235.5L552.2 238.5"/>
<circle cx="558.8" cy="252.5" r="3.4" fill="url(#gm1)"/>
<path class="i1" d="M558.8 244.5L558.8 249"/>
<path class="i3" d="M531.2 217.8L534.6 214.8"/>
<path class="i3" d="M514 246.8L512.6 251.4"/>
<path class="i3" d="M552.8 272.2L554.2 267.6"/>
<path class="i1" d="M511.5 254.6L511.5 259.1"/>
<path class="i3" d="M548 281.8L544.6 284.7"/>
<path class="i1" d="M520 215.9L520 220.5"/>
<path class="i3" d="M534.1 215.2L537.5 212.2"/>
<path class="i3" d="M512.8 250.7L511.4 255.2"/>
<path class="i3" d="M551.7 276L553 271.5"/>
<path class="i1" d="M550.6 279.2L550.6 283.8"/>
<path class="i1" d="M558.8 240.6L558.8 245.2"/>
<path class="i3" d="M550.9 279.3L547.4 282.2"/>
<path class="i3" d="M550.5 279.9L551.9 275.4"/>
<path class="i3" d="M537 212.7L540.4 209.6"/>
<path class="i3" d="M517.6 269L521.4 265.9"/>
<path class="i3" d="M539.9 210.1L543.3 207.1"/>
<path class="i1" d="M520 212.1L520 216.6"/>
<path class="i2" d="M515.8 256.5L511.2 254.8"/>
<path class="i3" d="M550.9 279.8L547 276.7"/>
<path class="i1" d="M550.6 275.3L550.6 279.9"/>
<path class="i3" d="M545.2 210.8L542.8 207"/>
<path class="i2" d="M538.8 207.5L543.3 207.3"/>
<path class="i3" d="M515 252L511.2 255.1"/>
<path class="i1" d="M558.8 236.8L558.8 241.3"/>
<path class="i3" d="M547.1 214.1L544.8 210.2"/>
<path class="i2" d="M535 207.8L539.5 207.5"/>
<path class="i3" d="M559.1 233L555.4 236"/>
<path class="i3" d="M549.1 217.3L546.8 213.5"/>
<path class="i2" d="M531.2 208L535.7 207.7"/>
<circle cx="511.5" cy="254.9" r="3.4" fill="url(#gm1)"/>
<path class="i2" d="M556.3 254.9L553.1 257.9"/>
<path class="i3" d="M547.6 277.1L543.7 274"/>
<path class="i3" d="M551.1 220.6L548.7 216.7"/>
<path class="i2" d="M527.3 208.2L531.8 207.9"/>
<path class="i1" d="M520 208.2L520 212.8"/>
<path class="i2" d="M542.7 207.2L547.3 209.1"/>
<path class="i3" d="M553.1 223.8L550.7 220"/>
<path class="i2" d="M523.5 208.4L528 208.1"/>
<circle cx="550.6" cy="279.55" r="3.3" fill="url(#gm2)"/>
<path class="i1" d="M550.6 271.5L550.6 276.1"/>
<path class="i3" d="M518.1 225.3L515.5 221.8"/>
<path class="i3" d="M555 227.1L552.7 223.2"/>
<path class="i2" d="M519.7 208.6L524.2 208.4"/>
<path class="i1" d="M558.8 232.9L558.8 237.4"/>
<path class="i2" d="M519.8 258L515.2 256.3"/>
<path class="i3" d="M557 230.3L554.7 226.5"/>
<path class="i3" d="M544.3 274.4L540.4 271.3"/>
<circle cx="543" cy="207.3" r="3.4" fill="url(#gm1)"/>
<path class="i3" d="M559 233.5L556.6 229.7"/>
<path class="i3" d="M520.8 266.4L524.6 263.2"/>
<path class="i3" d="M558.9 232.9L557.5 237.4"/>
<path class="i1" d="M550.6 267.6L550.6 272.2"/>
<path class="i1" d="M558.8 229.1L558.8 233.6"/>
<path class="i3" d="M541 271.7L537.1 268.6"/>
<path class="i3" d="M557.7 236.8L556.4 241.3"/>
<path class="i3" d="M518.2 249.3L514.4 252.5"/>
<path class="i2" d="M546.6 208.8L551.2 210.8"/>
<path class="i2" d="M516.9 211.4L520.3 208.4"/>
<path class="i3" d="M556.6 240.6L555.2 245.2"/>
<path class="i2" d="M523.8 259.4L519.2 257.7"/>
<circle cx="520" cy="208.6" r="3.4" fill="url(#gm1)"/>
<path class="i1" d="M550.6 263.8L550.6 268.4"/>
<path class="i3" d="M537.7 269.1L533.8 265.9"/>
<path class="i3" d="M555.4 244.5L554 249"/>
<circle cx="558.8" cy="233.25" r="3.3" fill="url(#gm2)"/>
<path class="i1" d="M558.8 225.2L558.8 229.8"/>
<path class="i2" d="M553.6 257.5L550.3 260.5"/>
<path class="i3" d="M559 233.5L556.5 230.1"/>
<path class="i3" d="M554.2 248.4L552.8 252.9"/>
<path class="i3" d="M534.4 266.4L530.5 263.3"/>
<path class="i3" d="M553 252.2L551.7 256.8"/>
<path class="i3" d="M524 263.7L527.8 260.6"/>
<path class="i1" d="M550.6 259.9L550.6 264.5"/>
<path class="i2" d="M550.6 210.5L555.2 212.5"/>
<path class="i1" d="M558.8 221.3L558.8 225.9"/>
<path class="i2" d="M527.8 260.9L523.2 259.2"/>
<path class="i3" d="M516 222.4L513.4 219"/>
<path class="i3" d="M551.9 256.1L550.5 260.6"/>
<path class="i2" d="M550.9 260.3L546.4 260.4"/>
<path class="i3" d="M521.4 246.7L517.6 249.8"/>
<path class="i3" d="M531.1 263.7L527.2 260.6"/>
<path class="i2" d="M547.1 260.4L531 260.7"/>
<path class="i3" d="M547 257.4L550.9 260.5"/>
<path class="i2" d="M531.7 260.7L527.2 260.8"/>
<path class="i1" d="M558.8 217.5L558.8 222"/>
<path class="i2" d="M514.1 214L517.4 211"/>
<path class="i1" d="M527.5 256.6L527.5 261.2"/>
<path class="i3" d="M543.7 254.7L547.6 257.8"/>
<path class="i2" d="M554.5 212.2L559.1 214.1"/>
<circle cx="550.6" cy="260.3" r="3.4" fill="url(#gm1)"/>
<path class="i1" d="M558.8 213.7L558.8 218.2"/>
<path class="i3" d="M540.4 252L544.3 255.2"/>
<path class="i3" d="M557 230.7L554.5 227.2"/>
<circle cx="527.5" cy="260.8" r="3.4" fill="url(#gm1)"/>
<path class="i1" d="M527.5 252.8L527.5 257.3"/>
<path class="i3" d="M524.6 244L520.8 247.1"/>
<path class="i3" d="M537.1 249.4L541 252.5"/>
<path class="i3" d="M513.8 219.5L511.3 216.1"/>
<path class="i1" d="M527.5 248.9L527.5 253.5"/>
<path class="i2" d="M511.2 216.6L514.6 213.6"/>
<path class="i2" d="M559.1 213.8L555.8 216.8"/>
<path class="i3" d="M533.8 246.7L537.7 249.8"/>
<circle cx="558.8" cy="214" r="3.4" fill="url(#gm1)"/>
<path class="i1" d="M527.5 245.1L527.5 249.6"/>
<path class="i3" d="M530.5 244L534.4 247.1"/>
<path class="i3" d="M527.8 241.3L524 244.4"/>
<path class="i3" d="M518.5 227.5L511.3 216.1"/>
<path class="i1" d="M527.5 241.2L527.5 245.8"/>
<path class="i3" d="M520.8 231.1L518.2 226.9"/>
<path class="i3" d="M527.2 241.3L531.1 244.4"/>
<path class="i3" d="M523.1 234.7L520.5 230.5"/>
<path class="i3" d="M554.9 227.8L552.4 224.4"/>
<path class="i3" d="M525.4 238.3L522.7 234.1"/>
<path class="i2" d="M515.8 218L511.2 216.3"/>
<path class="i3" d="M527.7 241.8L525 237.7"/>
<path class="i3" d="M527.2 241.8L530.7 238.9"/>
<path class="i1" d="M527.5 237.4L527.5 241.9"/>
<circle cx="511.5" cy="216.4" r="3.4" fill="url(#gm1)"/>
<path class="i2" d="M556.3 216.4L553.1 219.4"/>
<path class="i3" d="M530.1 239.3L533.5 236.4"/>
<path class="i2" d="M519.8 219.5L515.2 217.8"/>
<path class="i3" d="M533 236.8L536.4 233.9"/>
<circle cx="527.5" cy="241.55" r="3.3" fill="url(#gm2)"/>
<path class="i1" d="M527.5 233.5L527.5 238.1"/>
<path class="i3" d="M535.9 234.4L539.3 231.4"/>
<path class="i1" d="M527.5 229.7L527.5 234.2"/>
<path class="i3" d="M538.8 231.9L542.2 229"/>
<path class="i2" d="M523.8 220.9L519.2 219.2"/>
<path class="i3" d="M552.9 224.9L550.4 221.5"/>
<path class="i3" d="M541.7 229.4L545.1 226.5"/>
<path class="i2" d="M553.6 219L550.3 222"/>
<path class="i1" d="M527.5 225.8L527.5 230.3"/>
<path class="i3" d="M544.6 227L550.9 221.6"/>
<path class="i2" d="M527.8 222.4L523.2 220.7"/>
<path class="i1" d="M527.5 222L527.5 226.5"/>
<path class="i2" d="M550.9 221.8L527.2 222.3"/>
<circle cx="550.6" cy="221.8" r="3.4" fill="url(#gm1)"/>
<circle cx="527.5" cy="222.3" r="3.4" fill="url(#gm1)"/>
<path class="ar" d="M504.3 218.3L508.9 217.1"/>
<path class="ar" d="M514.1 215.7L517.9 214.7"/>
<polygon points="502.5,218.8 506.2,215.6 506.9,219.8" fill="#151515"/>
<path class="ar" d="M504.3 256.8L508.9 255.6"/>
<path class="ar" d="M514.1 254.2L517.9 253.2"/>
<polygon points="502.5,257.3 506.2,254.1 506.9,258.3" fill="#151515"/>
<path class="ar" d="M504.3 295.3L508.9 294.1"/>
<path class="ar" d="M514.1 292.7L517.9 291.7"/>
<polygon points="502.5,295.8 506.2,292.6 506.9,296.8" fill="#151515"/>
<path class="ar" d="M512.8 210.5L517.4 209.3"/>
<path class="ar" d="M522.6 207.9L526.4 206.9"/>
<polygon points="511,211 514.7,207.8 515.4,212" fill="#151515"/>
<path class="ar" d="M512.8 249L517.4 247.8"/>
<path class="ar" d="M522.6 246.4L526.4 245.4"/>
<polygon points="511,249.5 514.7,246.3 515.4,250.5" fill="#151515"/>
<path class="ar" d="M512.8 287.5L517.4 286.3"/>
<path class="ar" d="M522.6 284.9L526.4 283.9"/>
<polygon points="511,288 514.7,284.8 515.4,289" fill="#151515"/>
<path class="ar" d="M520.3 224.2L524.9 223"/>
<path class="ar" d="M530.1 221.6L533.9 220.6"/>
<polygon points="518.5,224.7 522.2,221.5 522.9,225.7" fill="#151515"/>
<path class="ar" d="M520.3 262.7L524.9 261.5"/>
<path class="ar" d="M530.1 260.1L533.9 259.1"/>
<polygon points="518.5,263.2 522.2,260 522.9,264.2" fill="#151515"/>
<path class="ar" d="M520.3 301.2L524.9 300"/>
<path class="ar" d="M530.1 298.6L533.9 297.6"/>
<polygon points="518.5,301.7 522.2,298.5 522.9,302.7" fill="#151515"/>
<path class="ar" d="M535.8 209.2L540.4 208"/>
<path class="ar" d="M545.6 206.6L549.4 205.6"/>
<polygon points="534,209.7 537.7,206.5 538.4,210.7" fill="#151515"/>
<path class="ar" d="M535.8 247.7L540.4 246.5"/>
<path class="ar" d="M545.6 245.1L549.4 244.1"/>
<polygon points="534,248.2 537.7,245 538.4,249.2" fill="#151515"/>
<path class="ar" d="M535.8 286.2L540.4 285"/>
<path class="ar" d="M545.6 283.6L549.4 282.6"/>
<polygon points="534,286.7 537.7,283.5 538.4,287.7" fill="#151515"/>
<path class="ar" d="M543.4 223.7L548 222.5"/>
<path class="ar" d="M553.2 221.1L557 220.1"/>
<polygon points="541.6,224.2 545.3,221 546,225.2" fill="#151515"/>
<path class="ar" d="M543.4 262.2L548 261"/>
<path class="ar" d="M553.2 259.6L557 258.6"/>
<polygon points="541.6,262.7 545.3,259.5 546,263.7" fill="#151515"/>
<path class="ar" d="M543.4 300.7L548 299.5"/>
<path class="ar" d="M553.2 298.1L557 297.1"/>
<polygon points="541.6,301.2 545.3,298 546,302.2" fill="#151515"/>
<path class="ar" d="M551.6 215.9L556.2 214.7"/>
<path class="ar" d="M561.4 213.3L565.2 212.3"/>
<polygon points="549.8,216.4 553.5,213.2 554.2,217.4" fill="#151515"/>
<path class="ar" d="M551.6 254.4L556.2 253.2"/>
<path class="ar" d="M561.4 251.8L565.2 250.8"/>
<polygon points="549.8,254.9 553.5,251.7 554.2,255.9" fill="#151515"/>
<path class="ar" d="M551.6 292.9L556.2 291.7"/>
<path class="ar" d="M561.4 290.3L565.2 289.3"/>
<polygon points="549.8,293.4 553.5,290.2 554.2,294.4" fill="#151515"/>
<path class="ag" d="M513 229.75L517.4 228.55"/>
<path class="ag" d="M522.6 227.15L526.6 226.05"/>
<polygon points="529.2,225.35 525.3,228.75 524.6,224.35" fill="#c4c4c4"/>
<path class="ag" d="M520.5 243.45L524.9 242.25"/>
<path class="ag" d="M530.1 240.85L534.1 239.75"/>
<polygon points="536.7,239.05 532.8,242.45 532.1,238.05" fill="#c4c4c4"/>
<path class="ag" d="M551.8 235.15L556.2 233.95"/>
<path class="ag" d="M561.4 232.55L565.4 231.45"/>
<polygon points="568,230.75 564.1,234.15 563.4,229.75" fill="#c4c4c4"/>
<path class="ag" d="M504.5 276.05L508.9 274.85"/>
<path class="ag" d="M514.1 273.45L518.1 272.35"/>
<polygon points="520.7,271.65 516.8,275.05 516.1,270.65" fill="#c4c4c4"/>
<path class="ag" d="M536 266.95L540.4 265.75"/>
<path class="ag" d="M545.6 264.35L549.6 263.25"/>
<polygon points="552.2,262.55 548.3,265.95 547.6,261.55" fill="#c4c4c4"/>
<path class="ag" d="M543.6 281.45L548 280.25"/>
<path class="ag" d="M553.2 278.85L557.2 277.75"/>
<polygon points="559.8,277.05 555.9,280.45 555.2,276.05" fill="#c4c4c4"/>
<text x="494.8" y="210.7" font-size="6.5" class="ls" fill="#111">Mn1</text>
<text x="495.6" y="233" font-size="6.5" class="ls" fill="#444">Mn2</text>
<line x1="498.8" y1="287.5" x2="498.8" y2="281.8" stroke="#111" stroke-width="0.8"/>
<circle cx="498.8" cy="281.8" r="0.8" fill="#111"/>
<line x1="498.8" y1="287.5" x2="492.8" y2="289.7" stroke="#111" stroke-width="0.8"/>
<circle cx="492.8" cy="289.7" r="0.8" fill="#111"/>
<line x1="498.8" y1="287.5" x2="505" y2="289.1" stroke="#111" stroke-width="0.8"/>
<circle cx="505" cy="289.1" r="0.8" fill="#111"/>
<text x="495.6" y="280.4" font-size="5.6" text-anchor="middle" class="ls" font-weight="bold">c</text>
<text x="491.6" y="287" font-size="5.6" text-anchor="middle" class="ls" font-weight="bold">a</text>
<text x="504.8" y="286.8" font-size="5.6" text-anchor="middle" class="ls" font-weight="bold">b</text>
</g>
<rect x="423.75" y="85.5" width="256.5" height="236.6" fill="none" stroke="#262626" stroke-width="0.9"/>
<line x1="423.75" y1="322.1" x2="423.75" y2="319.6" stroke="#262626" stroke-width="0.7"/>
<line x1="434" y1="322.1" x2="434" y2="319.6" stroke="#262626" stroke-width="0.7"/>
<line x1="444.25" y1="322.1" x2="444.25" y2="319.6" stroke="#262626" stroke-width="0.7"/>
<line x1="454.5" y1="322.1" x2="454.5" y2="319.6" stroke="#262626" stroke-width="0.7"/>
<line x1="464.75" y1="322.1" x2="464.75" y2="319.6" stroke="#262626" stroke-width="0.7"/>
<line x1="475" y1="322.1" x2="475" y2="319.6" stroke="#262626" stroke-width="0.7"/>
<line x1="485.25" y1="322.1" x2="485.25" y2="319.6" stroke="#262626" stroke-width="0.7"/>
<line x1="495.5" y1="322.1" x2="495.5" y2="319.6" stroke="#262626" stroke-width="0.7"/>
<line x1="505.75" y1="322.1" x2="505.75" y2="319.6" stroke="#262626" stroke-width="0.7"/>
<line x1="516" y1="322.1" x2="516" y2="319.6" stroke="#262626" stroke-width="0.7"/>
<line x1="526.25" y1="322.1" x2="526.25" y2="319.6" stroke="#262626" stroke-width="0.7"/>
<line x1="536.5" y1="322.1" x2="536.5" y2="319.6" stroke="#262626" stroke-width="0.7"/>
<line x1="546.75" y1="322.1" x2="546.75" y2="319.6" stroke="#262626" stroke-width="0.7"/>
<line x1="557" y1="322.1" x2="557" y2="319.6" stroke="#262626" stroke-width="0.7"/>
<line x1="567.25" y1="322.1" x2="567.25" y2="319.6" stroke="#262626" stroke-width="0.7"/>
<line x1="577.5" y1="322.1" x2="577.5" y2="319.6" stroke="#262626" stroke-width="0.7"/>
<line x1="587.75" y1="322.1" x2="587.75" y2="319.6" stroke="#262626" stroke-width="0.7"/>
<line x1="598" y1="322.1" x2="598" y2="319.6" stroke="#262626" stroke-width="0.7"/>
<line x1="608.25" y1="322.1" x2="608.25" y2="319.6" stroke="#262626" stroke-width="0.7"/>
<line x1="618.5" y1="322.1" x2="618.5" y2="319.6" stroke="#262626" stroke-width="0.7"/>
<line x1="628.75" y1="322.1" x2="628.75" y2="319.6" stroke="#262626" stroke-width="0.7"/>
<line x1="639" y1="322.1" x2="639" y2="319.6" stroke="#262626" stroke-width="0.7"/>
<line x1="649.25" y1="322.1" x2="649.25" y2="319.6" stroke="#262626" stroke-width="0.7"/>
<line x1="659.5" y1="322.1" x2="659.5" y2="319.6" stroke="#262626" stroke-width="0.7"/>
<line x1="669.75" y1="322.1" x2="669.75" y2="319.6" stroke="#262626" stroke-width="0.7"/>
<line x1="680" y1="322.1" x2="680" y2="319.6" stroke="#262626" stroke-width="0.7"/>
<line x1="423.75" y1="322.1" x2="423.75" y2="317.9" stroke="#262626" stroke-width="0.9"/>
<line x1="475" y1="322.1" x2="475" y2="317.9" stroke="#262626" stroke-width="0.9"/>
<line x1="526.25" y1="322.1" x2="526.25" y2="317.9" stroke="#262626" stroke-width="0.9"/>
<line x1="577.5" y1="322.1" x2="577.5" y2="317.9" stroke="#262626" stroke-width="0.9"/>
<line x1="628.75" y1="322.1" x2="628.75" y2="317.9" stroke="#262626" stroke-width="0.9"/>
<line x1="680" y1="322.1" x2="680" y2="317.9" stroke="#262626" stroke-width="0.9"/>
<line x1="423.75" y1="318.59" x2="426.25" y2="318.59" stroke="#262626" stroke-width="0.7"/>
<line x1="423.75" y1="311.07" x2="426.25" y2="311.07" stroke="#262626" stroke-width="0.7"/>
<line x1="423.75" y1="303.55" x2="426.25" y2="303.55" stroke="#262626" stroke-width="0.7"/>
<line x1="423.75" y1="296.03" x2="426.25" y2="296.03" stroke="#262626" stroke-width="0.7"/>
<line x1="423.75" y1="288.51" x2="426.25" y2="288.51" stroke="#262626" stroke-width="0.7"/>
<line x1="423.75" y1="280.99" x2="426.25" y2="280.99" stroke="#262626" stroke-width="0.7"/>
<line x1="423.75" y1="273.47" x2="426.25" y2="273.47" stroke="#262626" stroke-width="0.7"/>
<line x1="423.75" y1="265.95" x2="426.25" y2="265.95" stroke="#262626" stroke-width="0.7"/>
<line x1="423.75" y1="258.43" x2="426.25" y2="258.43" stroke="#262626" stroke-width="0.7"/>
<line x1="423.75" y1="250.91" x2="426.25" y2="250.91" stroke="#262626" stroke-width="0.7"/>
<line x1="423.75" y1="243.39" x2="426.25" y2="243.39" stroke="#262626" stroke-width="0.7"/>
<line x1="423.75" y1="235.87" x2="426.25" y2="235.87" stroke="#262626" stroke-width="0.7"/>
<line x1="423.75" y1="228.35" x2="426.25" y2="228.35" stroke="#262626" stroke-width="0.7"/>
<line x1="423.75" y1="220.83" x2="426.25" y2="220.83" stroke="#262626" stroke-width="0.7"/>
<line x1="423.75" y1="213.31" x2="426.25" y2="213.31" stroke="#262626" stroke-width="0.7"/>
<line x1="423.75" y1="205.79" x2="426.25" y2="205.79" stroke="#262626" stroke-width="0.7"/>
<line x1="423.75" y1="198.27" x2="426.25" y2="198.27" stroke="#262626" stroke-width="0.7"/>
<line x1="423.75" y1="190.75" x2="426.25" y2="190.75" stroke="#262626" stroke-width="0.7"/>
<line x1="423.75" y1="183.23" x2="426.25" y2="183.23" stroke="#262626" stroke-width="0.7"/>
<line x1="423.75" y1="175.71" x2="426.25" y2="175.71" stroke="#262626" stroke-width="0.7"/>
<line x1="423.75" y1="168.19" x2="426.25" y2="168.19" stroke="#262626" stroke-width="0.7"/>
<line x1="423.75" y1="160.67" x2="426.25" y2="160.67" stroke="#262626" stroke-width="0.7"/>
<line x1="423.75" y1="153.15" x2="426.25" y2="153.15" stroke="#262626" stroke-width="0.7"/>
<line x1="423.75" y1="145.63" x2="426.25" y2="145.63" stroke="#262626" stroke-width="0.7"/>
<line x1="423.75" y1="138.11" x2="426.25" y2="138.11" stroke="#262626" stroke-width="0.7"/>
<line x1="423.75" y1="130.59" x2="426.25" y2="130.59" stroke="#262626" stroke-width="0.7"/>
<line x1="423.75" y1="123.07" x2="426.25" y2="123.07" stroke="#262626" stroke-width="0.7"/>
<line x1="423.75" y1="115.55" x2="426.25" y2="115.55" stroke="#262626" stroke-width="0.7"/>
<line x1="423.75" y1="108.03" x2="426.25" y2="108.03" stroke="#262626" stroke-width="0.7"/>
<line x1="423.75" y1="100.51" x2="426.25" y2="100.51" stroke="#262626" stroke-width="0.7"/>
<line x1="423.75" y1="92.99" x2="426.25" y2="92.99" stroke="#262626" stroke-width="0.7"/>
<line x1="423.75" y1="303.55" x2="427.95" y2="303.55" stroke="#262626" stroke-width="0.9"/>
<line x1="423.75" y1="265.95" x2="427.95" y2="265.95" stroke="#262626" stroke-width="0.9"/>
<line x1="423.75" y1="228.35" x2="427.95" y2="228.35" stroke="#262626" stroke-width="0.9"/>
<line x1="423.75" y1="190.75" x2="427.95" y2="190.75" stroke="#262626" stroke-width="0.9"/>
<line x1="423.75" y1="153.15" x2="427.95" y2="153.15" stroke="#262626" stroke-width="0.9"/>
<line x1="423.75" y1="115.55" x2="427.95" y2="115.55" stroke="#262626" stroke-width="0.9"/>
<text x="421" y="306.35" font-size="7.6" text-anchor="end" class="dv" fill="#1a1a1a">−30</text>
<text x="421" y="268.75" font-size="7.6" text-anchor="end" class="dv" fill="#1a1a1a">−20</text>
<text x="421" y="231.15" font-size="7.6" text-anchor="end" class="dv" fill="#1a1a1a">−10</text>
<text x="421" y="193.55" font-size="7.6" text-anchor="end" class="dv" fill="#1a1a1a">0</text>
<text x="421" y="155.95" font-size="7.6" text-anchor="end" class="dv" fill="#1a1a1a">10</text>
<text x="421" y="118.35" font-size="7.6" text-anchor="end" class="dv" fill="#1a1a1a">20</text>
<text x="423.75" y="331.2" font-size="7.6" text-anchor="middle" class="dv" fill="#1a1a1a">0</text>
<text x="475" y="331.2" font-size="7.6" text-anchor="middle" class="dv" fill="#1a1a1a">5</text>
<text x="526.25" y="331.2" font-size="7.6" text-anchor="middle" class="dv" fill="#1a1a1a">10</text>
<text x="577.5" y="331.2" font-size="7.6" text-anchor="middle" class="dv" fill="#1a1a1a">15</text>
<text x="628.75" y="331.2" font-size="7.6" text-anchor="middle" class="dv" fill="#1a1a1a">20</text>
<text x="680" y="331.2" font-size="7.6" text-anchor="middle" class="dv" fill="#1a1a1a">25</text>
<text x="551.6" y="341.4" font-size="9.3" text-anchor="middle" class="dv" fill="#1a1a1a"><tspan font-style="italic">P</tspan> (GPa)</text>
<text x="404" y="205.3" font-size="9" text-anchor="middle" class="dv" fill="#1a1a1a" transform="rotate(-90 404 205.3)"><tspan font-style="italic">J</tspan><tspan dy="1.8" font-size="6.3" font-style="italic">i</tspan><tspan dy="-1.8"> (K)</tspan></text>
<text x="578.3" y="314.2" font-size="9.4" text-anchor="end" class="dv" fill="#1a1a1a">P3̄1c</text>
<text x="587.3" y="314.2" font-size="9.4" class="dv" fill="#1a1a1a">C2/c</text>
<text x="394.9" y="93.6" font-size="10.8" class="dv" font-weight="bold">f</text>
</g>
</svg>
</body></html>
